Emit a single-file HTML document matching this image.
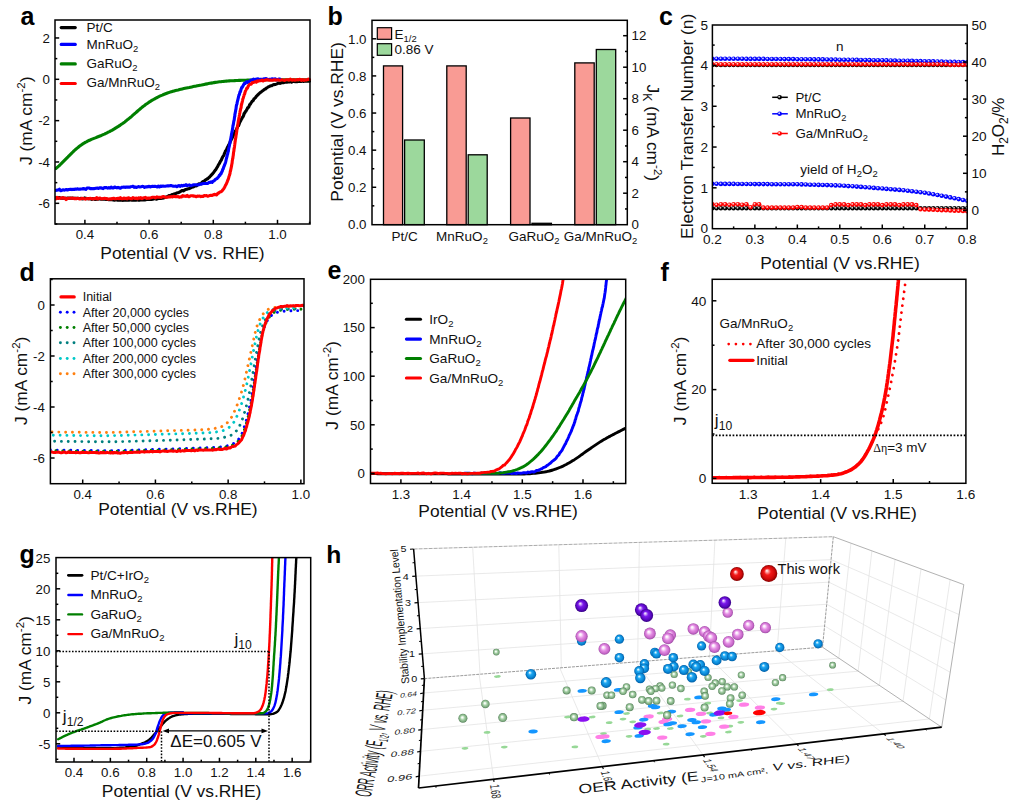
<!DOCTYPE html>
<html><head><meta charset="utf-8"><title>Figure</title>
<style>
html,body{margin:0;padding:0;background:#fff;}
body{width:1019px;height:808px;overflow:hidden;font-family:"Liberation Sans",sans-serif;}
svg{display:block;font-family:"Liberation Sans",sans-serif;}
</style></head><body>
<svg width="1019" height="808" viewBox="0 0 1019 808">
<rect width="1019" height="808" fill="#fff"/>
<clipPath id="ca"><rect x="55" y="20" width="256.5" height="204"/></clipPath>
<g clip-path="url(#ca)">
<path d="M55.9,197.9 L57.1,198.0 L58.3,197.9 L59.5,197.6 L60.7,198.2 L61.9,198.1 L63.1,197.9 L64.2,198.2 L65.4,198.2 L66.6,198.2 L67.8,198.1 L69.0,198.3 L70.2,198.0 L71.4,198.2 L72.6,198.1 L73.8,198.4 L75.0,198.3 L76.2,198.3 L77.4,198.2 L78.6,198.4 L79.8,198.5 L80.9,198.4 L82.1,198.9 L83.3,198.8 L84.5,197.9 L85.7,198.2 L86.9,198.7 L88.1,198.6 L89.3,198.8 L90.5,198.9 L91.7,199.4 L92.9,198.6 L94.1,198.9 L95.3,199.5 L96.5,199.2 L97.6,199.3 L98.8,199.0 L100.0,198.8 L101.2,199.3 L102.4,199.3 L103.6,199.1 L104.8,199.3 L106.0,199.5 L107.2,199.3 L108.4,199.6 L109.6,199.7 L110.8,199.7 L112.0,199.6 L113.2,200.0 L114.3,200.1 L115.5,200.0 L116.7,199.8 L117.9,200.2 L119.1,199.9 L120.3,200.3 L121.5,199.8 L122.7,200.4 L123.9,200.1 L125.1,199.9 L126.3,200.1 L127.5,200.2 L128.7,200.3 L129.8,200.0 L131.0,199.9 L132.2,200.2 L133.4,200.0 L134.6,200.2 L135.8,200.3 L137.0,199.7 L138.2,200.1 L139.4,200.3 L140.6,199.9 L141.8,199.7 L143.0,200.0 L144.2,199.8 L145.4,199.9 L146.6,199.5 L147.8,199.2 L149.0,199.4 L150.2,199.2 L151.4,199.5 L152.6,199.2 L153.8,198.7 L154.9,198.7 L156.1,199.1 L157.3,198.9 L158.5,198.5 L159.6,198.5 L160.8,198.5 L161.9,198.3 L163.1,198.1 L164.2,197.7 L165.4,197.3 L166.5,196.9 L167.6,196.8 L168.8,195.6 L169.9,195.7 L171.0,195.3 L172.1,194.5 L173.3,194.4 L174.4,193.7 L175.5,193.7 L176.6,193.0 L177.8,192.7 L178.9,192.4 L180.0,191.8 L181.1,191.1 L182.3,190.5 L183.4,190.9 L184.5,190.1 L185.7,189.5 L186.8,189.3 L187.9,188.8 L189.1,188.7 L190.2,188.1 L191.3,187.6 L192.4,187.0 L193.6,186.9 L194.6,186.0 L195.7,186.0 L196.8,185.7 L197.9,184.4 L198.9,183.7 L199.9,183.9 L201.0,183.8 L202.0,182.3 L203.0,181.6 L204.0,181.4 L205.0,180.3 L206.0,179.7 L207.0,179.0 L208.0,178.5 L208.9,177.5 L209.8,176.9 L210.6,175.9 L211.5,174.9 L212.2,174.2 L213.0,173.2 L213.7,172.5 L214.4,171.3 L215.1,170.3 L215.7,169.9 L216.4,168.5 L217.0,167.5 L217.6,166.6 L218.2,165.3 L218.8,164.3 L219.4,163.4 L220.0,162.3 L220.6,160.9 L221.2,160.4 L221.7,159.0 L222.3,157.8 L222.8,156.8 L223.4,155.8 L223.9,155.3 L224.4,153.5 L224.9,152.8 L225.4,151.1 L225.9,150.6 L226.5,149.7 L227.0,148.3 L227.5,147.2 L228.0,146.3 L228.5,145.3 L229.1,144.3 L229.6,143.5 L230.1,142.0 L230.7,140.7 L231.2,139.8 L231.7,138.7 L232.2,137.7 L232.8,136.6 L233.3,135.6 L233.8,134.0 L234.3,133.6 L234.9,132.2 L235.4,131.0 L235.9,130.3 L236.5,129.4 L237.0,128.2 L237.5,127.0 L238.1,125.7 L238.6,125.6 L239.2,124.0 L239.7,122.5 L240.3,121.5 L240.8,120.6 L241.4,119.2 L241.9,118.5 L242.5,117.3 L243.0,116.7 L243.6,115.5 L244.1,113.5 L244.7,113.2 L245.3,111.7 L245.9,111.4 L246.5,110.1 L247.1,109.2 L247.7,107.7 L248.3,107.5 L249.0,106.5 L249.6,104.8 L250.3,104.2 L251.0,102.9 L251.7,102.1 L252.4,100.9 L253.2,100.7 L253.9,99.0 L254.7,98.3 L255.5,97.6 L256.3,96.4 L257.1,95.6 L258.0,94.7 L258.8,94.0 L259.7,93.0 L260.6,92.4 L261.5,91.7 L262.4,90.9 L263.4,90.2 L264.4,89.4 L265.4,89.0 L266.4,88.1 L267.4,87.5 L268.5,86.8 L269.5,86.4 L270.6,85.7 L271.7,85.7 L272.8,84.9 L274.0,84.6 L275.1,84.5 L276.3,84.1 L277.4,83.6 L278.6,83.0 L279.8,83.4 L280.9,83.1 L282.1,82.5 L283.3,82.8 L284.5,82.3 L285.7,82.0 L286.8,82.2 L288.0,82.0 L289.2,82.0 L290.4,81.4 L291.6,82.2 L292.8,81.5 L294.0,81.3 L295.2,81.7 L296.4,81.4 L297.6,81.6 L298.7,81.3 L299.9,81.4 L301.1,81.4 L302.3,81.1 L303.5,81.4 L304.7,81.1 L305.9,81.0 L307.1,81.2 L308.3,81.3 L309.5,81.1" fill="none" stroke="#000000" stroke-width="3.1" stroke-linejoin="round" stroke-linecap="round" />
<path d="M55.9,168.5 L56.9,167.6 L58.0,166.7 L59.0,165.8 L60.0,164.8 L61.0,163.9 L62.0,162.9 L63.0,161.9 L64.0,160.9 L65.0,159.9 L66.0,158.9 L67.0,157.9 L68.0,156.9 L69.0,155.8 L70.0,154.8 L71.0,153.8 L72.0,152.8 L73.0,151.9 L74.0,150.9 L75.1,149.9 L76.1,149.0 L77.2,148.1 L78.3,147.2 L79.4,146.3 L80.5,145.5 L81.6,144.7 L82.8,143.9 L84.0,143.2 L85.2,142.4 L86.4,141.8 L87.6,141.1 L88.9,140.5 L90.1,140.0 L91.4,139.4 L92.7,138.9 L94.0,138.4 L95.3,137.9 L96.7,137.3 L98.0,136.8 L99.3,136.3 L100.6,135.8 L101.9,135.2 L103.1,134.6 L104.4,134.1 L105.7,133.5 L107.0,132.8 L108.2,132.2 L109.5,131.6 L110.7,130.9 L111.9,130.3 L113.1,129.6 L114.3,128.9 L115.5,128.1 L116.7,127.4 L117.9,126.7 L119.1,125.9 L120.3,125.1 L121.4,124.3 L122.6,123.5 L123.7,122.7 L124.8,121.9 L125.9,121.0 L127.0,120.1 L128.1,119.3 L129.2,118.4 L130.3,117.5 L131.4,116.6 L132.4,115.7 L133.5,114.7 L134.5,113.8 L135.6,112.9 L136.6,112.0 L137.7,111.0 L138.7,110.1 L139.8,109.2 L140.9,108.3 L142.0,107.4 L143.0,106.5 L144.2,105.7 L145.3,104.8 L146.4,104.0 L147.6,103.2 L148.7,102.4 L149.9,101.7 L151.1,100.9 L152.3,100.2 L153.5,99.5 L154.7,98.8 L155.9,98.1 L157.2,97.5 L158.4,96.8 L159.7,96.2 L161.0,95.6 L162.3,95.1 L163.6,94.5 L164.9,94.0 L166.2,93.5 L167.5,93.0 L168.8,92.6 L170.1,92.1 L171.5,91.7 L172.8,91.3 L174.2,90.9 L175.5,90.5 L176.9,90.2 L178.2,89.9 L179.6,89.5 L180.9,89.2 L182.3,88.9 L183.7,88.6 L185.1,88.3 L186.4,88.0 L187.8,87.7 L189.2,87.5 L190.5,87.2 L191.9,86.9 L193.3,86.6 L194.7,86.3 L196.0,86.1 L197.4,85.8 L198.8,85.5 L200.1,85.2 L201.5,85.0 L202.9,84.7 L204.3,84.4 L205.6,84.1 L207.0,83.9 L208.4,83.6 L209.8,83.3 L211.1,83.1 L212.5,82.9 L213.9,82.6 L215.3,82.4 L216.7,82.2 L218.1,82.0 L219.4,81.8 L220.8,81.7 L222.2,81.5 L223.6,81.4 L225.0,81.2 L226.4,81.1 L227.8,81.0 L229.2,80.9 L230.6,80.8 L232.0,80.7 L233.4,80.7 L234.8,80.6 L236.2,80.5 L237.6,80.5 L239.0,80.4 L240.4,80.4 L241.8,80.3 L243.2,80.3 L244.6,80.2 L246.0,80.2 L247.4,80.1 L248.8,80.1 L250.2,80.1 L251.6,80.0 L253.0,80.0 L254.4,80.0 L255.8,80.0 L257.2,79.9 L258.6,79.9 L260.0,79.9 L261.4,79.9 L262.8,79.9 L264.2,79.9 L265.6,79.8 L267.0,79.8 L268.4,79.8 L269.8,79.8 L271.2,79.8 L272.6,79.8 L274.0,79.8 L275.4,79.8 L276.8,79.8 L278.2,79.8 L279.6,79.8 L281.0,79.8 L282.4,79.8 L283.8,79.8 L285.2,79.8 L286.6,79.8 L288.0,79.8 L289.4,79.8 L290.8,79.8 L292.2,79.8 L293.6,79.8 L295.0,79.8 L296.4,79.8 L297.8,79.8 L299.2,79.8 L300.6,79.8 L302.0,79.8 L303.4,79.8 L304.8,79.8 L306.2,79.8 L307.6,79.8 L309.0,79.8" fill="none" stroke="#007f00" stroke-width="3.1" stroke-linejoin="round" stroke-linecap="round" />
<path d="M55.9,190.4 L57.1,190.1 L58.2,190.0 L59.4,189.2 L60.5,190.7 L61.7,190.4 L62.8,189.8 L64.0,190.1 L65.1,189.9 L66.3,189.5 L67.4,190.0 L68.6,189.5 L69.7,189.4 L70.9,189.2 L72.0,189.6 L73.2,189.3 L74.3,189.5 L75.5,189.0 L76.6,189.2 L77.8,188.8 L78.9,189.3 L80.1,189.1 L81.2,189.0 L82.4,189.0 L83.5,188.5 L84.7,189.0 L85.8,189.4 L87.0,188.1 L88.1,188.0 L89.3,188.0 L90.4,188.8 L91.6,188.5 L92.7,188.8 L93.9,188.6 L95.0,188.4 L96.2,188.3 L97.3,188.1 L98.5,188.4 L99.6,187.7 L100.8,187.9 L101.9,188.1 L103.1,188.6 L104.2,187.6 L105.4,187.5 L106.5,187.6 L107.7,188.1 L108.8,187.6 L110.0,188.1 L111.1,187.0 L112.3,188.0 L113.4,187.9 L114.6,187.0 L115.8,187.5 L116.9,187.9 L118.1,187.4 L119.2,187.7 L120.4,188.2 L121.5,187.4 L122.7,187.2 L123.8,187.0 L125.0,187.4 L126.1,187.1 L127.3,187.1 L128.4,187.1 L129.6,187.3 L130.7,186.7 L131.9,186.5 L133.0,186.2 L134.2,187.4 L135.3,187.0 L136.5,187.5 L137.6,186.9 L138.8,186.6 L139.9,187.0 L141.1,186.8 L142.2,186.4 L143.4,186.5 L144.6,187.4 L145.7,186.9 L146.9,186.9 L148.0,186.6 L149.2,186.4 L150.3,186.9 L151.5,186.6 L152.6,186.3 L153.8,186.5 L154.9,186.2 L156.1,186.6 L157.2,186.9 L158.4,186.1 L159.5,186.9 L160.7,186.1 L161.8,186.4 L163.0,186.0 L164.1,186.2 L165.3,186.2 L166.4,186.0 L167.6,185.9 L168.7,185.9 L169.9,185.8 L171.0,185.5 L172.2,185.9 L173.3,186.1 L174.5,186.2 L175.7,186.1 L176.8,186.7 L178.0,185.9 L179.1,185.6 L180.3,186.3 L181.4,185.3 L182.6,185.9 L183.7,185.2 L184.9,185.6 L186.0,184.7 L187.2,185.7 L188.3,185.2 L189.5,184.9 L190.6,185.7 L191.8,185.4 L192.9,185.0 L194.1,184.7 L195.2,184.8 L196.4,184.7 L197.5,184.9 L198.7,184.8 L199.8,184.2 L200.9,184.1 L202.1,183.9 L203.3,183.5 L204.4,183.5 L205.6,183.5 L206.7,183.5 L207.9,183.4 L209.0,182.4 L210.1,182.5 L211.1,181.9 L212.1,182.4 L213.2,181.1 L214.2,180.7 L215.2,179.6 L216.2,178.9 L217.1,178.5 L217.9,177.4 L218.6,176.9 L219.3,175.4 L219.9,175.3 L220.5,173.8 L221.1,173.7 L221.7,171.9 L222.2,171.4 L222.7,169.4 L223.2,168.9 L223.6,167.4 L224.0,166.4 L224.4,165.5 L224.8,164.3 L225.2,163.4 L225.5,162.5 L225.8,161.4 L226.1,160.0 L226.4,158.5 L226.7,157.5 L227.0,156.6 L227.3,154.8 L227.5,154.7 L227.8,153.2 L228.0,152.1 L228.3,151.4 L228.5,150.1 L228.7,148.8 L229.0,147.3 L229.2,146.6 L229.4,145.5 L229.7,143.9 L229.9,143.5 L230.1,142.2 L230.4,140.2 L230.6,139.8 L230.8,138.2 L231.0,137.9 L231.2,136.6 L231.4,134.8 L231.6,133.7 L231.8,133.0 L232.0,131.7 L232.2,131.2 L232.4,129.8 L232.6,128.3 L232.8,127.4 L233.0,125.4 L233.2,125.1 L233.4,124.1 L233.6,122.6 L233.8,121.3 L234.0,120.6 L234.2,120.0 L234.4,118.2 L234.6,116.6 L234.8,116.4 L234.9,114.1 L235.1,113.8 L235.3,112.3 L235.5,111.6 L235.7,109.9 L235.9,109.5 L236.1,108.0 L236.3,106.2 L236.5,105.0 L236.8,104.4 L237.0,103.9 L237.2,102.3 L237.5,101.2 L237.8,100.0 L238.0,99.2 L238.3,97.9 L238.6,96.7 L238.9,95.2 L239.3,94.8 L239.6,93.7 L240.0,91.7 L240.4,91.9 L240.8,90.3 L241.2,88.9 L241.7,87.4 L242.3,87.2 L242.9,86.1 L243.6,84.7 L244.4,83.3 L245.1,83.5 L246.0,82.2 L246.8,81.7 L247.8,82.4 L248.9,81.7 L250.0,80.8 L251.2,80.0 L252.4,80.2 L253.5,79.0 L254.6,79.7 L255.8,79.3 L256.9,79.1 L258.1,78.9 L259.2,79.5 L260.4,79.3 L261.5,79.3 L262.7,79.5 L263.9,78.9 L265.0,78.8 L266.2,78.6 L267.3,79.1 L268.5,79.5 L269.6,79.2 L270.8,79.4 L271.9,78.8 L273.1,79.1 L274.2,79.0 L275.4,78.8 L276.5,79.9 L277.7,79.6 L278.8,79.0 L280.0,79.0" fill="none" stroke="#0000ff" stroke-width="3.1" stroke-linejoin="round" stroke-linecap="round" />
<path d="M55.9,198.9 L57.0,197.3 L58.2,198.4 L59.3,198.1 L60.4,198.1 L61.6,198.2 L62.7,197.6 L63.8,198.3 L65.0,198.0 L66.1,199.5 L67.2,198.5 L68.4,198.3 L69.5,198.3 L70.6,198.2 L71.8,198.1 L72.9,198.3 L74.0,198.6 L75.2,198.4 L76.3,198.8 L77.4,198.4 L78.6,198.5 L79.7,199.0 L80.8,198.7 L81.9,198.3 L83.1,198.5 L84.2,198.7 L85.3,199.2 L86.5,198.5 L87.6,198.5 L88.7,198.9 L89.9,198.3 L91.0,198.5 L92.1,198.9 L93.3,198.8 L94.4,198.6 L95.5,198.8 L96.7,197.6 L97.8,198.9 L98.9,198.3 L100.1,198.0 L101.2,198.7 L102.3,198.8 L103.5,198.4 L104.6,198.2 L105.7,198.6 L106.9,198.6 L108.0,199.1 L109.1,198.9 L110.3,198.7 L111.4,199.0 L112.5,198.5 L113.6,198.3 L114.8,198.8 L115.9,198.8 L117.0,198.5 L118.2,198.3 L119.3,198.7 L120.4,197.7 L121.6,198.8 L122.7,198.8 L123.8,198.0 L125.0,198.6 L126.1,198.2 L127.2,198.8 L128.4,197.8 L129.5,198.2 L130.6,198.7 L131.8,198.8 L132.9,197.6 L134.0,198.2 L135.2,198.4 L136.3,198.1 L137.4,198.8 L138.5,197.8 L139.7,198.3 L140.8,197.7 L141.9,198.6 L143.1,198.0 L144.2,197.8 L145.3,197.3 L146.5,198.5 L147.6,198.1 L148.7,198.0 L149.9,198.1 L151.0,197.8 L152.1,197.4 L153.3,197.3 L154.4,197.2 L155.5,197.9 L156.7,196.9 L157.8,197.1 L158.9,197.2 L160.0,197.3 L161.2,197.4 L162.3,196.7 L163.4,196.5 L164.6,197.0 L165.7,197.4 L166.8,197.2 L168.0,196.9 L169.1,196.7 L170.2,196.9 L171.4,196.6 L172.5,197.0 L173.6,196.3 L174.8,196.6 L175.9,196.5 L177.0,196.7 L178.1,196.5 L179.3,197.3 L180.4,196.9 L181.5,196.9 L182.7,195.6 L183.8,196.2 L185.0,196.1 L186.1,196.4 L187.2,195.4 L188.4,196.6 L189.5,196.6 L190.7,195.7 L191.8,195.8 L192.9,195.9 L194.1,196.1 L195.2,196.3 L196.4,196.8 L197.5,196.0 L198.6,196.3 L199.8,196.0 L200.9,196.6 L202.0,196.2 L203.1,196.4 L204.3,195.5 L205.4,195.7 L206.5,195.5 L207.6,196.2 L208.7,195.9 L209.8,195.5 L211.0,195.3 L212.1,195.5 L213.3,194.8 L214.4,194.4 L215.6,194.6 L216.7,194.9 L217.7,193.5 L218.7,193.0 L219.6,192.3 L220.5,191.7 L221.3,191.6 L222.1,190.9 L222.9,189.7 L223.6,188.9 L224.3,187.8 L224.9,186.8 L225.5,185.2 L226.0,184.6 L226.4,183.8 L226.9,182.5 L227.3,181.6 L227.7,180.4 L228.1,179.5 L228.4,178.8 L228.8,177.3 L229.1,176.2 L229.4,175.5 L229.7,174.3 L230.0,173.6 L230.3,171.1 L230.5,171.1 L230.8,169.5 L231.0,168.6 L231.2,167.7 L231.4,166.7 L231.6,165.6 L231.8,164.2 L232.0,163.6 L232.2,161.8 L232.3,160.7 L232.5,159.9 L232.7,158.3 L232.9,158.1 L233.0,156.6 L233.2,155.9 L233.4,154.0 L233.5,152.8 L233.7,151.8 L233.9,150.9 L234.0,149.3 L234.2,148.5 L234.4,147.3 L234.5,146.7 L234.7,144.8 L234.8,144.3 L235.0,142.6 L235.2,141.3 L235.3,140.3 L235.5,139.0 L235.6,138.4 L235.8,137.6 L236.0,136.1 L236.1,135.2 L236.3,134.4 L236.5,132.8 L236.7,131.7 L236.8,130.4 L237.0,128.8 L237.2,128.5 L237.4,126.5 L237.6,126.2 L237.7,124.9 L237.9,124.2 L238.1,122.6 L238.3,121.2 L238.5,120.5 L238.7,119.1 L238.9,118.1 L239.1,117.1 L239.3,115.9 L239.5,114.8 L239.7,113.5 L239.9,112.6 L240.2,110.8 L240.4,110.3 L240.6,108.9 L240.8,108.6 L241.1,107.5 L241.3,105.3 L241.5,104.9 L241.8,103.7 L242.1,102.3 L242.3,101.7 L242.6,100.3 L242.9,98.7 L243.2,98.2 L243.5,97.1 L243.8,96.1 L244.2,94.6 L244.6,94.1 L244.9,93.0 L245.3,91.3 L245.8,90.4 L246.2,89.6 L246.7,88.4 L247.3,88.3 L247.9,86.9 L248.6,85.5 L249.4,84.7 L250.3,84.2 L251.2,84.3 L252.1,82.8 L253.1,82.5 L254.1,82.2 L255.2,81.7 L256.3,82.2 L257.5,80.9 L258.6,81.1 L259.7,80.8 L260.8,80.8 L261.9,80.1 L263.1,81.0 L264.2,80.2 L265.3,80.2 L266.5,79.7 L267.6,79.7 L268.7,80.1 L269.9,80.2 L271.0,80.1 L272.1,80.2 L273.3,80.1 L274.4,79.8 L275.5,80.1 L276.7,80.0 L277.8,79.8 L278.9,80.1 L280.1,80.2 L281.2,79.9 L282.3,79.7 L283.4,80.1 L284.6,80.5 L285.7,79.7 L286.8,79.8 L288.0,79.8 L289.1,80.2 L290.2,79.2 L291.4,79.9 L292.5,80.2 L293.6,79.5 L294.8,80.3 L295.9,80.0 L297.0,79.6 L298.2,79.9 L299.3,79.3 L300.4,79.6 L301.6,80.4 L302.7,79.5 L303.8,80.4 L305.0,79.8 L306.1,80.1 L307.2,79.8 L308.4,79.0 L309.5,79.6" fill="none" stroke="#ff0000" stroke-width="3.1" stroke-linejoin="round" stroke-linecap="round" />
</g>
<rect x="55.00" y="20.00" width="255.00" height="204.00" fill="none" stroke="#000" stroke-width="1.5" />
<line x1="84.90" y1="224.00" x2="84.90" y2="219.80" stroke="#000" stroke-width="1.5" />
<line x1="149.10" y1="224.00" x2="149.10" y2="219.80" stroke="#000" stroke-width="1.5" />
<line x1="213.30" y1="224.00" x2="213.30" y2="219.80" stroke="#000" stroke-width="1.5" />
<line x1="277.50" y1="224.00" x2="277.50" y2="219.80" stroke="#000" stroke-width="1.5" />
<line x1="117.00" y1="224.00" x2="117.00" y2="221.70" stroke="#000" stroke-width="1.5" />
<line x1="181.20" y1="224.00" x2="181.20" y2="221.70" stroke="#000" stroke-width="1.5" />
<line x1="245.40" y1="224.00" x2="245.40" y2="221.70" stroke="#000" stroke-width="1.5" />
<line x1="309.60" y1="224.00" x2="309.60" y2="221.70" stroke="#000" stroke-width="1.5" />
<line x1="55.00" y1="37.96" x2="59.20" y2="37.96" stroke="#000" stroke-width="1.5" />
<line x1="55.00" y1="79.30" x2="59.20" y2="79.30" stroke="#000" stroke-width="1.5" />
<line x1="55.00" y1="120.64" x2="59.20" y2="120.64" stroke="#000" stroke-width="1.5" />
<line x1="55.00" y1="161.98" x2="59.20" y2="161.98" stroke="#000" stroke-width="1.5" />
<line x1="55.00" y1="203.32" x2="59.20" y2="203.32" stroke="#000" stroke-width="1.5" />
<line x1="55.00" y1="58.63" x2="57.30" y2="58.63" stroke="#000" stroke-width="1.5" />
<line x1="55.00" y1="99.97" x2="57.30" y2="99.97" stroke="#000" stroke-width="1.5" />
<line x1="55.00" y1="141.31" x2="57.30" y2="141.31" stroke="#000" stroke-width="1.5" />
<line x1="55.00" y1="182.65" x2="57.30" y2="182.65" stroke="#000" stroke-width="1.5" />
<line x1="55.00" y1="223.99" x2="57.30" y2="223.99" stroke="#000" stroke-width="1.5" />
<text x="84.90" y="239.30" font-size="13.3" text-anchor="middle" font-weight="normal" fill="#111" >0.4</text>
<text x="149.10" y="239.30" font-size="13.3" text-anchor="middle" font-weight="normal" fill="#111" >0.6</text>
<text x="213.30" y="239.30" font-size="13.3" text-anchor="middle" font-weight="normal" fill="#111" >0.8</text>
<text x="277.50" y="239.30" font-size="13.3" text-anchor="middle" font-weight="normal" fill="#111" >1.0</text>
<text x="50.00" y="42.66" font-size="13.3" text-anchor="end" font-weight="normal" fill="#111" >2</text>
<text x="50.00" y="84.00" font-size="13.3" text-anchor="end" font-weight="normal" fill="#111" >0</text>
<text x="50.00" y="125.34" font-size="13.3" text-anchor="end" font-weight="normal" fill="#111" >-2</text>
<text x="50.00" y="166.68" font-size="13.3" text-anchor="end" font-weight="normal" fill="#111" >-4</text>
<text x="50.00" y="208.02" font-size="13.3" text-anchor="end" font-weight="normal" fill="#111" >-6</text>
<text x="182.50" y="258.80" font-size="17.4" text-anchor="middle" font-weight="normal" fill="#111" >Potential (V vs. RHE)</text>
<text x="32.30" y="120.80" font-size="17.4" text-anchor="middle" font-weight="normal" fill="#111" transform="rotate(-90 32.30 120.80)" >J (mA cm<tspan baseline-shift="64%" font-size="66%">-2</tspan>)</text>
<text x="20.50" y="25.00" font-size="25" text-anchor="start" font-weight="bold" fill="#000" >a</text>
<line x1="61.20" y1="27.60" x2="75.30" y2="27.60" stroke="#000000" stroke-width="3.1" stroke-linecap="round"/>
<text x="86.50" y="32.00" font-size="13.5" text-anchor="start" font-weight="normal" fill="#111" >Pt/C</text>
<line x1="61.20" y1="44.40" x2="75.30" y2="44.40" stroke="#0000ff" stroke-width="3.1" stroke-linecap="round"/>
<text x="86.50" y="48.80" font-size="13.5" text-anchor="start" font-weight="normal" fill="#111" >MnRuO<tspan baseline-shift="-33%" font-size="70%">2</tspan></text>
<line x1="61.20" y1="63.90" x2="75.30" y2="63.90" stroke="#007f00" stroke-width="3.1" stroke-linecap="round"/>
<text x="86.50" y="68.30" font-size="13.5" text-anchor="start" font-weight="normal" fill="#111" >GaRuO<tspan baseline-shift="-33%" font-size="70%">2</tspan></text>
<line x1="61.20" y1="83.50" x2="75.30" y2="83.50" stroke="#ff0000" stroke-width="3.1" stroke-linecap="round"/>
<text x="86.50" y="86.70" font-size="13.5" text-anchor="start" font-weight="normal" fill="#111" >Ga/MnRuO<tspan baseline-shift="-33%" font-size="70%">2</tspan></text>
<rect x="383.50" y="65.90" width="19.10" height="158.80" fill="#f99b94" stroke="#000" stroke-width="1.3" />
<rect x="404.60" y="140.00" width="19.70" height="84.70" fill="#9cd89c" stroke="#000" stroke-width="1.3" />
<rect x="446.80" y="65.90" width="19.40" height="158.80" fill="#f99b94" stroke="#000" stroke-width="1.3" />
<rect x="468.20" y="154.80" width="19.00" height="69.90" fill="#9cd89c" stroke="#000" stroke-width="1.3" />
<rect x="510.60" y="118.00" width="19.40" height="106.70" fill="#f99b94" stroke="#000" stroke-width="1.3" />
<rect x="532.00" y="223.30" width="19.40" height="1.40" fill="#9cd89c" stroke="#000" stroke-width="1.3" />
<rect x="574.80" y="62.90" width="19.40" height="161.80" fill="#f99b94" stroke="#000" stroke-width="1.3" />
<rect x="596.30" y="49.50" width="19.40" height="175.20" fill="#9cd89c" stroke="#000" stroke-width="1.3" />
<rect x="372.00" y="20.30" width="255.30" height="204.40" fill="none" stroke="#000" stroke-width="1.5" />
<line x1="372.00" y1="187.28" x2="376.20" y2="187.28" stroke="#000" stroke-width="1.5" />
<line x1="372.00" y1="150.16" x2="376.20" y2="150.16" stroke="#000" stroke-width="1.5" />
<line x1="372.00" y1="113.04" x2="376.20" y2="113.04" stroke="#000" stroke-width="1.5" />
<line x1="372.00" y1="75.92" x2="376.20" y2="75.92" stroke="#000" stroke-width="1.5" />
<line x1="372.00" y1="38.80" x2="376.20" y2="38.80" stroke="#000" stroke-width="1.5" />
<line x1="372.00" y1="205.84" x2="374.30" y2="205.84" stroke="#000" stroke-width="1.5" />
<line x1="372.00" y1="168.72" x2="374.30" y2="168.72" stroke="#000" stroke-width="1.5" />
<line x1="372.00" y1="131.60" x2="374.30" y2="131.60" stroke="#000" stroke-width="1.5" />
<line x1="372.00" y1="94.48" x2="374.30" y2="94.48" stroke="#000" stroke-width="1.5" />
<line x1="372.00" y1="57.36" x2="374.30" y2="57.36" stroke="#000" stroke-width="1.5" />
<line x1="627.30" y1="193.20" x2="623.10" y2="193.20" stroke="#000" stroke-width="1.5" />
<line x1="627.30" y1="161.70" x2="623.10" y2="161.70" stroke="#000" stroke-width="1.5" />
<line x1="627.30" y1="130.20" x2="623.10" y2="130.20" stroke="#000" stroke-width="1.5" />
<line x1="627.30" y1="98.70" x2="623.10" y2="98.70" stroke="#000" stroke-width="1.5" />
<line x1="627.30" y1="67.20" x2="623.10" y2="67.20" stroke="#000" stroke-width="1.5" />
<line x1="627.30" y1="35.70" x2="623.10" y2="35.70" stroke="#000" stroke-width="1.5" />
<line x1="627.30" y1="208.95" x2="625.00" y2="208.95" stroke="#000" stroke-width="1.5" />
<line x1="627.30" y1="177.45" x2="625.00" y2="177.45" stroke="#000" stroke-width="1.5" />
<line x1="627.30" y1="145.95" x2="625.00" y2="145.95" stroke="#000" stroke-width="1.5" />
<line x1="627.30" y1="114.45" x2="625.00" y2="114.45" stroke="#000" stroke-width="1.5" />
<line x1="627.30" y1="82.95" x2="625.00" y2="82.95" stroke="#000" stroke-width="1.5" />
<line x1="627.30" y1="51.45" x2="625.00" y2="51.45" stroke="#000" stroke-width="1.5" />
<text x="366.50" y="229.10" font-size="13.3" text-anchor="end" font-weight="normal" fill="#111" >0.0</text>
<text x="366.50" y="191.98" font-size="13.3" text-anchor="end" font-weight="normal" fill="#111" >0.2</text>
<text x="366.50" y="154.86" font-size="13.3" text-anchor="end" font-weight="normal" fill="#111" >0.4</text>
<text x="366.50" y="117.74" font-size="13.3" text-anchor="end" font-weight="normal" fill="#111" >0.6</text>
<text x="366.50" y="80.62" font-size="13.3" text-anchor="end" font-weight="normal" fill="#111" >0.8</text>
<text x="366.50" y="43.50" font-size="13.3" text-anchor="end" font-weight="normal" fill="#111" >1.0</text>
<text x="631.50" y="229.40" font-size="13.3" text-anchor="start" font-weight="normal" fill="#111" >0</text>
<text x="631.50" y="197.90" font-size="13.3" text-anchor="start" font-weight="normal" fill="#111" >2</text>
<text x="631.50" y="166.40" font-size="13.3" text-anchor="start" font-weight="normal" fill="#111" >4</text>
<text x="631.50" y="134.90" font-size="13.3" text-anchor="start" font-weight="normal" fill="#111" >6</text>
<text x="631.50" y="103.40" font-size="13.3" text-anchor="start" font-weight="normal" fill="#111" >8</text>
<text x="631.50" y="71.90" font-size="13.3" text-anchor="start" font-weight="normal" fill="#111" >10</text>
<text x="631.50" y="40.40" font-size="13.3" text-anchor="start" font-weight="normal" fill="#111" >12</text>
<text x="404.60" y="241.00" font-size="13.5" text-anchor="middle" font-weight="normal" fill="#111" >Pt/C</text>
<text x="462.00" y="241.00" font-size="13.5" text-anchor="middle" font-weight="normal" fill="#111" >MnRuO<tspan baseline-shift="-33%" font-size="70%">2</tspan></text>
<text x="534.00" y="241.00" font-size="13.5" text-anchor="middle" font-weight="normal" fill="#111" >GaRuO<tspan baseline-shift="-33%" font-size="70%">2</tspan></text>
<text x="600.50" y="241.00" font-size="13.5" text-anchor="middle" font-weight="normal" fill="#111" >Ga/MnRuO<tspan baseline-shift="-33%" font-size="70%">2</tspan></text>
<text x="342.90" y="121.90" font-size="17.4" text-anchor="middle" font-weight="normal" fill="#111" transform="rotate(-90 342.90 121.90)" >Potential (V vs.RHE)</text>
<text x="646.90" y="132.80" font-size="17.4" text-anchor="middle" font-weight="normal" fill="#111" transform="rotate(90 646.90 132.80)" >J<tspan baseline-shift="-33%" font-size="70%">K</tspan> (mA cm<tspan baseline-shift="64%" font-size="66%">-2</tspan>)</text>
<text x="327.50" y="24.50" font-size="25" text-anchor="start" font-weight="bold" fill="#000" >b</text>
<rect x="377.30" y="27.70" width="14.30" height="11.60" fill="#f99b94" stroke="#000" stroke-width="1.2" />
<rect x="377.30" y="43.70" width="14.30" height="11.60" fill="#9cd89c" stroke="#000" stroke-width="1.2" />
<text x="394.50" y="38.50" font-size="13.5" text-anchor="start" font-weight="normal" fill="#111" >E<tspan baseline-shift="-33%" font-size="70%">1/2</tspan></text>
<text x="394.50" y="54.30" font-size="13.5" text-anchor="start" font-weight="normal" fill="#111" >0.86 V</text>
<defs><g id="mk000000"><circle r="2.3" fill="#000000"/><circle cx="-0.45" cy="-0.5" r="0.95" fill="#fff" fill-opacity="0.78"/></g><g id="mk0000ff"><circle r="2.3" fill="#0000ff"/><circle cx="-0.45" cy="-0.5" r="0.95" fill="#fff" fill-opacity="0.78"/></g><g id="mkff0000"><circle r="2.3" fill="#ff0000"/><circle cx="-0.45" cy="-0.5" r="0.95" fill="#fff" fill-opacity="0.78"/></g></defs>
<clipPath id="cc"><rect x="712.4" y="25" width="255.3" height="203.7"/></clipPath><g clip-path="url(#cc)">
<path d="M712.4,65.0 L716.6,65.0 L720.9,65.0 L725.1,65.0 L729.4,65.0 L733.6,65.0 L737.9,65.0 L742.1,65.0 L746.4,65.0 L750.6,65.0 L754.9,65.0 L759.1,65.0 L763.4,65.0 L767.6,65.0 L771.9,65.0 L776.1,65.0 L780.4,65.0 L784.6,65.0 L788.8,65.0 L793.1,65.0 L797.3,65.0 L801.6,65.0 L805.8,65.0 L810.1,65.0 L814.3,65.0 L818.6,65.0 L822.8,65.0 L827.1,65.0 L831.3,65.0 L835.6,65.0 L839.8,65.0 L844.1,65.0 L848.3,65.0 L852.6,65.0 L856.8,65.0 L861.0,65.0 L865.3,65.0 L869.5,65.0 L873.8,65.0 L878.0,65.0 L882.3,65.0 L886.5,65.0 L890.8,65.0 L895.0,65.0 L899.3,65.0 L903.5,65.0 L907.8,65.0 L912.0,65.0 L916.3,65.0 L920.5,65.0 L924.8,65.0 L929.0,65.0 L933.2,65.0 L937.5,65.0 L941.7,65.0 L946.0,65.0 L950.2,65.0 L954.5,65.0 L958.7,65.0 L963.0,65.0 L967.2,65.0" fill="none" stroke="#000000" stroke-width="1.0" stroke-linejoin="round" stroke-linecap="round" />
<use href="#mk000000" x="712.4" y="65.0"/>
<use href="#mk000000" x="716.6" y="65.0"/>
<use href="#mk000000" x="720.9" y="65.0"/>
<use href="#mk000000" x="725.1" y="65.0"/>
<use href="#mk000000" x="729.4" y="65.0"/>
<use href="#mk000000" x="733.6" y="65.0"/>
<use href="#mk000000" x="737.9" y="65.0"/>
<use href="#mk000000" x="742.1" y="65.0"/>
<use href="#mk000000" x="746.4" y="65.0"/>
<use href="#mk000000" x="750.6" y="65.0"/>
<use href="#mk000000" x="754.9" y="65.0"/>
<use href="#mk000000" x="759.1" y="65.0"/>
<use href="#mk000000" x="763.4" y="65.0"/>
<use href="#mk000000" x="767.6" y="65.0"/>
<use href="#mk000000" x="771.9" y="65.0"/>
<use href="#mk000000" x="776.1" y="65.0"/>
<use href="#mk000000" x="780.4" y="65.0"/>
<use href="#mk000000" x="784.6" y="65.0"/>
<use href="#mk000000" x="788.8" y="65.0"/>
<use href="#mk000000" x="793.1" y="65.0"/>
<use href="#mk000000" x="797.3" y="65.0"/>
<use href="#mk000000" x="801.6" y="65.0"/>
<use href="#mk000000" x="805.8" y="65.0"/>
<use href="#mk000000" x="810.1" y="65.0"/>
<use href="#mk000000" x="814.3" y="65.0"/>
<use href="#mk000000" x="818.6" y="65.0"/>
<use href="#mk000000" x="822.8" y="65.0"/>
<use href="#mk000000" x="827.1" y="65.0"/>
<use href="#mk000000" x="831.3" y="65.0"/>
<use href="#mk000000" x="835.6" y="65.0"/>
<use href="#mk000000" x="839.8" y="65.0"/>
<use href="#mk000000" x="844.1" y="65.0"/>
<use href="#mk000000" x="848.3" y="65.0"/>
<use href="#mk000000" x="852.6" y="65.0"/>
<use href="#mk000000" x="856.8" y="65.0"/>
<use href="#mk000000" x="861.0" y="65.0"/>
<use href="#mk000000" x="865.3" y="65.0"/>
<use href="#mk000000" x="869.5" y="65.0"/>
<use href="#mk000000" x="873.8" y="65.0"/>
<use href="#mk000000" x="878.0" y="65.0"/>
<use href="#mk000000" x="882.3" y="65.0"/>
<use href="#mk000000" x="886.5" y="65.0"/>
<use href="#mk000000" x="890.8" y="65.0"/>
<use href="#mk000000" x="895.0" y="65.0"/>
<use href="#mk000000" x="899.3" y="65.0"/>
<use href="#mk000000" x="903.5" y="65.0"/>
<use href="#mk000000" x="907.8" y="65.0"/>
<use href="#mk000000" x="912.0" y="65.0"/>
<use href="#mk000000" x="916.3" y="65.0"/>
<use href="#mk000000" x="920.5" y="65.0"/>
<use href="#mk000000" x="924.8" y="65.0"/>
<use href="#mk000000" x="929.0" y="65.0"/>
<use href="#mk000000" x="933.2" y="65.0"/>
<use href="#mk000000" x="937.5" y="65.0"/>
<use href="#mk000000" x="941.7" y="65.0"/>
<use href="#mk000000" x="946.0" y="65.0"/>
<use href="#mk000000" x="950.2" y="65.0"/>
<use href="#mk000000" x="954.5" y="65.0"/>
<use href="#mk000000" x="958.7" y="65.0"/>
<use href="#mk000000" x="963.0" y="65.0"/>
<use href="#mk000000" x="967.2" y="65.0"/>
<path d="M712.4,58.8 L716.6,58.8 L720.9,58.8 L725.1,58.8 L729.4,58.8 L733.6,58.8 L737.9,58.8 L742.1,58.8 L746.4,58.9 L750.6,58.9 L754.9,58.9 L759.1,58.9 L763.4,58.9 L767.6,59.0 L771.9,59.0 L776.1,59.0 L780.4,59.0 L784.6,59.1 L788.8,59.1 L793.1,59.1 L797.3,59.2 L801.6,59.2 L805.8,59.3 L810.1,59.3 L814.3,59.4 L818.6,59.4 L822.8,59.4 L827.1,59.5 L831.3,59.6 L835.6,59.6 L839.8,59.7 L844.1,59.7 L848.3,59.8 L852.6,59.8 L856.8,59.9 L861.0,60.0 L865.3,60.0 L869.5,60.1 L873.8,60.2 L878.0,60.3 L882.3,60.3 L886.5,60.4 L890.8,60.5 L895.0,60.6 L899.3,60.7 L903.5,60.7 L907.8,60.8 L912.0,60.9 L916.3,61.0 L920.5,61.1 L924.8,61.2 L929.0,61.3 L933.2,61.4 L937.5,61.5 L941.7,61.6 L946.0,61.7 L950.2,61.8 L954.5,61.9 L958.7,62.0 L963.0,62.1 L967.2,62.3" fill="none" stroke="#0000ff" stroke-width="1.0" stroke-linejoin="round" stroke-linecap="round" />
<use href="#mk0000ff" x="712.4" y="58.8"/>
<use href="#mk0000ff" x="716.6" y="58.8"/>
<use href="#mk0000ff" x="720.9" y="58.8"/>
<use href="#mk0000ff" x="725.1" y="58.8"/>
<use href="#mk0000ff" x="729.4" y="58.8"/>
<use href="#mk0000ff" x="733.6" y="58.8"/>
<use href="#mk0000ff" x="737.9" y="58.8"/>
<use href="#mk0000ff" x="742.1" y="58.8"/>
<use href="#mk0000ff" x="746.4" y="58.9"/>
<use href="#mk0000ff" x="750.6" y="58.9"/>
<use href="#mk0000ff" x="754.9" y="58.9"/>
<use href="#mk0000ff" x="759.1" y="58.9"/>
<use href="#mk0000ff" x="763.4" y="58.9"/>
<use href="#mk0000ff" x="767.6" y="59.0"/>
<use href="#mk0000ff" x="771.9" y="59.0"/>
<use href="#mk0000ff" x="776.1" y="59.0"/>
<use href="#mk0000ff" x="780.4" y="59.0"/>
<use href="#mk0000ff" x="784.6" y="59.1"/>
<use href="#mk0000ff" x="788.8" y="59.1"/>
<use href="#mk0000ff" x="793.1" y="59.1"/>
<use href="#mk0000ff" x="797.3" y="59.2"/>
<use href="#mk0000ff" x="801.6" y="59.2"/>
<use href="#mk0000ff" x="805.8" y="59.3"/>
<use href="#mk0000ff" x="810.1" y="59.3"/>
<use href="#mk0000ff" x="814.3" y="59.4"/>
<use href="#mk0000ff" x="818.6" y="59.4"/>
<use href="#mk0000ff" x="822.8" y="59.4"/>
<use href="#mk0000ff" x="827.1" y="59.5"/>
<use href="#mk0000ff" x="831.3" y="59.6"/>
<use href="#mk0000ff" x="835.6" y="59.6"/>
<use href="#mk0000ff" x="839.8" y="59.7"/>
<use href="#mk0000ff" x="844.1" y="59.7"/>
<use href="#mk0000ff" x="848.3" y="59.8"/>
<use href="#mk0000ff" x="852.6" y="59.8"/>
<use href="#mk0000ff" x="856.8" y="59.9"/>
<use href="#mk0000ff" x="861.0" y="60.0"/>
<use href="#mk0000ff" x="865.3" y="60.0"/>
<use href="#mk0000ff" x="869.5" y="60.1"/>
<use href="#mk0000ff" x="873.8" y="60.2"/>
<use href="#mk0000ff" x="878.0" y="60.3"/>
<use href="#mk0000ff" x="882.3" y="60.3"/>
<use href="#mk0000ff" x="886.5" y="60.4"/>
<use href="#mk0000ff" x="890.8" y="60.5"/>
<use href="#mk0000ff" x="895.0" y="60.6"/>
<use href="#mk0000ff" x="899.3" y="60.7"/>
<use href="#mk0000ff" x="903.5" y="60.7"/>
<use href="#mk0000ff" x="907.8" y="60.8"/>
<use href="#mk0000ff" x="912.0" y="60.9"/>
<use href="#mk0000ff" x="916.3" y="61.0"/>
<use href="#mk0000ff" x="920.5" y="61.1"/>
<use href="#mk0000ff" x="924.8" y="61.2"/>
<use href="#mk0000ff" x="929.0" y="61.3"/>
<use href="#mk0000ff" x="933.2" y="61.4"/>
<use href="#mk0000ff" x="937.5" y="61.5"/>
<use href="#mk0000ff" x="941.7" y="61.6"/>
<use href="#mk0000ff" x="946.0" y="61.7"/>
<use href="#mk0000ff" x="950.2" y="61.8"/>
<use href="#mk0000ff" x="954.5" y="61.9"/>
<use href="#mk0000ff" x="958.7" y="62.0"/>
<use href="#mk0000ff" x="963.0" y="62.1"/>
<use href="#mk0000ff" x="967.2" y="62.3"/>
<path d="M712.4,64.2 L716.6,64.2 L720.9,64.2 L725.1,64.2 L729.4,64.2 L733.6,64.2 L737.9,64.2 L742.1,64.2 L746.4,64.2 L750.6,64.2 L754.9,64.2 L759.1,64.2 L763.4,64.2 L767.6,64.2 L771.9,64.2 L776.1,64.2 L780.4,64.2 L784.6,64.2 L788.8,64.2 L793.1,64.2 L797.3,64.2 L801.6,64.2 L805.8,64.2 L810.1,64.2 L814.3,64.2 L818.6,64.2 L822.8,64.2 L827.1,64.2 L831.3,64.2 L835.6,64.2 L839.8,64.2 L844.1,64.2 L848.3,64.2 L852.6,64.2 L856.8,64.2 L861.0,64.2 L865.3,64.2 L869.5,64.2 L873.8,64.2 L878.0,64.2 L882.3,64.2 L886.5,64.2 L890.8,64.2 L895.0,64.2 L899.3,64.2 L903.5,64.2 L907.8,64.2 L912.0,64.2 L916.3,64.2 L920.5,64.2 L924.8,64.2 L929.0,64.2 L933.2,64.2 L937.5,64.2 L941.7,64.2 L946.0,64.2 L950.2,64.8 L954.5,64.8 L958.7,64.8 L963.0,64.8 L967.2,64.8" fill="none" stroke="#ff0000" stroke-width="1.0" stroke-linejoin="round" stroke-linecap="round" />
<use href="#mkff0000" x="712.4" y="64.2"/>
<use href="#mkff0000" x="716.6" y="64.2"/>
<use href="#mkff0000" x="720.9" y="64.2"/>
<use href="#mkff0000" x="725.1" y="64.2"/>
<use href="#mkff0000" x="729.4" y="64.2"/>
<use href="#mkff0000" x="733.6" y="64.2"/>
<use href="#mkff0000" x="737.9" y="64.2"/>
<use href="#mkff0000" x="742.1" y="64.2"/>
<use href="#mkff0000" x="746.4" y="64.2"/>
<use href="#mkff0000" x="750.6" y="64.2"/>
<use href="#mkff0000" x="754.9" y="64.2"/>
<use href="#mkff0000" x="759.1" y="64.2"/>
<use href="#mkff0000" x="763.4" y="64.2"/>
<use href="#mkff0000" x="767.6" y="64.2"/>
<use href="#mkff0000" x="771.9" y="64.2"/>
<use href="#mkff0000" x="776.1" y="64.2"/>
<use href="#mkff0000" x="780.4" y="64.2"/>
<use href="#mkff0000" x="784.6" y="64.2"/>
<use href="#mkff0000" x="788.8" y="64.2"/>
<use href="#mkff0000" x="793.1" y="64.2"/>
<use href="#mkff0000" x="797.3" y="64.2"/>
<use href="#mkff0000" x="801.6" y="64.2"/>
<use href="#mkff0000" x="805.8" y="64.2"/>
<use href="#mkff0000" x="810.1" y="64.2"/>
<use href="#mkff0000" x="814.3" y="64.2"/>
<use href="#mkff0000" x="818.6" y="64.2"/>
<use href="#mkff0000" x="822.8" y="64.2"/>
<use href="#mkff0000" x="827.1" y="64.2"/>
<use href="#mkff0000" x="831.3" y="64.2"/>
<use href="#mkff0000" x="835.6" y="64.2"/>
<use href="#mkff0000" x="839.8" y="64.2"/>
<use href="#mkff0000" x="844.1" y="64.2"/>
<use href="#mkff0000" x="848.3" y="64.2"/>
<use href="#mkff0000" x="852.6" y="64.2"/>
<use href="#mkff0000" x="856.8" y="64.2"/>
<use href="#mkff0000" x="861.0" y="64.2"/>
<use href="#mkff0000" x="865.3" y="64.2"/>
<use href="#mkff0000" x="869.5" y="64.2"/>
<use href="#mkff0000" x="873.8" y="64.2"/>
<use href="#mkff0000" x="878.0" y="64.2"/>
<use href="#mkff0000" x="882.3" y="64.2"/>
<use href="#mkff0000" x="886.5" y="64.2"/>
<use href="#mkff0000" x="890.8" y="64.2"/>
<use href="#mkff0000" x="895.0" y="64.2"/>
<use href="#mkff0000" x="899.3" y="64.2"/>
<use href="#mkff0000" x="903.5" y="64.2"/>
<use href="#mkff0000" x="907.8" y="64.2"/>
<use href="#mkff0000" x="912.0" y="64.2"/>
<use href="#mkff0000" x="916.3" y="64.2"/>
<use href="#mkff0000" x="920.5" y="64.2"/>
<use href="#mkff0000" x="924.8" y="64.2"/>
<use href="#mkff0000" x="929.0" y="64.2"/>
<use href="#mkff0000" x="933.2" y="64.2"/>
<use href="#mkff0000" x="937.5" y="64.2"/>
<use href="#mkff0000" x="941.7" y="64.2"/>
<use href="#mkff0000" x="946.0" y="64.2"/>
<use href="#mkff0000" x="950.2" y="64.8"/>
<use href="#mkff0000" x="954.5" y="64.8"/>
<use href="#mkff0000" x="958.7" y="64.8"/>
<use href="#mkff0000" x="963.0" y="64.8"/>
<use href="#mkff0000" x="967.2" y="64.8"/>
<path d="M712.4,208.3 L716.6,208.3 L720.9,208.3 L725.1,208.3 L729.4,208.3 L733.6,208.3 L737.9,208.3 L742.1,208.3 L746.4,208.3 L750.6,208.3 L754.9,208.3 L759.1,208.3 L763.4,208.3 L767.6,208.3 L771.9,208.3 L776.1,208.3 L780.4,208.3 L784.6,208.3 L788.8,208.3 L793.1,208.3 L797.3,208.3 L801.6,208.3 L805.8,208.3 L810.1,208.3 L814.3,208.3 L818.6,208.3 L822.8,208.3 L827.1,208.3 L831.3,208.3 L835.6,208.3 L839.8,208.3 L844.1,208.3 L848.3,208.3 L852.6,208.3 L856.8,208.3 L861.0,208.3 L865.3,208.3 L869.5,208.3 L873.8,208.3 L878.0,208.3 L882.3,208.3 L886.5,208.3 L890.8,208.3 L895.0,208.3 L899.3,208.3 L903.5,208.3 L907.8,208.3 L912.0,208.3 L916.3,208.3 L920.5,208.3 L924.8,208.3 L929.0,208.3 L933.2,208.3 L937.5,208.3 L941.7,208.3 L946.0,208.3 L950.2,208.3 L954.5,208.3 L958.7,208.3 L963.0,208.3 L967.2,208.3" fill="none" stroke="#000000" stroke-width="1.0" stroke-linejoin="round" stroke-linecap="round" />
<use href="#mk000000" x="712.4" y="208.3"/>
<use href="#mk000000" x="716.6" y="208.3"/>
<use href="#mk000000" x="720.9" y="208.3"/>
<use href="#mk000000" x="725.1" y="208.3"/>
<use href="#mk000000" x="729.4" y="208.3"/>
<use href="#mk000000" x="733.6" y="208.3"/>
<use href="#mk000000" x="737.9" y="208.3"/>
<use href="#mk000000" x="742.1" y="208.3"/>
<use href="#mk000000" x="746.4" y="208.3"/>
<use href="#mk000000" x="750.6" y="208.3"/>
<use href="#mk000000" x="754.9" y="208.3"/>
<use href="#mk000000" x="759.1" y="208.3"/>
<use href="#mk000000" x="763.4" y="208.3"/>
<use href="#mk000000" x="767.6" y="208.3"/>
<use href="#mk000000" x="771.9" y="208.3"/>
<use href="#mk000000" x="776.1" y="208.3"/>
<use href="#mk000000" x="780.4" y="208.3"/>
<use href="#mk000000" x="784.6" y="208.3"/>
<use href="#mk000000" x="788.8" y="208.3"/>
<use href="#mk000000" x="793.1" y="208.3"/>
<use href="#mk000000" x="797.3" y="208.3"/>
<use href="#mk000000" x="801.6" y="208.3"/>
<use href="#mk000000" x="805.8" y="208.3"/>
<use href="#mk000000" x="810.1" y="208.3"/>
<use href="#mk000000" x="814.3" y="208.3"/>
<use href="#mk000000" x="818.6" y="208.3"/>
<use href="#mk000000" x="822.8" y="208.3"/>
<use href="#mk000000" x="827.1" y="208.3"/>
<use href="#mk000000" x="831.3" y="208.3"/>
<use href="#mk000000" x="835.6" y="208.3"/>
<use href="#mk000000" x="839.8" y="208.3"/>
<use href="#mk000000" x="844.1" y="208.3"/>
<use href="#mk000000" x="848.3" y="208.3"/>
<use href="#mk000000" x="852.6" y="208.3"/>
<use href="#mk000000" x="856.8" y="208.3"/>
<use href="#mk000000" x="861.0" y="208.3"/>
<use href="#mk000000" x="865.3" y="208.3"/>
<use href="#mk000000" x="869.5" y="208.3"/>
<use href="#mk000000" x="873.8" y="208.3"/>
<use href="#mk000000" x="878.0" y="208.3"/>
<use href="#mk000000" x="882.3" y="208.3"/>
<use href="#mk000000" x="886.5" y="208.3"/>
<use href="#mk000000" x="890.8" y="208.3"/>
<use href="#mk000000" x="895.0" y="208.3"/>
<use href="#mk000000" x="899.3" y="208.3"/>
<use href="#mk000000" x="903.5" y="208.3"/>
<use href="#mk000000" x="907.8" y="208.3"/>
<use href="#mk000000" x="912.0" y="208.3"/>
<use href="#mk000000" x="916.3" y="208.3"/>
<use href="#mk000000" x="920.5" y="208.3"/>
<use href="#mk000000" x="924.8" y="208.3"/>
<use href="#mk000000" x="929.0" y="208.3"/>
<use href="#mk000000" x="933.2" y="208.3"/>
<use href="#mk000000" x="937.5" y="208.3"/>
<use href="#mk000000" x="941.7" y="208.3"/>
<use href="#mk000000" x="946.0" y="208.3"/>
<use href="#mk000000" x="950.2" y="208.3"/>
<use href="#mk000000" x="954.5" y="208.3"/>
<use href="#mk000000" x="958.7" y="208.3"/>
<use href="#mk000000" x="963.0" y="208.3"/>
<use href="#mk000000" x="967.2" y="208.3"/>
<path d="M712.4,183.8 L716.6,183.8 L720.9,183.9 L725.1,183.9 L729.4,183.9 L733.6,183.9 L737.9,184.0 L742.1,184.0 L746.4,184.0 L750.6,184.0 L754.9,184.1 L759.1,184.1 L763.4,184.1 L767.6,184.1 L771.9,184.2 L776.1,184.2 L780.4,184.2 L784.6,184.2 L788.8,184.2 L793.1,184.3 L797.3,184.3 L801.6,184.4 L805.8,184.5 L810.1,184.7 L814.3,184.8 L818.6,184.9 L822.8,185.0 L827.1,185.1 L831.3,185.3 L835.6,185.4 L839.8,185.5 L844.1,185.8 L848.3,186.1 L852.6,186.3 L856.8,186.6 L861.0,186.9 L865.3,187.2 L869.5,187.5 L873.8,187.9 L878.0,188.2 L882.3,188.5 L886.5,188.9 L890.8,189.2 L895.0,189.6 L899.3,189.9 L903.5,190.3 L907.8,190.8 L912.0,191.3 L916.3,191.7 L920.5,192.2 L924.8,192.7 L929.0,193.5 L933.2,194.3 L937.5,195.0 L941.7,195.8 L946.0,196.6 L950.2,197.4 L954.5,198.3 L958.7,199.1 L963.0,200.0 L967.2,200.8" fill="none" stroke="#0000ff" stroke-width="1.0" stroke-linejoin="round" stroke-linecap="round" />
<use href="#mk0000ff" x="712.4" y="183.8"/>
<use href="#mk0000ff" x="716.6" y="183.8"/>
<use href="#mk0000ff" x="720.9" y="183.9"/>
<use href="#mk0000ff" x="725.1" y="183.9"/>
<use href="#mk0000ff" x="729.4" y="183.9"/>
<use href="#mk0000ff" x="733.6" y="183.9"/>
<use href="#mk0000ff" x="737.9" y="184.0"/>
<use href="#mk0000ff" x="742.1" y="184.0"/>
<use href="#mk0000ff" x="746.4" y="184.0"/>
<use href="#mk0000ff" x="750.6" y="184.0"/>
<use href="#mk0000ff" x="754.9" y="184.1"/>
<use href="#mk0000ff" x="759.1" y="184.1"/>
<use href="#mk0000ff" x="763.4" y="184.1"/>
<use href="#mk0000ff" x="767.6" y="184.1"/>
<use href="#mk0000ff" x="771.9" y="184.2"/>
<use href="#mk0000ff" x="776.1" y="184.2"/>
<use href="#mk0000ff" x="780.4" y="184.2"/>
<use href="#mk0000ff" x="784.6" y="184.2"/>
<use href="#mk0000ff" x="788.8" y="184.2"/>
<use href="#mk0000ff" x="793.1" y="184.3"/>
<use href="#mk0000ff" x="797.3" y="184.3"/>
<use href="#mk0000ff" x="801.6" y="184.4"/>
<use href="#mk0000ff" x="805.8" y="184.5"/>
<use href="#mk0000ff" x="810.1" y="184.7"/>
<use href="#mk0000ff" x="814.3" y="184.8"/>
<use href="#mk0000ff" x="818.6" y="184.9"/>
<use href="#mk0000ff" x="822.8" y="185.0"/>
<use href="#mk0000ff" x="827.1" y="185.1"/>
<use href="#mk0000ff" x="831.3" y="185.3"/>
<use href="#mk0000ff" x="835.6" y="185.4"/>
<use href="#mk0000ff" x="839.8" y="185.5"/>
<use href="#mk0000ff" x="844.1" y="185.8"/>
<use href="#mk0000ff" x="848.3" y="186.1"/>
<use href="#mk0000ff" x="852.6" y="186.3"/>
<use href="#mk0000ff" x="856.8" y="186.6"/>
<use href="#mk0000ff" x="861.0" y="186.9"/>
<use href="#mk0000ff" x="865.3" y="187.2"/>
<use href="#mk0000ff" x="869.5" y="187.5"/>
<use href="#mk0000ff" x="873.8" y="187.9"/>
<use href="#mk0000ff" x="878.0" y="188.2"/>
<use href="#mk0000ff" x="882.3" y="188.5"/>
<use href="#mk0000ff" x="886.5" y="188.9"/>
<use href="#mk0000ff" x="890.8" y="189.2"/>
<use href="#mk0000ff" x="895.0" y="189.6"/>
<use href="#mk0000ff" x="899.3" y="189.9"/>
<use href="#mk0000ff" x="903.5" y="190.3"/>
<use href="#mk0000ff" x="907.8" y="190.8"/>
<use href="#mk0000ff" x="912.0" y="191.3"/>
<use href="#mk0000ff" x="916.3" y="191.7"/>
<use href="#mk0000ff" x="920.5" y="192.2"/>
<use href="#mk0000ff" x="924.8" y="192.7"/>
<use href="#mk0000ff" x="929.0" y="193.5"/>
<use href="#mk0000ff" x="933.2" y="194.3"/>
<use href="#mk0000ff" x="937.5" y="195.0"/>
<use href="#mk0000ff" x="941.7" y="195.8"/>
<use href="#mk0000ff" x="946.0" y="196.6"/>
<use href="#mk0000ff" x="950.2" y="197.4"/>
<use href="#mk0000ff" x="954.5" y="198.3"/>
<use href="#mk0000ff" x="958.7" y="199.1"/>
<use href="#mk0000ff" x="963.0" y="200.0"/>
<use href="#mk0000ff" x="967.2" y="200.8"/>
<path d="M712.4,204.2 L716.6,204.8 L720.9,204.2 L725.1,204.2 L729.4,204.8 L733.6,204.2 L737.9,204.2 L742.1,204.8 L746.4,204.2 L750.6,207.3 L754.9,204.2 L759.1,204.2 L763.4,207.6 L767.6,207.6 L771.9,207.6 L776.1,207.6 L780.4,207.6 L784.6,207.6 L788.8,207.6 L793.1,207.6 L797.3,207.1 L801.6,207.1 L805.8,207.6 L810.1,207.6 L814.3,207.6 L818.6,207.6 L822.8,207.6 L827.1,207.6 L831.3,205.1 L835.6,204.4 L839.8,204.4 L844.1,204.4 L848.3,205.1 L852.6,204.4 L856.8,204.4 L861.0,204.4 L865.3,205.1 L869.5,204.4 L873.8,204.4 L878.0,204.4 L882.3,205.1 L886.5,204.4 L890.8,204.4 L895.0,204.4 L899.3,205.1 L903.5,204.4 L907.8,204.4 L912.0,204.4 L916.3,205.1 L920.5,209.3 L924.8,209.5 L929.0,209.6 L933.2,209.8 L937.5,210.0 L941.7,210.2 L946.0,210.3 L950.2,210.5 L954.5,210.7 L958.7,210.8 L963.0,211.0 L967.2,211.2" fill="none" stroke="#ff0000" stroke-width="1.0" stroke-linejoin="round" stroke-linecap="round" />
<use href="#mkff0000" x="712.4" y="204.2"/>
<use href="#mkff0000" x="716.6" y="204.8"/>
<use href="#mkff0000" x="720.9" y="204.2"/>
<use href="#mkff0000" x="725.1" y="204.2"/>
<use href="#mkff0000" x="729.4" y="204.8"/>
<use href="#mkff0000" x="733.6" y="204.2"/>
<use href="#mkff0000" x="737.9" y="204.2"/>
<use href="#mkff0000" x="742.1" y="204.8"/>
<use href="#mkff0000" x="746.4" y="204.2"/>
<use href="#mkff0000" x="750.6" y="207.3"/>
<use href="#mkff0000" x="754.9" y="204.2"/>
<use href="#mkff0000" x="759.1" y="204.2"/>
<use href="#mkff0000" x="763.4" y="207.6"/>
<use href="#mkff0000" x="767.6" y="207.6"/>
<use href="#mkff0000" x="771.9" y="207.6"/>
<use href="#mkff0000" x="776.1" y="207.6"/>
<use href="#mkff0000" x="780.4" y="207.6"/>
<use href="#mkff0000" x="784.6" y="207.6"/>
<use href="#mkff0000" x="788.8" y="207.6"/>
<use href="#mkff0000" x="793.1" y="207.6"/>
<use href="#mkff0000" x="797.3" y="207.1"/>
<use href="#mkff0000" x="801.6" y="207.1"/>
<use href="#mkff0000" x="805.8" y="207.6"/>
<use href="#mkff0000" x="810.1" y="207.6"/>
<use href="#mkff0000" x="814.3" y="207.6"/>
<use href="#mkff0000" x="818.6" y="207.6"/>
<use href="#mkff0000" x="822.8" y="207.6"/>
<use href="#mkff0000" x="827.1" y="207.6"/>
<use href="#mkff0000" x="831.3" y="205.1"/>
<use href="#mkff0000" x="835.6" y="204.4"/>
<use href="#mkff0000" x="839.8" y="204.4"/>
<use href="#mkff0000" x="844.1" y="204.4"/>
<use href="#mkff0000" x="848.3" y="205.1"/>
<use href="#mkff0000" x="852.6" y="204.4"/>
<use href="#mkff0000" x="856.8" y="204.4"/>
<use href="#mkff0000" x="861.0" y="204.4"/>
<use href="#mkff0000" x="865.3" y="205.1"/>
<use href="#mkff0000" x="869.5" y="204.4"/>
<use href="#mkff0000" x="873.8" y="204.4"/>
<use href="#mkff0000" x="878.0" y="204.4"/>
<use href="#mkff0000" x="882.3" y="205.1"/>
<use href="#mkff0000" x="886.5" y="204.4"/>
<use href="#mkff0000" x="890.8" y="204.4"/>
<use href="#mkff0000" x="895.0" y="204.4"/>
<use href="#mkff0000" x="899.3" y="205.1"/>
<use href="#mkff0000" x="903.5" y="204.4"/>
<use href="#mkff0000" x="907.8" y="204.4"/>
<use href="#mkff0000" x="912.0" y="204.4"/>
<use href="#mkff0000" x="916.3" y="205.1"/>
<use href="#mkff0000" x="920.5" y="209.3"/>
<use href="#mkff0000" x="924.8" y="209.5"/>
<use href="#mkff0000" x="929.0" y="209.6"/>
<use href="#mkff0000" x="933.2" y="209.8"/>
<use href="#mkff0000" x="937.5" y="210.0"/>
<use href="#mkff0000" x="941.7" y="210.2"/>
<use href="#mkff0000" x="946.0" y="210.3"/>
<use href="#mkff0000" x="950.2" y="210.5"/>
<use href="#mkff0000" x="954.5" y="210.7"/>
<use href="#mkff0000" x="958.7" y="210.8"/>
<use href="#mkff0000" x="963.0" y="211.0"/>
<use href="#mkff0000" x="967.2" y="211.2"/>
</g>
<rect x="712.40" y="25.00" width="254.80" height="203.70" fill="none" stroke="#000" stroke-width="1.5" />
<line x1="754.87" y1="228.70" x2="754.87" y2="224.50" stroke="#000" stroke-width="1.5" />
<line x1="797.34" y1="228.70" x2="797.34" y2="224.50" stroke="#000" stroke-width="1.5" />
<line x1="839.81" y1="228.70" x2="839.81" y2="224.50" stroke="#000" stroke-width="1.5" />
<line x1="882.28" y1="228.70" x2="882.28" y2="224.50" stroke="#000" stroke-width="1.5" />
<line x1="924.75" y1="228.70" x2="924.75" y2="224.50" stroke="#000" stroke-width="1.5" />
<line x1="733.63" y1="228.70" x2="733.63" y2="226.40" stroke="#000" stroke-width="1.5" />
<line x1="776.11" y1="228.70" x2="776.11" y2="226.40" stroke="#000" stroke-width="1.5" />
<line x1="818.57" y1="228.70" x2="818.57" y2="226.40" stroke="#000" stroke-width="1.5" />
<line x1="861.04" y1="228.70" x2="861.04" y2="226.40" stroke="#000" stroke-width="1.5" />
<line x1="903.51" y1="228.70" x2="903.51" y2="226.40" stroke="#000" stroke-width="1.5" />
<line x1="945.99" y1="228.70" x2="945.99" y2="226.40" stroke="#000" stroke-width="1.5" />
<line x1="712.40" y1="187.82" x2="716.60" y2="187.82" stroke="#000" stroke-width="1.5" />
<line x1="712.40" y1="147.04" x2="716.60" y2="147.04" stroke="#000" stroke-width="1.5" />
<line x1="712.40" y1="106.26" x2="716.60" y2="106.26" stroke="#000" stroke-width="1.5" />
<line x1="712.40" y1="65.48" x2="716.60" y2="65.48" stroke="#000" stroke-width="1.5" />
<line x1="712.40" y1="208.21" x2="714.70" y2="208.21" stroke="#000" stroke-width="1.5" />
<line x1="712.40" y1="167.43" x2="714.70" y2="167.43" stroke="#000" stroke-width="1.5" />
<line x1="712.40" y1="126.65" x2="714.70" y2="126.65" stroke="#000" stroke-width="1.5" />
<line x1="712.40" y1="85.87" x2="714.70" y2="85.87" stroke="#000" stroke-width="1.5" />
<line x1="712.40" y1="45.09" x2="714.70" y2="45.09" stroke="#000" stroke-width="1.5" />
<line x1="967.20" y1="210.40" x2="963.00" y2="210.40" stroke="#000" stroke-width="1.5" />
<line x1="967.20" y1="173.30" x2="963.00" y2="173.30" stroke="#000" stroke-width="1.5" />
<line x1="967.20" y1="136.20" x2="963.00" y2="136.20" stroke="#000" stroke-width="1.5" />
<line x1="967.20" y1="99.10" x2="963.00" y2="99.10" stroke="#000" stroke-width="1.5" />
<line x1="967.20" y1="62.00" x2="963.00" y2="62.00" stroke="#000" stroke-width="1.5" />
<line x1="967.20" y1="191.85" x2="964.90" y2="191.85" stroke="#000" stroke-width="1.5" />
<line x1="967.20" y1="154.75" x2="964.90" y2="154.75" stroke="#000" stroke-width="1.5" />
<line x1="967.20" y1="117.65" x2="964.90" y2="117.65" stroke="#000" stroke-width="1.5" />
<line x1="967.20" y1="80.55" x2="964.90" y2="80.55" stroke="#000" stroke-width="1.5" />
<line x1="967.20" y1="43.45" x2="964.90" y2="43.45" stroke="#000" stroke-width="1.5" />
<text x="712.40" y="244.20" font-size="13.600000000000001" text-anchor="middle" font-weight="normal" fill="#111" >0.2</text>
<text x="754.87" y="244.20" font-size="13.600000000000001" text-anchor="middle" font-weight="normal" fill="#111" >0.3</text>
<text x="797.34" y="244.20" font-size="13.600000000000001" text-anchor="middle" font-weight="normal" fill="#111" >0.4</text>
<text x="839.81" y="244.20" font-size="13.600000000000001" text-anchor="middle" font-weight="normal" fill="#111" >0.5</text>
<text x="882.28" y="244.20" font-size="13.600000000000001" text-anchor="middle" font-weight="normal" fill="#111" >0.6</text>
<text x="924.75" y="244.20" font-size="13.600000000000001" text-anchor="middle" font-weight="normal" fill="#111" >0.7</text>
<text x="967.22" y="244.20" font-size="13.600000000000001" text-anchor="middle" font-weight="normal" fill="#111" >0.8</text>
<text x="708.00" y="233.40" font-size="13.600000000000001" text-anchor="end" font-weight="normal" fill="#111" >0</text>
<text x="708.00" y="192.62" font-size="13.600000000000001" text-anchor="end" font-weight="normal" fill="#111" >1</text>
<text x="708.00" y="151.84" font-size="13.600000000000001" text-anchor="end" font-weight="normal" fill="#111" >2</text>
<text x="708.00" y="111.06" font-size="13.600000000000001" text-anchor="end" font-weight="normal" fill="#111" >3</text>
<text x="708.00" y="70.28" font-size="13.600000000000001" text-anchor="end" font-weight="normal" fill="#111" >4</text>
<text x="708.00" y="29.50" font-size="13.600000000000001" text-anchor="end" font-weight="normal" fill="#111" >5</text>
<text x="971.50" y="215.20" font-size="13.600000000000001" text-anchor="start" font-weight="normal" fill="#111" >0</text>
<text x="971.50" y="178.10" font-size="13.600000000000001" text-anchor="start" font-weight="normal" fill="#111" >10</text>
<text x="971.50" y="141.00" font-size="13.600000000000001" text-anchor="start" font-weight="normal" fill="#111" >20</text>
<text x="971.50" y="103.90" font-size="13.600000000000001" text-anchor="start" font-weight="normal" fill="#111" >30</text>
<text x="971.50" y="66.80" font-size="13.600000000000001" text-anchor="start" font-weight="normal" fill="#111" >40</text>
<text x="971.50" y="29.70" font-size="13.600000000000001" text-anchor="start" font-weight="normal" fill="#111" >50</text>
<text x="840.00" y="268.50" font-size="17.4" text-anchor="middle" font-weight="normal" fill="#111" >Potential (V vs.RHE)</text>
<text x="693.20" y="126.30" font-size="17.4" text-anchor="middle" font-weight="normal" fill="#111" transform="rotate(-90 693.20 126.30)" >Electron Transfer Number (n)</text>
<text x="1004.30" y="126.80" font-size="17" text-anchor="middle" font-weight="normal" fill="#111" transform="rotate(-90 1004.30 126.80)" >H<tspan baseline-shift="-33%" font-size="70%">2</tspan>O<tspan baseline-shift="-33%" font-size="70%">2</tspan>/%</text>
<text x="659.00" y="25.30" font-size="25" text-anchor="start" font-weight="bold" fill="#000" >c</text>
<text x="839.70" y="51.00" font-size="13.5" text-anchor="middle" font-weight="normal" fill="#111" >n</text>
<text x="839.00" y="173.60" font-size="13.5" text-anchor="middle" font-weight="normal" fill="#111" >yield of H<tspan baseline-shift="-33%" font-size="70%">2</tspan>O<tspan baseline-shift="-33%" font-size="70%">2</tspan></text>
<line x1="772.20" y1="97.30" x2="787.80" y2="97.30" stroke="#000000" stroke-width="1.5" />
<use href="#mk000000" x="779.6" y="97.3"/>
<text x="795.40" y="101.90" font-size="13.3" text-anchor="start" font-weight="normal" fill="#111" >Pt/C</text>
<line x1="772.20" y1="113.80" x2="787.80" y2="113.80" stroke="#0000ff" stroke-width="1.5" />
<use href="#mk0000ff" x="779.6" y="113.8"/>
<text x="795.40" y="118.40" font-size="13.3" text-anchor="start" font-weight="normal" fill="#111" >MnRuO<tspan baseline-shift="-33%" font-size="70%">2</tspan></text>
<line x1="772.20" y1="133.50" x2="787.80" y2="133.50" stroke="#ff0000" stroke-width="1.5" />
<use href="#mkff0000" x="779.6" y="133.5"/>
<text x="795.40" y="138.10" font-size="13.3" text-anchor="start" font-weight="normal" fill="#111" >Ga/MnRuO<tspan baseline-shift="-33%" font-size="70%">2</tspan></text>
<clipPath id="cd"><rect x="50.4" y="278.8" width="253.6" height="204.9"/></clipPath>
<g clip-path="url(#cd)">
<path d="M50.4,450.0 L51.6,450.0 L52.8,450.0 L54.0,450.1 L55.2,450.1 L56.4,450.1 L57.6,450.1 L58.8,450.1 L60.0,450.2 L61.2,450.2 L62.4,450.2 L63.6,450.2 L64.8,450.2 L66.0,450.2 L67.1,450.3 L68.3,450.3 L69.5,450.3 L70.7,450.3 L71.9,450.3 L73.1,450.3 L74.3,450.3 L75.4,450.4 L76.6,450.4 L77.8,450.4 L79.0,450.4 L80.2,450.4 L81.4,450.4 L82.6,450.4 L83.8,450.4 L84.9,450.4 L86.1,450.5 L87.3,450.5 L88.5,450.5 L89.7,450.5 L90.9,450.5 L92.1,450.5 L93.2,450.5 L94.4,450.5 L95.6,450.5 L96.8,450.5 L98.0,450.6 L99.2,450.6 L100.4,450.6 L101.5,450.6 L102.7,450.6 L103.9,450.6 L105.1,450.6 L106.3,450.6 L107.5,450.6 L108.7,450.6 L109.8,450.6 L111.0,450.6 L112.2,450.6 L113.4,450.6 L114.6,450.6 L115.8,450.5 L117.0,450.5 L118.1,450.5 L119.3,450.5 L120.5,450.5 L121.7,450.4 L122.9,450.4 L124.1,450.4 L125.3,450.3 L126.4,450.3 L127.6,450.3 L128.8,450.2 L130.0,450.2 L131.2,450.2 L132.4,450.1 L133.6,450.1 L134.7,450.0 L135.9,450.0 L137.1,450.0 L138.3,449.9 L139.5,449.9 L140.7,449.9 L141.9,449.8 L143.0,449.8 L144.2,449.7 L145.4,449.7 L146.6,449.7 L147.8,449.6 L149.0,449.6 L150.2,449.6 L151.3,449.5 L152.5,449.5 L153.7,449.5 L154.9,449.4 L156.1,449.4 L157.3,449.4 L158.5,449.3 L159.6,449.3 L160.8,449.3 L162.0,449.2 L163.2,449.2 L164.4,449.2 L165.6,449.1 L166.8,449.1 L167.9,449.0 L169.1,449.0 L170.3,449.0 L171.5,448.9 L172.7,448.9 L173.9,448.9 L175.1,448.8 L176.3,448.8 L177.4,448.7 L178.6,448.7 L179.8,448.7 L181.0,448.6 L182.2,448.6 L183.4,448.5 L184.6,448.5 L185.9,448.5 L187.1,448.4 L188.3,448.4 L189.5,448.3 L190.7,448.3 L191.9,448.3 L193.1,448.2 L194.3,448.2 L195.5,448.1 L196.7,448.1 L197.9,448.0 L199.1,448.0 L200.3,448.0 L201.5,447.9 L202.7,447.9 L203.9,447.8 L205.1,447.8 L206.3,447.7 L207.5,447.7 L208.7,447.6 L209.9,447.6 L211.1,447.5 L212.4,447.5 L213.6,447.4 L214.8,447.4 L216.0,447.3 L217.2,447.2 L218.4,447.1 L219.6,447.0 L220.8,446.9 L222.0,446.7 L223.2,446.5 L224.5,446.3 L225.7,446.1 L226.9,445.9 L228.1,445.6 L229.2,445.3 L230.3,445.0 L231.4,444.6 L232.4,444.2 L233.5,443.6 L234.5,443.0 L235.6,442.2 L236.5,441.4 L237.5,440.5 L238.3,439.6 L239.1,438.6 L239.7,437.7 L240.3,436.8 L240.9,435.8 L241.4,434.8 L241.9,433.7 L242.4,432.6 L242.8,431.4 L243.2,430.3 L243.6,429.1 L244.0,427.9 L244.4,426.7 L244.8,425.6 L245.1,424.5 L245.5,423.3 L245.8,422.2 L246.1,421.1 L246.5,419.9 L246.8,418.8 L247.1,417.6 L247.4,416.5 L247.6,415.3 L247.9,414.1 L248.2,413.0 L248.5,411.8 L248.7,410.6 L249.0,409.5 L249.2,408.3 L249.5,407.1 L249.7,406.0 L249.9,404.8 L250.2,403.6 L250.4,402.5 L250.6,401.3 L250.9,400.1 L251.1,399.0 L251.3,397.8 L251.5,396.6 L251.7,395.5 L251.9,394.3 L252.1,393.1 L252.3,392.0 L252.4,390.8 L252.6,389.6 L252.8,388.4 L253.0,387.3 L253.2,386.1 L253.3,384.9 L253.5,383.7 L253.7,382.6 L253.9,381.4 L254.0,380.2 L254.2,379.0 L254.4,377.9 L254.6,376.7 L254.8,375.5 L254.9,374.3 L255.1,373.2 L255.3,372.0 L255.5,370.8 L255.7,369.6 L255.8,368.5 L256.0,367.3 L256.2,366.1 L256.4,364.9 L256.5,363.8 L256.7,362.8 L256.9,361.7 L257.1,360.6 L257.2,359.5 L257.4,358.5 L257.6,357.4 L257.8,356.3 L258.0,355.2 L258.1,354.2 L258.3,353.1 L258.5,352.0 L258.7,351.0 L258.9,349.9 L259.1,348.8 L259.3,347.7 L259.5,346.7 L259.7,345.6 L259.9,344.5 L260.1,343.4 L260.3,342.3 L260.5,341.3 L260.7,340.2 L260.9,339.1 L261.2,338.1 L261.4,337.0 L261.6,335.9 L261.9,334.9 L262.1,333.8 L262.4,332.8 L262.7,331.7 L263.0,330.7 L263.3,329.6 L263.7,328.6 L264.1,327.5 L264.5,326.5 L264.9,325.4 L265.3,324.4 L265.8,323.4 L266.3,322.4 L266.8,321.4 L267.4,320.5 L268.0,319.5 L268.6,318.7 L269.3,317.8 L270.0,316.9 L270.8,316.0 L271.7,315.1 L272.6,314.3 L273.6,313.7 L274.6,313.2 L275.6,312.8 L276.6,312.5 L277.8,312.2 L278.9,311.9 L280.2,311.7 L281.4,311.5 L282.6,311.3 L283.9,311.2 L285.1,311.1 L286.3,311.0 L287.5,311.0 L288.7,310.9 L289.9,310.9 L291.1,310.8 L292.3,310.8 L293.5,310.7 L294.7,310.7 L295.9,310.7 L297.1,310.7 L298.3,310.6 L299.5,310.6 L300.7,310.6 L301.9,310.6 L303.2,310.6" fill="none" stroke="#0000ff" stroke-width="2.9" stroke-linejoin="round" stroke-linecap="round" stroke-dasharray="0.01 6.80" stroke-dashoffset="0.0"/>
<path d="M50.4,450.7 L51.6,450.8 L52.8,450.8 L54.0,450.8 L55.2,450.8 L56.4,450.8 L57.6,450.9 L58.8,450.9 L60.0,450.9 L61.2,450.9 L62.4,450.9 L63.6,450.9 L64.8,451.0 L66.0,451.0 L67.2,451.0 L68.4,451.0 L69.6,451.0 L70.8,451.0 L72.0,451.0 L73.2,451.1 L74.4,451.1 L75.6,451.1 L76.8,451.1 L78.0,451.1 L79.2,451.1 L80.3,451.1 L81.5,451.1 L82.7,451.2 L83.9,451.2 L85.1,451.2 L86.3,451.2 L87.5,451.2 L88.7,451.2 L89.9,451.2 L91.1,451.2 L92.3,451.2 L93.5,451.3 L94.7,451.3 L95.9,451.3 L97.1,451.3 L98.3,451.3 L99.5,451.3 L100.7,451.3 L101.9,451.3 L103.1,451.3 L104.2,451.3 L105.4,451.3 L106.6,451.3 L107.8,451.3 L109.0,451.3 L110.2,451.3 L111.4,451.3 L112.6,451.3 L113.8,451.3 L115.0,451.3 L116.2,451.3 L117.4,451.3 L118.6,451.2 L119.8,451.2 L121.0,451.2 L122.2,451.2 L123.4,451.1 L124.6,451.1 L125.8,451.1 L127.0,451.0 L128.1,451.0 L129.3,451.0 L130.5,450.9 L131.7,450.9 L132.9,450.9 L134.1,450.8 L135.3,450.8 L136.5,450.7 L137.7,450.7 L138.9,450.7 L140.1,450.6 L141.3,450.6 L142.5,450.5 L143.7,450.5 L144.9,450.5 L146.1,450.4 L147.3,450.4 L148.5,450.4 L149.7,450.3 L150.8,450.3 L152.0,450.3 L153.2,450.2 L154.4,450.2 L155.6,450.2 L156.8,450.1 L158.0,450.1 L159.2,450.1 L160.4,450.0 L161.6,450.0 L162.8,450.0 L164.0,449.9 L165.2,449.9 L166.4,449.8 L167.6,449.8 L168.8,449.8 L170.0,449.7 L171.2,449.7 L172.4,449.7 L173.5,449.6 L174.7,449.6 L175.9,449.5 L177.1,449.5 L178.3,449.5 L179.5,449.4 L180.7,449.4 L181.9,449.4 L183.1,449.3 L184.3,449.3 L185.5,449.2 L186.7,449.2 L188.0,449.2 L189.2,449.1 L190.4,449.1 L191.6,449.0 L192.8,449.0 L194.0,448.9 L195.2,448.9 L196.4,448.9 L197.6,448.8 L198.8,448.8 L200.0,448.7 L201.2,448.7 L202.4,448.6 L203.6,448.6 L204.8,448.5 L206.0,448.5 L207.2,448.4 L208.4,448.4 L209.6,448.3 L210.8,448.3 L212.0,448.3 L213.2,448.2 L214.4,448.1 L215.6,448.1 L216.8,448.0 L218.0,447.9 L219.2,447.8 L220.4,447.7 L221.7,447.6 L222.9,447.4 L224.1,447.3 L225.4,447.1 L226.6,446.8 L227.8,446.6 L228.9,446.3 L230.1,446.0 L231.2,445.7 L232.3,445.3 L233.3,444.9 L234.4,444.3 L235.4,443.7 L236.4,442.9 L237.4,442.0 L238.3,441.2 L239.1,440.2 L239.9,439.3 L240.5,438.4 L241.1,437.5 L241.7,436.5 L242.2,435.4 L242.7,434.3 L243.2,433.2 L243.6,432.1 L244.0,430.9 L244.4,429.7 L244.8,428.5 L245.2,427.4 L245.5,426.2 L245.9,425.1 L246.2,423.9 L246.5,422.8 L246.9,421.6 L247.2,420.5 L247.5,419.3 L247.8,418.2 L248.1,417.0 L248.3,415.9 L248.6,414.7 L248.9,413.5 L249.1,412.4 L249.4,411.2 L249.6,410.0 L249.9,408.8 L250.1,407.7 L250.4,406.5 L250.6,405.3 L250.8,404.1 L251.1,403.0 L251.3,401.8 L251.5,400.6 L251.7,399.5 L251.9,398.3 L252.1,397.1 L252.3,395.9 L252.5,394.7 L252.7,393.6 L252.9,392.4 L253.0,391.2 L253.2,390.0 L253.4,388.9 L253.6,387.7 L253.7,386.5 L253.9,385.3 L254.1,384.1 L254.3,382.9 L254.4,381.8 L254.6,380.6 L254.8,379.4 L254.9,378.2 L255.1,377.0 L255.3,375.9 L255.5,374.7 L255.7,373.5 L255.8,372.3 L256.0,371.1 L256.2,370.0 L256.3,368.8 L256.5,367.6 L256.7,366.4 L256.9,365.2 L257.0,364.1 L257.2,363.0 L257.4,361.9 L257.5,360.8 L257.7,359.7 L257.9,358.6 L258.1,357.5 L258.3,356.4 L258.4,355.2 L258.6,354.1 L258.8,353.0 L259.0,351.9 L259.2,350.8 L259.4,349.7 L259.6,348.6 L259.8,347.5 L260.0,346.4 L260.2,345.3 L260.4,344.2 L260.6,343.1 L260.8,341.9 L261.0,340.8 L261.2,339.7 L261.4,338.6 L261.6,337.5 L261.8,336.4 L262.1,335.3 L262.3,334.2 L262.6,333.1 L262.9,332.1 L263.1,331.0 L263.5,329.9 L263.8,328.8 L264.1,327.8 L264.5,326.7 L264.9,325.6 L265.3,324.5 L265.8,323.4 L266.2,322.4 L266.7,321.3 L267.3,320.3 L267.8,319.4 L268.4,318.4 L269.0,317.5 L269.7,316.6 L270.4,315.6 L271.3,314.7 L272.1,313.8 L273.1,313.1 L274.0,312.4 L275.0,311.9 L276.0,311.5 L277.1,311.2 L278.2,310.9 L279.4,310.6 L280.6,310.3 L281.8,310.1 L283.1,309.9 L284.3,309.8 L285.5,309.7 L286.7,309.6 L287.9,309.6 L289.1,309.5 L290.3,309.5 L291.5,309.4 L292.7,309.4 L293.9,309.3 L295.1,309.3 L296.3,309.3 L297.5,309.3 L298.7,309.2 L299.9,309.2 L301.1,309.2 L302.4,309.2 L303.6,309.2" fill="none" stroke="#007f00" stroke-width="2.9" stroke-linejoin="round" stroke-linecap="round" stroke-dasharray="0.01 6.80" stroke-dashoffset="1.3"/>
<path d="M50.4,441.2 L51.6,441.2 L52.8,441.2 L54.0,441.3 L55.2,441.3 L56.4,441.3 L57.6,441.3 L58.8,441.3 L60.0,441.3 L61.2,441.4 L62.4,441.4 L63.5,441.4 L64.7,441.4 L65.8,441.4 L67.0,441.4 L68.2,441.5 L69.3,441.5 L70.5,441.5 L71.6,441.5 L72.8,441.5 L74.0,441.5 L75.1,441.5 L76.3,441.5 L77.4,441.6 L78.6,441.6 L79.8,441.6 L80.9,441.6 L82.1,441.6 L83.2,441.6 L84.4,441.6 L85.6,441.6 L86.7,441.6 L87.9,441.7 L89.0,441.7 L90.2,441.7 L91.4,441.7 L92.5,441.7 L93.7,441.7 L94.9,441.7 L96.0,441.7 L97.2,441.7 L98.3,441.7 L99.5,441.7 L100.7,441.7 L101.8,441.7 L103.0,441.8 L104.1,441.8 L105.3,441.8 L106.5,441.8 L107.6,441.8 L108.8,441.8 L109.9,441.8 L111.1,441.8 L112.3,441.7 L113.4,441.7 L114.6,441.7 L115.7,441.7 L116.9,441.7 L118.1,441.7 L119.2,441.6 L120.4,441.6 L121.5,441.6 L122.7,441.6 L123.9,441.5 L125.0,441.5 L126.2,441.5 L127.4,441.4 L128.5,441.4 L129.7,441.4 L130.8,441.3 L132.0,441.3 L133.2,441.2 L134.3,441.2 L135.5,441.2 L136.6,441.1 L137.8,441.1 L139.0,441.1 L140.1,441.0 L141.3,441.0 L142.4,441.0 L143.6,440.9 L144.8,440.9 L145.9,440.9 L147.1,440.8 L148.2,440.8 L149.4,440.8 L150.6,440.7 L151.7,440.7 L152.9,440.7 L154.0,440.6 L155.2,440.6 L156.4,440.6 L157.5,440.5 L158.7,440.5 L159.8,440.5 L161.0,440.4 L162.2,440.4 L163.3,440.4 L164.5,440.3 L165.7,440.3 L166.8,440.3 L168.0,440.2 L169.1,440.2 L170.3,440.2 L171.5,440.1 L172.6,440.1 L173.8,440.1 L174.9,440.0 L176.1,440.0 L177.3,440.0 L178.5,439.9 L179.7,439.9 L180.9,439.8 L182.1,439.8 L183.3,439.8 L184.6,439.7 L185.8,439.7 L187.0,439.7 L188.2,439.6 L189.4,439.6 L190.6,439.5 L191.8,439.5 L193.0,439.5 L194.2,439.4 L195.4,439.4 L196.6,439.3 L197.8,439.3 L199.0,439.2 L200.2,439.2 L201.4,439.1 L202.6,439.1 L203.8,439.1 L205.0,439.0 L206.2,439.0 L207.5,438.9 L208.7,438.9 L209.9,438.8 L211.1,438.8 L212.3,438.7 L213.5,438.7 L214.7,438.6 L215.9,438.5 L217.1,438.4 L218.3,438.3 L219.5,438.1 L220.8,438.0 L222.0,437.8 L223.2,437.6 L224.4,437.3 L225.6,437.1 L226.8,436.8 L227.9,436.5 L229.0,436.1 L230.0,435.7 L231.1,435.2 L232.1,434.6 L233.2,433.9 L234.2,433.1 L235.1,432.3 L236.0,431.4 L236.7,430.5 L237.4,429.7 L238.0,428.8 L238.6,427.9 L239.1,426.9 L239.6,425.9 L240.1,424.8 L240.6,423.7 L241.1,422.7 L241.5,421.6 L241.9,420.5 L242.3,419.4 L242.7,418.3 L243.0,417.2 L243.4,416.2 L243.7,415.1 L244.1,414.0 L244.4,412.9 L244.7,411.9 L245.1,410.8 L245.4,409.7 L245.7,408.6 L246.0,407.5 L246.3,406.4 L246.5,405.3 L246.8,404.2 L247.1,403.2 L247.4,402.1 L247.6,401.0 L247.9,399.9 L248.1,398.8 L248.4,397.7 L248.6,396.6 L248.9,395.5 L249.1,394.4 L249.3,393.3 L249.5,392.2 L249.8,391.1 L250.0,390.0 L250.2,388.9 L250.4,387.8 L250.6,386.7 L250.8,385.6 L251.0,384.5 L251.2,383.4 L251.4,382.3 L251.6,381.2 L251.7,380.1 L251.9,379.0 L252.1,377.9 L252.3,376.8 L252.5,375.7 L252.7,374.6 L252.9,373.5 L253.1,372.3 L253.3,371.2 L253.4,370.1 L253.6,369.0 L253.8,367.9 L254.0,366.8 L254.2,365.7 L254.4,364.6 L254.6,363.5 L254.8,362.4 L254.9,361.3 L255.1,360.3 L255.3,359.2 L255.5,358.2 L255.7,357.1 L255.9,356.1 L256.0,355.0 L256.2,354.0 L256.4,353.0 L256.6,351.9 L256.8,350.9 L257.0,349.8 L257.2,348.8 L257.4,347.8 L257.6,346.7 L257.8,345.7 L258.0,344.6 L258.2,343.6 L258.4,342.5 L258.6,341.5 L258.8,340.5 L259.0,339.4 L259.2,338.4 L259.5,337.3 L259.7,336.3 L259.9,335.2 L260.1,334.2 L260.4,333.2 L260.6,332.1 L260.9,331.1 L261.2,330.1 L261.5,329.1 L261.8,328.1 L262.1,327.1 L262.5,326.1 L262.9,325.0 L263.3,324.0 L263.7,323.0 L264.1,322.0 L264.6,321.0 L265.1,320.0 L265.6,319.1 L266.2,318.2 L266.8,317.3 L267.4,316.4 L268.1,315.6 L268.8,314.7 L269.6,313.8 L270.5,313.0 L271.4,312.2 L272.4,311.6 L273.4,311.1 L274.4,310.8 L275.4,310.4 L276.6,310.2 L277.8,309.9 L279.0,309.7 L280.2,309.5 L281.4,309.3 L282.7,309.2 L283.9,309.1 L285.1,309.0 L286.3,309.0 L287.5,308.9 L288.7,308.9 L289.9,308.8 L291.1,308.8 L292.3,308.7 L293.5,308.7 L294.7,308.7 L295.9,308.7 L297.1,308.6 L298.3,308.6 L299.5,308.6 L300.7,308.6 L302.0,308.6" fill="none" stroke="#007f7f" stroke-width="2.9" stroke-linejoin="round" stroke-linecap="round" stroke-dasharray="0.01 6.80" stroke-dashoffset="2.6"/>
<path d="M50.4,435.2 L51.6,435.2 L52.8,435.2 L54.0,435.2 L55.2,435.3 L56.4,435.3 L57.6,435.3 L58.8,435.3 L60.0,435.3 L61.1,435.3 L62.2,435.4 L63.3,435.4 L64.5,435.4 L65.6,435.4 L66.7,435.4 L67.8,435.4 L68.9,435.4 L70.0,435.5 L71.1,435.5 L72.2,435.5 L73.3,435.5 L74.4,435.5 L75.5,435.5 L76.6,435.5 L77.7,435.5 L78.8,435.6 L79.9,435.6 L81.1,435.6 L82.2,435.6 L83.3,435.6 L84.4,435.6 L85.5,435.6 L86.6,435.6 L87.7,435.6 L88.8,435.6 L89.9,435.6 L91.0,435.7 L92.1,435.7 L93.2,435.7 L94.3,435.7 L95.4,435.7 L96.5,435.7 L97.7,435.7 L98.8,435.7 L99.9,435.7 L101.0,435.7 L102.1,435.7 L103.2,435.7 L104.3,435.7 L105.4,435.7 L106.5,435.7 L107.6,435.7 L108.7,435.7 L109.8,435.7 L110.9,435.7 L112.0,435.7 L113.1,435.7 L114.3,435.6 L115.4,435.6 L116.5,435.6 L117.6,435.6 L118.7,435.6 L119.8,435.5 L120.9,435.5 L122.0,435.5 L123.1,435.4 L124.2,435.4 L125.3,435.4 L126.4,435.3 L127.5,435.3 L128.6,435.3 L129.7,435.2 L130.8,435.2 L132.0,435.2 L133.1,435.1 L134.2,435.1 L135.3,435.1 L136.4,435.0 L137.5,435.0 L138.6,435.0 L139.7,434.9 L140.8,434.9 L141.9,434.9 L143.0,434.8 L144.1,434.8 L145.2,434.8 L146.3,434.7 L147.4,434.7 L148.5,434.7 L149.6,434.7 L150.8,434.6 L151.9,434.6 L153.0,434.6 L154.1,434.5 L155.2,434.5 L156.3,434.5 L157.4,434.4 L158.5,434.4 L159.6,434.4 L160.7,434.3 L161.8,434.3 L163.0,434.3 L164.1,434.2 L165.2,434.2 L166.3,434.2 L167.4,434.1 L168.5,434.1 L169.6,434.1 L170.7,434.0 L172.0,434.0 L173.2,434.0 L174.4,433.9 L175.6,433.9 L176.8,433.9 L178.0,433.8 L179.2,433.8 L180.4,433.7 L181.6,433.7 L182.8,433.7 L184.0,433.6 L185.2,433.6 L186.4,433.6 L187.6,433.5 L188.8,433.5 L190.1,433.4 L191.3,433.4 L192.5,433.4 L193.7,433.3 L194.9,433.3 L196.1,433.2 L197.3,433.2 L198.5,433.1 L199.7,433.1 L200.9,433.1 L202.1,433.0 L203.3,433.0 L204.5,432.9 L205.8,432.9 L207.0,432.8 L208.2,432.8 L209.4,432.7 L210.6,432.6 L211.8,432.5 L213.0,432.4 L214.2,432.3 L215.5,432.1 L216.7,431.9 L218.0,431.7 L219.2,431.5 L220.4,431.2 L221.5,431.0 L222.7,430.7 L223.7,430.4 L224.8,430.0 L225.9,429.5 L227.0,428.9 L228.0,428.2 L229.1,427.4 L230.0,426.6 L230.9,425.8 L231.7,425.0 L232.4,424.2 L233.1,423.4 L233.7,422.5 L234.3,421.5 L234.8,420.5 L235.4,419.5 L235.9,418.5 L236.4,417.5 L236.8,416.4 L237.3,415.4 L237.7,414.3 L238.1,413.3 L238.5,412.3 L238.9,411.3 L239.3,410.2 L239.7,409.2 L240.1,408.2 L240.4,407.2 L240.8,406.1 L241.1,405.1 L241.5,404.0 L241.8,403.0 L242.1,402.0 L242.4,400.9 L242.8,399.9 L243.1,398.8 L243.4,397.8 L243.6,396.7 L243.9,395.7 L244.2,394.6 L244.5,393.6 L244.8,392.5 L245.0,391.5 L245.3,390.4 L245.6,389.4 L245.8,388.4 L246.1,387.3 L246.3,386.3 L246.6,385.2 L246.8,384.2 L247.0,383.1 L247.2,382.0 L247.5,381.0 L247.7,379.9 L247.9,378.9 L248.1,377.8 L248.3,376.8 L248.5,375.7 L248.8,374.7 L249.0,373.6 L249.2,372.6 L249.4,371.5 L249.6,370.4 L249.8,369.4 L250.0,368.3 L250.2,367.3 L250.5,366.2 L250.7,365.2 L250.9,364.1 L251.1,363.1 L251.3,362.0 L251.5,361.0 L251.7,359.9 L251.9,358.9 L252.1,357.8 L252.3,356.8 L252.5,355.8 L252.7,354.8 L252.9,353.8 L253.1,352.8 L253.3,351.8 L253.5,350.8 L253.7,349.8 L253.9,348.7 L254.2,347.7 L254.4,346.7 L254.6,345.7 L254.8,344.7 L255.0,343.7 L255.2,342.7 L255.5,341.7 L255.7,340.7 L255.9,339.7 L256.1,338.6 L256.3,337.6 L256.5,336.6 L256.8,335.6 L257.0,334.6 L257.2,333.6 L257.5,332.6 L257.7,331.6 L258.0,330.6 L258.3,329.6 L258.6,328.6 L258.9,327.6 L259.2,326.7 L259.5,325.7 L259.9,324.7 L260.3,323.7 L260.7,322.7 L261.1,321.7 L261.6,320.8 L262.0,319.8 L262.5,318.9 L263.1,317.9 L263.6,317.1 L264.2,316.2 L264.8,315.4 L265.5,314.5 L266.3,313.7 L267.1,312.8 L268.0,312.0 L268.9,311.3 L269.8,310.7 L270.8,310.2 L271.8,309.9 L272.9,309.6 L274.0,309.3 L275.2,309.1 L276.4,308.8 L277.7,308.6 L278.9,308.5 L280.1,308.3 L281.4,308.3 L282.6,308.2 L283.7,308.1 L284.9,308.1 L286.1,308.1 L287.3,308.0 L288.5,308.0 L289.7,307.9 L290.9,307.9 L292.1,307.9 L293.3,307.9 L294.6,307.8 L295.8,307.8 L297.0,307.8 L298.2,307.8 L299.4,307.8" fill="none" stroke="#00c8c8" stroke-width="2.9" stroke-linejoin="round" stroke-linecap="round" stroke-dasharray="0.01 6.80" stroke-dashoffset="3.9"/>
<path d="M50.4,432.0 L51.6,432.0 L52.8,432.0 L54.0,432.0 L55.2,432.0 L56.4,432.1 L57.6,432.1 L58.8,432.1 L60.0,432.1 L61.1,432.1 L62.2,432.1 L63.2,432.1 L64.3,432.2 L65.4,432.2 L66.4,432.2 L67.5,432.2 L68.6,432.2 L69.6,432.2 L70.7,432.2 L71.8,432.3 L72.8,432.3 L73.9,432.3 L75.0,432.3 L76.0,432.3 L77.1,432.3 L78.2,432.3 L79.2,432.3 L80.3,432.3 L81.4,432.3 L82.4,432.4 L83.5,432.4 L84.6,432.4 L85.6,432.4 L86.7,432.4 L87.8,432.4 L88.8,432.4 L89.9,432.4 L91.0,432.4 L92.0,432.4 L93.1,432.4 L94.2,432.5 L95.2,432.5 L96.3,432.5 L97.4,432.5 L98.4,432.5 L99.5,432.5 L100.6,432.5 L101.6,432.5 L102.7,432.5 L103.8,432.5 L104.8,432.5 L105.9,432.5 L107.0,432.5 L108.0,432.5 L109.1,432.5 L110.2,432.4 L111.2,432.4 L112.3,432.4 L113.4,432.4 L114.4,432.4 L115.5,432.3 L116.6,432.3 L117.6,432.3 L118.7,432.3 L119.8,432.2 L120.8,432.2 L121.9,432.2 L123.0,432.1 L124.0,432.1 L125.1,432.1 L126.2,432.0 L127.2,432.0 L128.3,432.0 L129.4,431.9 L130.4,431.9 L131.5,431.9 L132.6,431.8 L133.6,431.8 L134.7,431.8 L135.8,431.7 L136.8,431.7 L137.9,431.7 L139.0,431.6 L140.0,431.6 L141.1,431.6 L142.2,431.6 L143.2,431.5 L144.3,431.5 L145.4,431.5 L146.4,431.4 L147.5,431.4 L148.6,431.4 L149.6,431.4 L150.7,431.3 L151.8,431.3 L152.8,431.3 L153.9,431.2 L155.0,431.2 L156.1,431.2 L157.1,431.1 L158.2,431.1 L159.3,431.1 L160.3,431.0 L161.4,431.0 L162.5,431.0 L163.5,430.9 L164.6,430.9 L165.7,430.9 L166.8,430.8 L168.0,430.8 L169.2,430.8 L170.4,430.7 L171.6,430.7 L172.8,430.7 L174.1,430.6 L175.3,430.6 L176.5,430.6 L177.7,430.5 L178.9,430.5 L180.1,430.4 L181.3,430.4 L182.5,430.4 L183.7,430.3 L184.9,430.3 L186.1,430.3 L187.3,430.2 L188.5,430.2 L189.8,430.1 L191.0,430.1 L192.2,430.0 L193.4,430.0 L194.6,430.0 L195.8,429.9 L197.0,429.9 L198.2,429.9 L199.4,429.8 L200.6,429.8 L201.9,429.7 L203.1,429.7 L204.3,429.6 L205.5,429.5 L206.7,429.5 L207.9,429.4 L209.1,429.2 L210.4,429.1 L211.6,428.9 L212.9,428.8 L214.1,428.6 L215.3,428.3 L216.5,428.1 L217.7,427.8 L218.8,427.6 L219.9,427.2 L221.0,426.9 L222.1,426.4 L223.2,425.8 L224.3,425.1 L225.3,424.4 L226.3,423.6 L227.2,422.8 L228.1,422.0 L228.8,421.2 L229.5,420.4 L230.1,419.5 L230.7,418.6 L231.3,417.7 L231.9,416.7 L232.4,415.7 L232.9,414.7 L233.4,413.7 L233.9,412.6 L234.4,411.6 L234.8,410.6 L235.2,409.6 L235.7,408.6 L236.1,407.6 L236.5,406.6 L236.9,405.6 L237.3,404.6 L237.6,403.6 L238.0,402.6 L238.4,401.6 L238.7,400.6 L239.1,399.6 L239.4,398.5 L239.8,397.5 L240.1,396.5 L240.4,395.5 L240.7,394.5 L241.0,393.4 L241.4,392.4 L241.7,391.4 L242.0,390.4 L242.2,389.4 L242.5,388.3 L242.8,387.3 L243.1,386.3 L243.4,385.3 L243.6,384.2 L243.9,383.2 L244.1,382.2 L244.4,381.2 L244.6,380.1 L244.9,379.1 L245.1,378.1 L245.4,377.1 L245.6,376.0 L245.8,375.0 L246.1,374.0 L246.3,372.9 L246.5,371.9 L246.7,370.9 L247.0,369.9 L247.2,368.8 L247.4,367.8 L247.7,366.8 L247.9,365.7 L248.1,364.7 L248.4,363.7 L248.6,362.7 L248.8,361.6 L249.0,360.6 L249.2,359.6 L249.5,358.6 L249.7,357.5 L249.9,356.5 L250.1,355.5 L250.3,354.5 L250.5,353.5 L250.8,352.5 L251.0,351.5 L251.2,350.5 L251.4,349.5 L251.6,348.5 L251.8,347.4 L252.1,346.4 L252.3,345.4 L252.5,344.4 L252.8,343.4 L253.0,342.4 L253.2,341.4 L253.4,340.4 L253.7,339.4 L253.9,338.4 L254.1,337.4 L254.3,336.4 L254.6,335.4 L254.8,334.3 L255.0,333.3 L255.3,332.3 L255.5,331.3 L255.8,330.3 L256.1,329.3 L256.3,328.4 L256.6,327.4 L256.9,326.4 L257.3,325.4 L257.6,324.5 L258.0,323.5 L258.4,322.5 L258.8,321.5 L259.2,320.5 L259.7,319.5 L260.1,318.6 L260.7,317.6 L261.2,316.7 L261.7,315.8 L262.3,315.0 L262.9,314.2 L263.6,313.3 L264.4,312.5 L265.2,311.6 L266.1,310.8 L267.0,310.1 L268.0,309.5 L269.0,309.0 L270.0,308.7 L271.0,308.4 L272.2,308.1 L273.3,307.9 L274.5,307.6 L275.8,307.4 L277.0,307.3 L278.3,307.1 L279.5,307.1 L280.7,307.0 L281.9,306.9 L283.1,306.9 L284.3,306.9 L285.5,306.8 L286.7,306.8 L287.9,306.7 L289.1,306.7 L290.3,306.7 L291.5,306.7 L292.7,306.6 L293.9,306.6 L295.1,306.6 L296.3,306.6 L297.5,306.6" fill="none" stroke="#ff7f0e" stroke-width="2.9" stroke-linejoin="round" stroke-linecap="round" stroke-dasharray="0.01 6.80" stroke-dashoffset="5.2"/>
<path d="M50.4,452.0 L51.6,451.9 L52.8,452.2 L54.0,452.4 L55.2,452.6 L56.4,452.3 L57.6,452.2 L58.8,452.1 L60.0,452.5 L61.2,452.8 L62.4,452.5 L63.6,452.1 L64.8,452.2 L66.1,452.8 L67.3,452.5 L68.5,452.0 L69.7,452.5 L70.9,452.2 L72.1,452.4 L73.3,452.4 L74.5,452.4 L75.7,452.7 L76.9,452.6 L78.1,452.4 L79.3,452.7 L80.5,452.8 L81.7,452.2 L82.9,452.6 L84.1,452.4 L85.3,452.6 L86.5,452.3 L87.7,452.7 L88.9,452.7 L90.1,452.6 L91.3,452.4 L92.5,452.6 L93.7,452.5 L95.0,452.4 L96.2,452.8 L97.4,452.5 L98.6,453.1 L99.8,452.9 L101.0,452.3 L102.2,452.8 L103.4,452.5 L104.6,452.8 L105.8,452.8 L107.0,452.3 L108.2,452.7 L109.4,452.7 L110.6,453.0 L111.8,452.5 L113.0,453.0 L114.2,452.5 L115.4,452.7 L116.6,452.5 L117.8,453.1 L119.0,452.9 L120.2,453.3 L121.4,452.8 L122.6,452.8 L123.8,452.8 L125.1,452.4 L126.3,452.5 L127.5,452.9 L128.7,452.4 L129.9,452.5 L131.1,452.4 L132.3,452.5 L133.5,452.2 L134.7,452.2 L135.9,452.3 L137.1,452.2 L138.3,452.0 L139.5,452.4 L140.7,451.8 L141.9,451.7 L143.1,451.7 L144.3,452.2 L145.5,451.8 L146.7,451.7 L147.9,451.6 L149.1,451.9 L150.3,451.5 L151.5,451.4 L152.7,451.9 L153.9,451.4 L155.1,451.6 L156.3,451.6 L157.6,451.5 L158.8,451.5 L160.0,451.9 L161.2,451.4 L162.4,451.1 L163.6,451.0 L164.8,451.3 L166.0,451.3 L167.2,451.4 L168.4,451.2 L169.6,451.1 L170.8,451.0 L172.0,451.0 L173.2,451.2 L174.4,451.0 L175.6,451.1 L176.8,451.5 L178.0,451.1 L179.2,450.5 L180.4,451.3 L181.6,450.9 L182.8,450.6 L184.0,451.0 L185.2,450.7 L186.4,450.5 L187.6,450.5 L188.8,450.4 L190.0,450.6 L191.3,450.8 L192.5,450.4 L193.7,450.5 L194.9,450.9 L196.1,450.0 L197.3,450.4 L198.5,450.2 L199.7,449.9 L200.9,449.9 L202.1,450.1 L203.3,450.2 L204.5,449.9 L205.7,450.0 L206.9,450.1 L208.1,450.0 L209.3,450.1 L210.5,449.9 L211.7,449.9 L212.9,450.2 L214.1,449.8 L215.3,449.6 L216.5,449.7 L217.7,449.2 L218.9,449.3 L220.1,449.5 L221.3,449.3 L222.5,449.4 L223.8,448.9 L225.0,448.3 L226.2,449.0 L227.5,448.5 L228.7,447.7 L229.8,448.1 L231.0,447.4 L232.1,446.6 L233.1,446.6 L234.2,446.2 L235.2,446.1 L236.2,444.8 L237.3,444.2 L238.2,443.4 L239.1,442.4 L240.0,441.4 L240.7,440.7 L241.4,440.0 L241.9,439.0 L242.5,437.6 L243.0,436.4 L243.5,435.7 L244.0,434.3 L244.4,433.2 L244.8,431.7 L245.2,431.4 L245.6,430.0 L245.9,428.3 L246.3,427.6 L246.6,426.6 L247.0,424.5 L247.3,423.8 L247.6,422.7 L247.9,421.8 L248.2,420.5 L248.5,419.3 L248.8,418.1 L249.0,417.4 L249.3,416.3 L249.6,414.5 L249.8,413.2 L250.1,412.9 L250.3,410.8 L250.6,409.7 L250.8,408.7 L251.0,407.6 L251.3,406.6 L251.5,405.2 L251.7,403.7 L251.9,402.9 L252.1,401.6 L252.3,400.9 L252.5,399.2 L252.7,397.7 L252.9,396.6 L253.1,396.0 L253.3,394.3 L253.5,392.7 L253.6,391.9 L253.8,390.9 L254.0,390.0 L254.1,388.2 L254.3,387.5 L254.5,386.3 L254.6,384.7 L254.8,383.7 L255.0,383.0 L255.1,381.8 L255.3,380.4 L255.5,379.0 L255.7,378.0 L255.8,376.5 L256.0,375.4 L256.2,374.0 L256.4,373.0 L256.5,371.8 L256.7,371.3 L256.9,369.4 L257.0,368.5 L257.2,367.4 L257.4,365.8 L257.5,364.9 L257.7,362.9 L257.9,362.3 L258.0,361.3 L258.2,359.3 L258.4,358.4 L258.6,357.8 L258.7,356.2 L258.9,354.8 L259.1,353.8 L259.3,352.6 L259.5,351.7 L259.7,350.5 L259.9,349.1 L260.0,347.8 L260.2,346.8 L260.4,345.9 L260.6,344.5 L260.8,343.4 L261.0,342.0 L261.2,340.5 L261.4,339.4 L261.6,338.6 L261.8,337.3 L262.0,335.8 L262.3,334.5 L262.5,333.7 L262.8,332.4 L263.0,331.3 L263.3,330.1 L263.6,329.1 L263.9,327.9 L264.2,327.0 L264.6,325.8 L264.9,324.7 L265.3,323.4 L265.8,322.0 L266.2,320.9 L266.7,319.9 L267.2,318.6 L267.7,317.7 L268.2,316.8 L268.8,315.3 L269.4,314.1 L270.1,313.8 L270.9,312.5 L271.7,311.7 L272.6,310.3 L273.5,310.2 L274.4,309.2 L275.4,308.4 L276.4,308.0 L277.5,307.7 L278.6,307.3 L279.8,307.0 L281.0,306.5 L282.2,306.9 L283.5,306.4 L284.7,306.3 L285.9,306.2 L287.1,305.5 L288.3,306.1 L289.5,305.9 L290.7,305.8 L291.9,305.9 L293.1,305.6 L294.3,306.0 L295.5,305.6 L296.7,305.5 L297.9,305.4 L299.1,305.7 L300.4,305.8 L301.6,305.5 L302.8,305.2 L304.0,305.9" fill="none" stroke="#ff0000" stroke-width="3.0" stroke-linejoin="round" stroke-linecap="round" />
</g>
<rect x="50.40" y="278.80" width="253.60" height="204.90" fill="none" stroke="#000" stroke-width="1.5" />
<line x1="82.70" y1="483.70" x2="82.70" y2="479.50" stroke="#000" stroke-width="1.5" />
<line x1="155.42" y1="483.70" x2="155.42" y2="479.50" stroke="#000" stroke-width="1.5" />
<line x1="228.14" y1="483.70" x2="228.14" y2="479.50" stroke="#000" stroke-width="1.5" />
<line x1="300.86" y1="483.70" x2="300.86" y2="479.50" stroke="#000" stroke-width="1.5" />
<line x1="119.06" y1="483.70" x2="119.06" y2="481.40" stroke="#000" stroke-width="1.5" />
<line x1="191.78" y1="483.70" x2="191.78" y2="481.40" stroke="#000" stroke-width="1.5" />
<line x1="264.50" y1="483.70" x2="264.50" y2="481.40" stroke="#000" stroke-width="1.5" />
<line x1="50.40" y1="305.00" x2="54.60" y2="305.00" stroke="#000" stroke-width="1.5" />
<line x1="50.40" y1="356.00" x2="54.60" y2="356.00" stroke="#000" stroke-width="1.5" />
<line x1="50.40" y1="407.00" x2="54.60" y2="407.00" stroke="#000" stroke-width="1.5" />
<line x1="50.40" y1="458.00" x2="54.60" y2="458.00" stroke="#000" stroke-width="1.5" />
<line x1="50.40" y1="279.50" x2="52.70" y2="279.50" stroke="#000" stroke-width="1.5" />
<line x1="50.40" y1="330.50" x2="52.70" y2="330.50" stroke="#000" stroke-width="1.5" />
<line x1="50.40" y1="381.50" x2="52.70" y2="381.50" stroke="#000" stroke-width="1.5" />
<line x1="50.40" y1="432.50" x2="52.70" y2="432.50" stroke="#000" stroke-width="1.5" />
<text x="82.70" y="498.90" font-size="13.3" text-anchor="middle" font-weight="normal" fill="#111" >0.4</text>
<text x="155.42" y="498.90" font-size="13.3" text-anchor="middle" font-weight="normal" fill="#111" >0.6</text>
<text x="228.14" y="498.90" font-size="13.3" text-anchor="middle" font-weight="normal" fill="#111" >0.8</text>
<text x="300.86" y="498.90" font-size="13.3" text-anchor="middle" font-weight="normal" fill="#111" >1.0</text>
<text x="44.90" y="309.70" font-size="13.3" text-anchor="end" font-weight="normal" fill="#111" >0</text>
<text x="44.90" y="360.70" font-size="13.3" text-anchor="end" font-weight="normal" fill="#111" >-2</text>
<text x="44.90" y="411.70" font-size="13.3" text-anchor="end" font-weight="normal" fill="#111" >-4</text>
<text x="44.90" y="462.70" font-size="13.3" text-anchor="end" font-weight="normal" fill="#111" >-6</text>
<text x="177.90" y="514.80" font-size="17.4" text-anchor="middle" font-weight="normal" fill="#111" >Potential (V vs.RHE)</text>
<text x="27.30" y="380.90" font-size="17.4" text-anchor="middle" font-weight="normal" fill="#111" transform="rotate(-90 27.30 380.90)" >J (mA cm<tspan baseline-shift="64%" font-size="66%">-2</tspan>)</text>
<text x="19.50" y="280.50" font-size="25" text-anchor="start" font-weight="bold" fill="#000" >d</text>
<line x1="61.00" y1="296.90" x2="74.20" y2="296.90" stroke="#ff0000" stroke-width="3.2" stroke-linecap="round"/>
<text x="82.70" y="301.30" font-size="12.5" text-anchor="start" font-weight="normal" fill="#111" >Initial</text>
<circle cx="60.40" cy="312.20" r="1.45" fill="#0000ff" stroke="none" stroke-width="0" />
<circle cx="67.20" cy="312.20" r="1.45" fill="#0000ff" stroke="none" stroke-width="0" />
<circle cx="74.00" cy="312.20" r="1.45" fill="#0000ff" stroke="none" stroke-width="0" />
<text x="82.70" y="316.60" font-size="12.5" text-anchor="start" font-weight="normal" fill="#111" >After 20,000 cycles</text>
<circle cx="60.40" cy="327.50" r="1.45" fill="#007f00" stroke="none" stroke-width="0" />
<circle cx="67.20" cy="327.50" r="1.45" fill="#007f00" stroke="none" stroke-width="0" />
<circle cx="74.00" cy="327.50" r="1.45" fill="#007f00" stroke="none" stroke-width="0" />
<text x="82.70" y="331.90" font-size="12.5" text-anchor="start" font-weight="normal" fill="#111" >After 50,000 cycles</text>
<circle cx="60.40" cy="342.80" r="1.45" fill="#007f7f" stroke="none" stroke-width="0" />
<circle cx="67.20" cy="342.80" r="1.45" fill="#007f7f" stroke="none" stroke-width="0" />
<circle cx="74.00" cy="342.80" r="1.45" fill="#007f7f" stroke="none" stroke-width="0" />
<text x="82.70" y="347.20" font-size="12.5" text-anchor="start" font-weight="normal" fill="#111" >After 100,000 cycles</text>
<circle cx="60.40" cy="358.50" r="1.45" fill="#00c8c8" stroke="none" stroke-width="0" />
<circle cx="67.20" cy="358.50" r="1.45" fill="#00c8c8" stroke="none" stroke-width="0" />
<circle cx="74.00" cy="358.50" r="1.45" fill="#00c8c8" stroke="none" stroke-width="0" />
<text x="82.70" y="362.90" font-size="12.5" text-anchor="start" font-weight="normal" fill="#111" >After 200,000 cycles</text>
<circle cx="60.40" cy="373.80" r="1.45" fill="#ff7f0e" stroke="none" stroke-width="0" />
<circle cx="67.20" cy="373.80" r="1.45" fill="#ff7f0e" stroke="none" stroke-width="0" />
<circle cx="74.00" cy="373.80" r="1.45" fill="#ff7f0e" stroke="none" stroke-width="0" />
<text x="82.70" y="378.20" font-size="12.5" text-anchor="start" font-weight="normal" fill="#111" >After 300,000 cycles</text>
<clipPath id="ce"><rect x="370.5" y="279.3" width="255.2" height="204.2"/></clipPath>
<g clip-path="url(#ce)">
<path d="M370.5,473.6 L372.3,473.6 L374.1,473.6 L375.9,473.6 L377.8,473.7 L379.6,473.7 L381.4,473.7 L383.2,473.7 L385.0,473.7 L386.8,473.7 L388.6,473.7 L390.5,473.7 L392.3,473.7 L394.1,473.8 L395.9,473.8 L397.7,473.8 L399.5,473.8 L401.3,473.8 L403.2,473.8 L405.0,473.8 L406.8,473.8 L408.6,473.8 L410.4,473.8 L412.2,473.8 L414.0,473.9 L415.8,473.9 L417.6,473.9 L419.5,473.9 L421.3,473.9 L423.1,473.9 L424.9,473.9 L426.7,473.9 L428.5,473.9 L430.3,473.9 L432.1,473.9 L433.9,473.9 L435.7,473.9 L437.6,473.9 L439.4,473.9 L441.2,473.9 L443.0,473.9 L444.8,473.9 L446.6,473.9 L448.4,474.0 L450.2,474.0 L452.0,474.0 L453.8,474.0 L455.6,474.0 L457.4,474.0 L459.3,474.0 L461.1,474.0 L462.9,474.0 L464.7,474.0 L466.5,474.0 L468.3,474.0 L470.1,474.0 L471.9,474.0 L473.7,474.0 L475.5,474.0 L477.3,474.0 L479.1,474.0 L480.9,474.0 L482.7,474.0 L484.6,474.0 L486.4,474.0 L488.2,474.0 L490.0,474.0 L491.8,474.0 L493.6,474.0 L495.4,474.0 L497.2,474.0 L499.0,474.0 L500.8,474.0 L502.6,474.0 L504.4,474.0 L506.2,474.0 L508.0,474.0 L509.8,474.0 L511.6,474.0 L513.4,474.0 L515.2,474.0 L517.0,474.0 L518.8,474.0 L520.6,474.0 L522.5,474.0 L524.3,474.0 L526.1,473.9 L527.9,473.9 L529.7,473.8 L531.5,473.6 L533.3,473.4 L535.1,473.3 L536.9,473.0 L538.7,472.8 L540.5,472.6 L542.3,472.3 L544.1,472.1 L545.8,471.8 L547.6,471.4 L549.4,471.0 L551.1,470.5 L552.9,470.0 L554.6,469.4 L556.3,468.8 L558.0,468.2 L559.7,467.5 L561.4,466.8 L563.0,466.1 L564.6,465.3 L566.2,464.5 L567.8,463.6 L569.4,462.7 L571.0,461.8 L572.5,460.8 L574.1,459.9 L575.6,458.9 L577.1,457.9 L578.6,456.9 L580.0,455.8 L581.5,454.7 L583.0,453.7 L584.4,452.6 L585.9,451.5 L587.4,450.5 L588.9,449.5 L590.4,448.5 L591.9,447.4 L593.4,446.4 L594.9,445.4 L596.4,444.4 L597.9,443.4 L599.4,442.4 L600.9,441.4 L602.4,440.5 L604.0,439.6 L605.6,438.7 L607.1,437.8 L608.7,436.9 L610.3,436.1 L611.9,435.2 L613.5,434.4 L615.1,433.5 L616.7,432.7 L618.3,431.9 L620.0,431.1 L621.6,430.2 L623.2,429.4 L624.8,428.6 L626.4,427.7 L628.0,426.9" fill="none" stroke="#000000" stroke-width="2.9" stroke-linejoin="round" stroke-linecap="round" />
<path d="M462.0,473.4 L463.5,473.5 L464.9,473.3 L466.4,473.1 L467.9,473.3 L469.4,473.1 L470.8,473.4 L472.3,473.8 L473.8,473.2 L475.2,473.2 L476.7,473.5 L478.2,473.5 L479.6,473.4 L481.1,473.1 L482.6,473.4 L484.0,473.6 L485.5,473.0 L487.0,473.2 L488.4,472.8 L489.9,473.0 L491.4,472.8 L492.8,473.3 L494.3,473.0 L495.7,473.4 L497.2,473.4 L498.7,473.3 L500.1,472.6 L501.6,473.1 L503.1,473.3 L504.5,473.3 L506.0,472.8 L507.4,473.1 L508.9,473.0 L510.4,473.0 L511.8,473.6 L513.3,473.0 L514.8,473.2 L516.2,473.5 L517.7,473.0 L519.1,473.1 L520.6,473.2 L522.1,473.1 L523.6,472.6 L525.0,472.8 L526.5,473.0 L528.0,472.0 L529.4,472.5 L530.9,472.0 L532.3,471.6 L533.7,472.1 L535.1,471.5 L536.5,470.5 L537.9,470.4 L539.2,470.0 L540.6,469.1 L542.0,468.7 L543.3,467.7 L544.6,467.2 L545.8,466.7 L547.1,465.3 L548.3,464.8 L549.5,463.7 L550.6,463.0 L551.8,461.7 L552.9,460.9 L554.1,460.0 L555.1,459.3 L556.1,458.3 L557.1,456.5 L558.0,455.6 L558.9,454.9 L559.8,452.9 L560.6,452.2 L561.4,451.0 L562.1,450.2 L562.8,448.7 L563.6,447.1 L564.3,445.8 L564.9,444.5 L565.6,443.7 L566.3,441.8 L566.9,440.6 L567.6,439.4 L568.2,438.0 L568.8,436.6 L569.4,435.0 L570.0,434.0 L570.6,432.5 L571.1,431.6 L571.7,430.1 L572.2,428.6 L572.7,427.4 L573.3,425.7 L573.8,424.8 L574.3,423.1 L574.8,421.9 L575.2,419.9 L575.7,419.0 L576.1,417.0 L576.6,415.5 L577.0,414.6 L577.5,413.1 L577.9,412.0 L578.3,411.2 L578.7,408.9 L579.1,407.5 L579.5,406.4 L579.9,405.0 L580.3,403.4 L580.7,402.0 L581.1,400.9 L581.5,399.4 L581.8,397.5 L582.2,396.4 L582.6,395.0 L582.9,393.2 L583.3,392.2 L583.6,390.4 L584.0,389.6 L584.3,387.9 L584.6,386.5 L585.0,384.8 L585.3,383.5 L585.6,381.5 L586.0,380.4 L586.3,379.4 L586.6,377.2 L587.0,376.7 L587.3,374.5 L587.6,373.8 L587.9,371.9 L588.3,371.0 L588.6,369.3 L588.9,367.4 L589.2,366.8 L589.5,365.4 L589.9,363.6 L590.2,362.1 L590.5,360.7 L590.8,359.0 L591.1,358.2 L591.4,356.3 L591.8,355.0 L592.1,353.3 L592.4,351.9 L592.7,350.3 L593.0,349.6 L593.4,347.8 L593.7,346.7 L594.0,345.0 L594.3,343.3 L594.6,342.0 L594.9,340.5 L595.3,339.3 L595.6,337.7 L595.9,336.3 L596.2,334.6 L596.5,333.3 L596.8,332.6 L597.1,330.5 L597.4,328.9 L597.7,327.9 L598.1,326.8 L598.4,324.5 L598.7,323.4 L599.0,321.9 L599.3,320.1 L599.6,319.4 L599.9,317.8 L600.2,316.4 L600.5,314.7 L600.8,313.6 L601.1,311.9 L601.5,310.6 L601.8,308.9 L602.1,307.4 L602.5,306.7 L602.8,304.7 L603.1,303.6 L603.4,302.0 L603.7,300.5 L604.0,299.0 L604.3,297.9 L604.5,296.2 L604.7,294.8 L604.9,293.4 L605.1,292.3 L605.3,290.7 L605.5,289.1 L605.7,287.4 L605.8,285.7 L606.0,284.9 L606.1,283.5 L606.3,281.7 L606.5,280.5 L606.6,279.1 L606.8,277.6 L606.9,276.2 L607.1,274.3 L607.2,273.5" fill="none" stroke="#0000ff" stroke-width="2.9" stroke-linejoin="round" stroke-linecap="round" />
<path d="M462.0,473.4 L463.8,473.4 L465.6,473.4 L467.4,473.4 L469.2,473.4 L470.9,473.4 L472.7,473.4 L474.5,473.4 L476.3,473.4 L478.1,473.4 L479.9,473.4 L481.6,473.3 L483.4,473.3 L485.2,473.3 L487.0,473.3 L488.8,473.3 L490.5,473.3 L492.3,473.3 L494.1,473.2 L495.9,473.2 L497.6,473.2 L499.4,473.1 L501.2,472.9 L503.0,472.7 L504.7,472.4 L506.5,472.1 L508.3,471.8 L510.0,471.5 L511.7,471.1 L513.5,470.6 L515.2,470.1 L516.9,469.5 L518.6,468.8 L520.2,468.1 L521.8,467.4 L523.4,466.6 L524.9,465.8 L526.4,464.8 L527.8,463.8 L529.2,462.7 L530.6,461.5 L532.0,460.3 L533.4,459.1 L534.7,457.9 L536.0,456.6 L537.2,455.4 L538.5,454.1 L539.7,452.8 L540.9,451.5 L542.0,450.2 L543.2,448.8 L544.3,447.4 L545.4,446.0 L546.5,444.6 L547.6,443.2 L548.7,441.7 L549.7,440.3 L550.8,438.9 L551.8,437.4 L552.9,436.0 L553.9,434.5 L554.9,433.0 L555.9,431.6 L556.9,430.1 L557.8,428.6 L558.8,427.1 L559.8,425.6 L560.7,424.1 L561.7,422.5 L562.6,421.0 L563.6,419.5 L564.5,418.0 L565.4,416.5 L566.3,415.0 L567.3,413.4 L568.2,411.9 L569.1,410.4 L570.0,408.8 L570.9,407.3 L571.8,405.8 L572.6,404.2 L573.5,402.7 L574.4,401.1 L575.3,399.6 L576.2,398.0 L577.1,396.5 L578.0,394.9 L578.9,393.4 L579.8,391.9 L580.7,390.3 L581.5,388.8 L582.4,387.2 L583.3,385.7 L584.2,384.1 L585.1,382.6 L585.9,381.0 L586.8,379.4 L587.6,377.9 L588.4,376.3 L589.2,374.7 L590.1,373.1 L590.9,371.5 L591.7,369.9 L592.5,368.4 L593.3,366.8 L594.1,365.2 L594.8,363.6 L595.6,362.0 L596.4,360.4 L597.2,358.8 L598.0,357.2 L598.7,355.6 L599.5,353.9 L600.3,352.3 L601.0,350.7 L601.8,349.1 L602.5,347.5 L603.3,345.9 L604.0,344.3 L604.8,342.6 L605.5,341.0 L606.3,339.4 L607.0,337.8 L607.8,336.2 L608.6,334.6 L609.3,333.0 L610.1,331.3 L610.8,329.7 L611.6,328.1 L612.3,326.5 L613.1,324.9 L613.9,323.3 L614.6,321.7 L615.4,320.1 L616.1,318.5 L616.9,316.8 L617.7,315.2 L618.5,313.6 L619.2,312.0 L620.0,310.4 L620.8,308.8 L621.6,307.2 L622.4,305.6 L623.2,304.0 L624.0,302.4 L624.8,300.9 L625.6,299.3 L626.4,297.7 L627.2,296.1 L628.0,294.5" fill="none" stroke="#007f00" stroke-width="2.9" stroke-linejoin="round" stroke-linecap="round" />
<path d="M370.5,473.1 L372.2,473.1 L373.9,473.1 L375.6,473.3 L377.3,472.9 L379.0,473.4 L380.7,473.2 L382.4,473.6 L384.1,473.6 L385.8,473.7 L387.5,473.6 L389.2,473.4 L390.9,473.6 L392.7,473.7 L394.4,473.3 L396.1,473.5 L397.8,473.4 L399.5,473.7 L401.2,473.2 L402.9,473.3 L404.6,473.5 L406.3,473.5 L408.0,473.1 L409.7,473.5 L411.4,473.4 L413.1,473.4 L414.8,473.4 L416.5,473.4 L418.2,473.0 L419.9,473.7 L421.6,473.2 L423.3,473.0 L425.0,473.4 L426.7,473.7 L428.4,473.3 L430.1,473.7 L431.8,473.7 L433.5,473.2 L435.2,472.9 L436.9,473.2 L438.6,473.6 L440.2,473.2 L441.9,473.1 L443.6,473.1 L445.3,473.4 L447.0,473.4 L448.7,473.6 L450.4,473.6 L452.1,473.2 L453.8,473.4 L455.5,473.2 L457.2,473.4 L458.9,473.2 L460.6,473.2 L462.3,473.8 L464.0,473.4 L465.7,473.5 L467.4,473.9 L469.1,473.6 L470.8,473.4 L472.5,473.4 L474.2,473.2 L475.9,473.4 L477.6,473.1 L479.4,473.3 L481.1,472.8 L482.8,472.6 L484.5,472.4 L486.2,472.4 L487.8,472.1 L489.5,472.1 L491.1,471.4 L492.7,471.3 L494.4,471.1 L496.0,470.0 L497.6,469.4 L499.1,468.8 L500.6,467.7 L502.0,466.6 L503.3,465.3 L504.6,465.1 L505.8,463.5 L507.0,462.4 L508.2,460.8 L509.2,459.9 L510.3,458.3 L511.3,456.9 L512.2,455.3 L513.1,454.1 L514.0,452.5 L514.9,451.0 L515.7,449.2 L516.5,448.0 L517.3,446.6 L518.1,444.8 L518.8,443.5 L519.6,442.1 L520.3,440.4 L521.0,438.8 L521.7,437.2 L522.3,436.0 L523.0,433.9 L523.6,432.6 L524.3,431.0 L524.9,429.5 L525.5,427.8 L526.1,426.1 L526.7,425.1 L527.3,423.1 L527.8,421.2 L528.4,419.7 L529.0,418.3 L529.5,416.8 L530.0,414.8 L530.6,413.6 L531.1,411.5 L531.6,410.0 L532.1,408.7 L532.6,407.3 L533.1,405.3 L533.6,403.6 L534.1,402.3 L534.6,400.2 L535.1,398.9 L535.5,397.2 L536.0,395.7 L536.5,394.0 L536.9,392.2 L537.4,390.8 L537.8,388.8 L538.3,387.5 L538.7,385.6 L539.1,383.9 L539.6,382.3 L540.0,380.8 L540.4,379.3 L540.9,377.4 L541.3,376.0 L541.7,374.4 L542.1,372.5 L542.6,370.7 L543.0,369.4 L543.4,367.7 L543.9,365.5 L544.3,364.1 L544.7,362.7 L545.1,360.8 L545.5,359.2 L546.0,357.4 L546.4,356.2 L546.8,354.5 L547.2,352.8 L547.6,351.4 L548.0,349.4 L548.4,347.8 L548.8,346.6 L549.2,344.3 L549.6,343.0 L550.0,341.0 L550.4,339.6 L550.8,338.3 L551.2,336.3 L551.5,334.4 L551.9,333.4 L552.3,331.2 L552.7,329.6 L553.0,328.0 L553.4,326.0 L553.8,324.9 L554.1,323.3 L554.5,321.5 L554.9,319.7 L555.2,318.0 L555.6,316.5 L556.0,314.1 L556.3,313.0 L556.7,311.4 L557.1,309.3 L557.4,308.1 L557.8,306.4 L558.2,304.7 L558.5,303.1 L558.9,301.5 L559.2,299.8 L559.6,297.9 L559.9,296.4 L560.3,294.7 L560.6,293.1 L560.9,291.3 L561.2,289.9 L561.6,288.3 L561.9,286.7 L562.2,285.1 L562.5,283.4 L562.8,281.3 L563.1,279.6 L563.4,278.0 L563.7,276.5 L563.9,274.7 L564.2,273.2" fill="none" stroke="#ff0000" stroke-width="2.9" stroke-linejoin="round" stroke-linecap="round" />
</g>
<rect x="370.50" y="279.30" width="255.20" height="204.20" fill="none" stroke="#000" stroke-width="1.5" />
<line x1="400.90" y1="483.50" x2="400.90" y2="479.30" stroke="#000" stroke-width="1.5" />
<line x1="461.60" y1="483.50" x2="461.60" y2="479.30" stroke="#000" stroke-width="1.5" />
<line x1="522.30" y1="483.50" x2="522.30" y2="479.30" stroke="#000" stroke-width="1.5" />
<line x1="583.00" y1="483.50" x2="583.00" y2="479.30" stroke="#000" stroke-width="1.5" />
<line x1="431.25" y1="483.50" x2="431.25" y2="481.20" stroke="#000" stroke-width="1.5" />
<line x1="491.95" y1="483.50" x2="491.95" y2="481.20" stroke="#000" stroke-width="1.5" />
<line x1="552.65" y1="483.50" x2="552.65" y2="481.20" stroke="#000" stroke-width="1.5" />
<line x1="613.35" y1="483.50" x2="613.35" y2="481.20" stroke="#000" stroke-width="1.5" />
<line x1="370.50" y1="473.40" x2="374.70" y2="473.40" stroke="#000" stroke-width="1.5" />
<line x1="370.50" y1="424.80" x2="374.70" y2="424.80" stroke="#000" stroke-width="1.5" />
<line x1="370.50" y1="376.20" x2="374.70" y2="376.20" stroke="#000" stroke-width="1.5" />
<line x1="370.50" y1="327.60" x2="374.70" y2="327.60" stroke="#000" stroke-width="1.5" />
<line x1="370.50" y1="449.10" x2="372.80" y2="449.10" stroke="#000" stroke-width="1.5" />
<line x1="370.50" y1="400.50" x2="372.80" y2="400.50" stroke="#000" stroke-width="1.5" />
<line x1="370.50" y1="351.90" x2="372.80" y2="351.90" stroke="#000" stroke-width="1.5" />
<line x1="370.50" y1="303.30" x2="372.80" y2="303.30" stroke="#000" stroke-width="1.5" />
<text x="400.90" y="498.50" font-size="13.3" text-anchor="middle" font-weight="normal" fill="#111" >1.3</text>
<text x="461.60" y="498.50" font-size="13.3" text-anchor="middle" font-weight="normal" fill="#111" >1.4</text>
<text x="522.30" y="498.50" font-size="13.3" text-anchor="middle" font-weight="normal" fill="#111" >1.5</text>
<text x="583.00" y="498.50" font-size="13.3" text-anchor="middle" font-weight="normal" fill="#111" >1.6</text>
<text x="364.90" y="478.10" font-size="13.3" text-anchor="end" font-weight="normal" fill="#111" >0</text>
<text x="364.90" y="429.50" font-size="13.3" text-anchor="end" font-weight="normal" fill="#111" >50</text>
<text x="364.90" y="380.90" font-size="13.3" text-anchor="end" font-weight="normal" fill="#111" >100</text>
<text x="364.90" y="332.30" font-size="13.3" text-anchor="end" font-weight="normal" fill="#111" >150</text>
<text x="364.90" y="283.70" font-size="13.3" text-anchor="end" font-weight="normal" fill="#111" >200</text>
<text x="498.10" y="517.10" font-size="17.4" text-anchor="middle" font-weight="normal" fill="#111" >Potential (V vs.RHE)</text>
<text x="338.50" y="385.40" font-size="17.4" text-anchor="middle" font-weight="normal" fill="#111" transform="rotate(-90 338.50 385.40)" >J (mA cm<tspan baseline-shift="64%" font-size="66%">-2</tspan>)</text>
<text x="327.50" y="279.00" font-size="25" text-anchor="start" font-weight="bold" fill="#000" >e</text>
<line x1="406.40" y1="319.30" x2="420.50" y2="319.30" stroke="#000000" stroke-width="3.1" stroke-linecap="round"/>
<text x="429.30" y="324.10" font-size="13.6" text-anchor="start" font-weight="normal" fill="#111" >IrO<tspan baseline-shift="-33%" font-size="70%">2</tspan></text>
<line x1="406.40" y1="339.10" x2="420.50" y2="339.10" stroke="#0000ff" stroke-width="3.1" stroke-linecap="round"/>
<text x="429.30" y="343.90" font-size="13.6" text-anchor="start" font-weight="normal" fill="#111" >MnRuO<tspan baseline-shift="-33%" font-size="70%">2</tspan></text>
<line x1="406.40" y1="358.50" x2="420.50" y2="358.50" stroke="#007f00" stroke-width="3.1" stroke-linecap="round"/>
<text x="429.30" y="363.30" font-size="13.6" text-anchor="start" font-weight="normal" fill="#111" >GaRuO<tspan baseline-shift="-33%" font-size="70%">2</tspan></text>
<line x1="406.40" y1="378.00" x2="420.50" y2="378.00" stroke="#ff0000" stroke-width="3.1" stroke-linecap="round"/>
<text x="429.30" y="382.80" font-size="13.6" text-anchor="start" font-weight="normal" fill="#111" >Ga/MnRuO<tspan baseline-shift="-33%" font-size="70%">2</tspan></text>
<clipPath id="cf"><rect x="712.2" y="279.3" width="253.7" height="204"/></clipPath>
<g clip-path="url(#cf)">
<path d="M712.2,477.2 L713.9,477.2 L715.7,477.2 L717.4,477.2 L719.2,477.2 L720.9,477.2 L722.7,477.2 L724.4,477.2 L726.2,477.2 L727.9,477.2 L729.7,477.2 L731.4,477.2 L733.2,477.2 L734.9,477.1 L736.7,477.1 L738.4,477.1 L740.2,477.1 L741.9,477.1 L743.7,477.1 L745.4,477.1 L747.2,477.1 L748.9,477.1 L750.7,477.1 L752.4,477.0 L754.2,477.0 L755.9,477.0 L757.7,477.0 L759.4,477.0 L761.2,477.0 L762.9,477.0 L764.7,476.9 L766.4,476.9 L768.2,476.9 L769.9,476.9 L771.7,476.9 L773.4,476.9 L775.2,476.8 L776.9,476.8 L778.7,476.8 L780.4,476.8 L782.2,476.8 L783.9,476.8 L785.7,476.7 L787.4,476.7 L789.2,476.7 L790.9,476.6 L792.7,476.6 L794.4,476.5 L796.2,476.5 L797.9,476.4 L799.7,476.4 L801.4,476.3 L803.2,476.3 L804.9,476.2 L806.7,476.2 L808.4,476.1 L810.2,476.0 L811.9,476.0 L813.6,475.9 L815.4,475.8 L817.1,475.7 L818.9,475.7 L820.6,475.6 L822.4,475.5 L824.1,475.4 L825.9,475.2 L827.6,475.1 L829.4,475.0 L831.1,474.8 L832.9,474.6 L834.6,474.4 L836.3,474.2 L838.0,473.9 L839.8,473.5 L841.5,473.0 L843.2,472.5 L844.9,472.0 L846.5,471.4 L848.1,470.7 L849.7,470.0 L851.2,469.3 L852.7,468.3 L854.2,467.3 L855.6,466.3 L857.0,465.1 L858.3,463.9 L859.6,462.7 L860.7,461.5 L861.8,460.2 L862.9,458.8 L863.9,457.3 L864.9,455.9 L865.8,454.3 L866.7,452.8 L867.6,451.3 L868.4,449.8 L869.2,448.2 L870.0,446.7 L870.8,445.1 L871.5,443.5 L872.3,441.9 L873.0,440.3 L873.7,438.7 L874.4,437.1 L875.2,435.5 L875.9,433.9 L876.7,432.4 L877.5,430.8 L878.2,429.2 L879.0,427.6 L879.7,426.0 L880.4,424.4 L881.1,422.8 L881.8,421.2 L882.3,419.6 L882.9,417.9 L883.4,416.3 L883.9,414.6 L884.3,412.9 L884.7,411.2 L885.2,409.5 L885.6,407.8 L886.0,406.1 L886.3,404.4 L886.7,402.7 L887.1,400.9 L887.4,399.2 L887.8,397.5 L888.2,395.8 L888.6,394.1 L888.9,392.4 L889.3,390.7 L889.7,389.0 L890.0,387.2 L890.4,385.5 L890.7,383.8 L891.1,382.1 L891.4,380.4 L891.7,378.7 L892.1,376.9 L892.4,375.2 L892.7,373.5 L893.0,371.8 L893.4,370.1 L893.7,368.3 L894.0,366.6 L894.3,364.9 L894.6,363.2 L894.9,361.5 L895.2,359.7 L895.5,358.0 L895.8,356.3 L896.0,354.6 L896.3,352.8 L896.6,351.1 L896.9,349.4 L897.1,347.6 L897.4,345.9 L897.6,344.2 L897.9,342.4 L898.1,340.7 L898.4,339.0 L898.6,337.2 L898.8,335.5 L899.0,333.8 L899.2,332.0 L899.4,330.3 L899.6,328.6 L899.8,326.8 L900.0,325.1 L900.2,323.3 L900.4,321.6 L900.6,319.9 L900.8,318.1 L901.0,316.4 L901.2,314.7 L901.4,312.9 L901.7,311.2 L901.9,309.5 L902.1,307.7 L902.3,306.0 L902.5,304.2 L902.8,302.5 L903.0,300.8 L903.2,299.0 L903.4,297.3 L903.7,295.6 L903.9,293.8 L904.1,292.1 L904.3,290.4 L904.5,288.6 L904.7,286.9 L905.0,285.2 L905.2,283.4 L905.4,281.7 L905.6,279.9 L905.8,278.2 L906.0,276.5 L906.2,274.7 L906.4,273.0" fill="none" stroke="#ff0000" stroke-width="2.8" stroke-linejoin="round" stroke-linecap="round" stroke-dasharray="0.01 7.0"/>
<path d="M712.2,477.7 L713.9,477.7 L715.7,477.7 L717.4,477.7 L719.2,477.7 L720.9,477.7 L722.7,477.7 L724.4,477.7 L726.1,477.7 L727.9,477.7 L729.6,477.7 L731.4,477.7 L733.1,477.7 L734.9,477.6 L736.6,477.6 L738.3,477.6 L740.1,477.6 L741.8,477.6 L743.6,477.6 L745.3,477.6 L747.1,477.6 L748.8,477.6 L750.5,477.6 L752.3,477.5 L754.0,477.5 L755.8,477.5 L757.5,477.5 L759.3,477.5 L761.0,477.5 L762.7,477.5 L764.5,477.5 L766.2,477.4 L768.0,477.4 L769.7,477.4 L771.5,477.4 L773.2,477.4 L774.9,477.4 L776.7,477.3 L778.4,477.3 L780.2,477.3 L781.9,477.3 L783.7,477.3 L785.4,477.2 L787.1,477.2 L788.9,477.2 L790.6,477.1 L792.4,477.1 L794.1,477.0 L795.9,477.0 L797.6,476.9 L799.3,476.9 L801.1,476.8 L802.8,476.7 L804.6,476.7 L806.3,476.6 L808.0,476.5 L809.8,476.5 L811.5,476.4 L813.3,476.3 L815.0,476.2 L816.7,476.2 L818.5,476.1 L820.2,476.0 L822.0,475.9 L823.7,475.8 L825.5,475.7 L827.2,475.6 L829.0,475.4 L830.7,475.3 L832.4,475.1 L834.2,474.9 L835.9,474.7 L837.6,474.5 L839.3,474.1 L841.0,473.7 L842.7,473.2 L844.4,472.6 L846.1,472.0 L847.7,471.4 L849.2,470.7 L850.7,470.0 L852.2,469.1 L853.7,468.1 L855.2,467.1 L856.5,465.9 L857.9,464.7 L859.1,463.5 L860.3,462.3 L861.4,461.0 L862.4,459.6 L863.4,458.2 L864.4,456.7 L865.3,455.2 L866.2,453.7 L867.1,452.1 L867.9,450.6 L868.8,449.1 L869.6,447.5 L870.3,446.0 L871.1,444.4 L871.8,442.8 L872.5,441.2 L873.2,439.6 L873.9,438.0 L874.5,436.4 L875.1,434.7 L875.7,433.1 L876.2,431.4 L876.8,429.8 L877.3,428.1 L877.8,426.4 L878.3,424.8 L878.8,423.1 L879.2,421.4 L879.7,419.7 L880.1,418.0 L880.5,416.3 L880.9,414.7 L881.4,413.0 L881.8,411.3 L882.2,409.6 L882.6,407.9 L882.9,406.2 L883.3,404.5 L883.7,402.7 L884.0,401.0 L884.3,399.3 L884.7,397.6 L885.0,395.9 L885.3,394.2 L885.6,392.5 L885.9,390.8 L886.2,389.0 L886.5,387.3 L886.7,385.6 L887.0,383.9 L887.3,382.2 L887.5,380.4 L887.8,378.7 L888.0,377.0 L888.2,375.3 L888.5,373.5 L888.7,371.8 L888.9,370.1 L889.2,368.3 L889.4,366.6 L889.6,364.9 L889.9,363.2 L890.1,361.4 L890.3,359.7 L890.5,358.0 L890.7,356.2 L890.9,354.5 L891.1,352.8 L891.3,351.0 L891.5,349.3 L891.7,347.6 L891.9,345.9 L892.1,344.1 L892.3,342.4 L892.5,340.7 L892.7,338.9 L892.9,337.2 L893.1,335.5 L893.2,333.7 L893.4,332.0 L893.6,330.3 L893.8,328.5 L893.9,326.8 L894.1,325.1 L894.3,323.3 L894.4,321.6 L894.6,319.8 L894.8,318.1 L895.0,316.4 L895.1,314.6 L895.3,312.9 L895.5,311.2 L895.6,309.4 L895.8,307.7 L896.0,306.0 L896.2,304.2 L896.3,302.5 L896.5,300.8 L896.7,299.0 L896.8,297.3 L897.0,295.6 L897.2,293.8 L897.3,292.1 L897.5,290.4 L897.7,288.6 L897.8,286.9 L898.0,285.2 L898.1,283.4 L898.3,281.7 L898.4,279.9 L898.6,278.2 L898.7,276.5 L898.9,274.7 L899.0,273.0" fill="none" stroke="#ff0000" stroke-width="3.6" stroke-linejoin="round" stroke-linecap="round" />
</g>
<line x1="712.20" y1="435.40" x2="965.90" y2="435.40" stroke="#000" stroke-width="1.7" stroke-dasharray="1.7 1.7"/>
<rect x="712.20" y="279.30" width="253.70" height="204.00" fill="none" stroke="#000" stroke-width="1.5" />
<line x1="748.10" y1="483.30" x2="748.10" y2="479.10" stroke="#000" stroke-width="1.5" />
<line x1="820.67" y1="483.30" x2="820.67" y2="479.10" stroke="#000" stroke-width="1.5" />
<line x1="893.24" y1="483.30" x2="893.24" y2="479.10" stroke="#000" stroke-width="1.5" />
<line x1="784.39" y1="483.30" x2="784.39" y2="481.00" stroke="#000" stroke-width="1.5" />
<line x1="856.95" y1="483.30" x2="856.95" y2="481.00" stroke="#000" stroke-width="1.5" />
<line x1="929.53" y1="483.30" x2="929.53" y2="481.00" stroke="#000" stroke-width="1.5" />
<line x1="712.20" y1="478.40" x2="716.40" y2="478.40" stroke="#000" stroke-width="1.5" />
<line x1="712.20" y1="389.60" x2="716.40" y2="389.60" stroke="#000" stroke-width="1.5" />
<line x1="712.20" y1="300.80" x2="716.40" y2="300.80" stroke="#000" stroke-width="1.5" />
<line x1="712.20" y1="434.00" x2="714.50" y2="434.00" stroke="#000" stroke-width="1.5" />
<line x1="712.20" y1="345.20" x2="714.50" y2="345.20" stroke="#000" stroke-width="1.5" />
<text x="748.10" y="498.90" font-size="13.600000000000001" text-anchor="middle" font-weight="normal" fill="#111" >1.3</text>
<text x="820.67" y="498.90" font-size="13.600000000000001" text-anchor="middle" font-weight="normal" fill="#111" >1.4</text>
<text x="893.24" y="498.90" font-size="13.600000000000001" text-anchor="middle" font-weight="normal" fill="#111" >1.5</text>
<text x="965.81" y="498.90" font-size="13.600000000000001" text-anchor="middle" font-weight="normal" fill="#111" >1.6</text>
<text x="706.40" y="483.20" font-size="13.600000000000001" text-anchor="end" font-weight="normal" fill="#111" >0</text>
<text x="706.40" y="394.40" font-size="13.600000000000001" text-anchor="end" font-weight="normal" fill="#111" >20</text>
<text x="706.40" y="305.60" font-size="13.600000000000001" text-anchor="end" font-weight="normal" fill="#111" >40</text>
<text x="837.00" y="518.70" font-size="17.4" text-anchor="middle" font-weight="normal" fill="#111" >Potential (V vs.RHE)</text>
<text x="686.50" y="380.90" font-size="17.4" text-anchor="middle" font-weight="normal" fill="#111" transform="rotate(-90 686.50 380.90)" >J (mA cm<tspan baseline-shift="64%" font-size="66%">-2</tspan>)</text>
<text x="660.50" y="281.20" font-size="25" text-anchor="start" font-weight="bold" fill="#000" >f</text>
<text x="719.60" y="328.00" font-size="13.5" text-anchor="start" font-weight="normal" fill="#111" >Ga/MnRuO<tspan baseline-shift="-33%" font-size="70%">2</tspan></text>
<circle cx="728.70" cy="344.10" r="1.35" fill="#ff0000" stroke="none" stroke-width="0" />
<circle cx="735.90" cy="344.10" r="1.35" fill="#ff0000" stroke="none" stroke-width="0" />
<circle cx="743.20" cy="344.10" r="1.35" fill="#ff0000" stroke="none" stroke-width="0" />
<circle cx="750.40" cy="344.10" r="1.35" fill="#ff0000" stroke="none" stroke-width="0" />
<text x="756.30" y="347.60" font-size="13.5" text-anchor="start" font-weight="normal" fill="#111" >After 30,000 cycles</text>
<line x1="729.80" y1="360.30" x2="753.00" y2="360.30" stroke="#ff0000" stroke-width="3.2" stroke-linecap="round"/>
<text x="756.30" y="364.70" font-size="13.5" text-anchor="start" font-weight="normal" fill="#111" >Initial</text>
<text x="714.80" y="425.50" font-size="17.3" text-anchor="start" font-weight="normal" fill="#111" >j<tspan baseline-shift="-33%" font-size="70%">10</tspan></text>
<text x="873.2" y="452" font-size="13.5" fill="#111"><tspan font-family="Liberation Serif" font-size="12">Δη</tspan>=3 mV</text>
<clipPath id="cg"><rect x="56" y="557.6" width="254.7" height="204.4"/></clipPath>
<g clip-path="url(#cg)">
<path d="M58.1,746.7 L59.4,746.8 L60.7,746.9 L62.0,747.0 L63.4,747.1 L64.7,747.2 L66.0,747.3 L67.3,747.4 L68.6,747.5 L69.9,747.5 L71.3,747.6 L72.6,747.7 L73.9,747.7 L75.2,747.8 L76.5,747.8 L77.8,747.9 L79.2,747.9 L80.5,747.9 L81.8,748.0 L83.1,748.0 L84.4,748.0 L85.7,748.1 L87.0,748.1 L88.4,748.1 L89.7,748.1 L91.0,748.1 L92.3,748.1 L93.6,748.2 L94.9,748.2 L96.2,748.2 L97.6,748.2 L98.9,748.2 L100.2,748.2 L101.5,748.2 L102.8,748.2 L104.1,748.2 L105.4,748.2 L106.8,748.2 L108.1,748.2 L109.4,748.2 L110.7,748.2 L112.0,748.2 L113.3,748.1 L114.7,748.1 L116.0,748.1 L117.3,748.0 L118.6,747.9 L120.0,747.8 L121.3,747.8 L122.6,747.7 L123.9,747.6 L125.2,747.5 L126.6,747.3 L127.9,747.2 L129.2,747.1 L130.4,746.9 L131.7,746.8 L133.0,746.6 L134.3,746.4 L135.5,746.0 L136.8,745.6 L138.0,745.1 L139.3,744.6 L140.5,744.0 L141.7,743.5 L142.9,743.0 L144.2,742.5 L145.4,742.0 L146.6,741.4 L147.7,740.7 L148.8,740.0 L149.8,739.3 L150.7,738.4 L151.7,737.4 L152.6,736.4 L153.4,735.4 L154.3,734.4 L155.2,733.4 L156.0,732.4 L156.8,731.4 L157.6,730.3 L158.4,729.3 L159.2,728.2 L160.1,727.2 L160.9,726.2 L161.7,725.2 L162.6,724.1 L163.4,723.1 L164.3,722.1 L165.2,721.2 L166.2,720.3 L167.2,719.5 L168.2,718.7 L169.4,718.0 L170.5,717.3 L171.7,716.7 L172.9,716.2 L174.1,715.8 L175.4,715.4 L176.7,715.1 L178.0,714.8 L179.3,714.6 L180.6,714.5 L181.9,714.4 L183.2,714.2 L184.5,714.1 L185.8,714.1 L187.2,714.0 L188.5,713.9 L189.8,713.9 L191.1,713.9 L192.4,713.9 L193.7,713.8 L195.0,713.8 L196.4,713.8 L197.7,713.8 L199.0,713.8 L200.3,713.8 L201.6,713.8 L202.9,713.8 L204.3,713.8 L205.6,713.8 L206.9,713.8 L208.2,713.8 L209.6,713.8 L210.9,713.8 L212.2,713.8 L213.5,713.8 L214.9,713.8 L216.2,713.9 L217.5,713.9 L218.8,713.9 L220.2,713.9 L221.5,713.9 L222.8,713.9 L224.2,713.9 L225.5,713.9 L226.8,713.9 L228.1,713.9 L229.5,713.9 L230.8,714.0 L232.1,714.0 L233.5,714.0 L234.8,714.0 L236.1,714.0 L237.4,714.0 L238.8,714.0 L240.1,714.0 L241.4,714.0 L242.7,714.1 L244.0,714.1 L245.4,714.1 L246.7,714.1 L248.0,714.1 L249.3,714.1 L250.6,714.1 L251.9,714.1 L253.2,714.1 L254.5,714.1 L255.8,714.2 L257.1,714.2 L258.5,714.2 L259.7,714.2 L261.0,714.2 L262.3,714.2 L263.6,714.2 L264.9,714.2 L266.2,714.2 L267.5,714.2 L268.8,714.2 L270.0,714.2 L271.3,714.1 L272.7,713.9 L274.0,713.5 L275.3,712.9 L276.4,712.4 L277.3,711.7 L278.2,710.8 L279.0,709.8 L279.7,708.5 L280.4,707.3 L281.0,706.0 L281.5,704.9 L282.0,703.7 L282.5,702.5 L282.9,701.2 L283.3,700.0 L283.7,698.7 L284.1,697.4 L284.4,696.1 L284.7,694.8 L285.0,693.5 L285.3,692.2 L285.6,690.9 L285.8,689.7 L286.0,688.4 L286.3,687.1 L286.5,685.8 L286.7,684.5 L286.9,683.2 L287.1,681.9 L287.3,680.6 L287.5,679.3 L287.7,678.0 L287.9,676.7 L288.0,675.3 L288.2,674.0 L288.4,672.7 L288.5,671.4 L288.7,670.1 L288.8,668.8 L289.0,667.5 L289.1,666.2 L289.3,664.9 L289.4,663.6 L289.6,662.3 L289.7,661.0 L289.8,659.7 L289.9,658.4 L290.1,657.0 L290.2,655.7 L290.3,654.4 L290.4,653.1 L290.6,651.8 L290.7,650.5 L290.8,649.2 L290.9,647.9 L291.0,646.6 L291.1,645.2 L291.2,643.9 L291.3,642.6 L291.4,641.3 L291.5,640.0 L291.6,638.7 L291.7,637.4 L291.8,636.1 L291.9,634.7 L292.0,633.4 L292.1,632.1 L292.2,630.8 L292.3,629.5 L292.3,628.2 L292.4,626.9 L292.5,625.6 L292.6,624.2 L292.7,622.9 L292.8,621.6 L292.9,620.3 L292.9,619.0 L293.0,617.7 L293.1,616.4 L293.2,615.1 L293.3,613.7 L293.4,612.4 L293.5,611.1 L293.5,609.8 L293.6,608.5 L293.7,607.2 L293.8,605.9 L293.9,604.6 L294.0,603.2 L294.1,601.9 L294.1,600.6 L294.2,599.3 L294.3,598.0 L294.4,596.7 L294.4,595.4 L294.5,594.0 L294.6,592.7 L294.7,591.4 L294.7,590.1 L294.8,588.8 L294.9,587.5 L294.9,586.2 L295.0,584.9 L295.1,583.5 L295.1,582.2 L295.2,580.9 L295.3,579.6 L295.3,578.3 L295.4,577.0 L295.4,575.7 L295.5,574.3 L295.6,573.0 L295.6,571.7 L295.7,570.4 L295.7,569.1 L295.8,567.8 L295.9,566.5 L295.9,565.1 L296.0,563.8 L296.1,562.5 L296.1,561.2 L296.2,559.9 L296.3,558.6 L296.3,557.3 L296.4,555.9 L296.5,554.6 L296.5,553.3 L296.6,552.0" fill="none" stroke="#000000" stroke-width="2.4" stroke-linejoin="round" stroke-linecap="round" />
<path d="M58.1,746.0 L59.3,746.0 L60.5,746.0 L61.7,746.0 L62.9,745.9 L64.1,745.9 L65.3,745.9 L66.5,745.9 L67.7,745.9 L68.9,745.9 L70.1,745.9 L71.3,745.8 L72.5,745.8 L73.7,745.8 L74.9,745.8 L76.1,745.8 L77.3,745.8 L78.5,745.7 L79.7,745.7 L80.9,745.7 L82.0,745.7 L83.2,745.7 L84.4,745.6 L85.6,745.6 L86.8,745.6 L88.0,745.6 L89.2,745.6 L90.4,745.5 L91.6,745.5 L92.8,745.5 L94.0,745.5 L95.2,745.5 L96.4,745.4 L97.6,745.4 L98.8,745.4 L100.0,745.4 L101.2,745.3 L102.4,745.3 L103.6,745.3 L104.8,745.3 L106.0,745.3 L107.2,745.2 L108.4,745.2 L109.6,745.2 L110.8,745.2 L112.0,745.1 L113.2,745.1 L114.4,745.1 L115.6,745.1 L116.8,745.1 L118.0,745.1 L119.2,745.0 L120.4,745.0 L121.6,745.0 L122.8,745.0 L124.0,745.0 L125.2,744.9 L126.4,744.9 L127.6,744.9 L128.8,744.8 L130.0,744.8 L131.2,744.8 L132.4,744.7 L133.6,744.7 L134.7,744.7 L135.9,744.6 L137.1,744.6 L138.3,744.5 L139.5,744.4 L140.7,744.3 L141.9,744.2 L143.2,744.0 L144.3,743.7 L145.5,743.5 L146.6,743.2 L147.7,742.8 L148.8,742.3 L149.8,741.6 L150.8,740.8 L151.7,740.0 L152.4,739.2 L153.1,738.2 L153.8,737.2 L154.4,736.1 L154.9,735.0 L155.4,733.9 L155.9,732.8 L156.2,731.7 L156.6,730.6 L156.9,729.4 L157.3,728.2 L157.6,727.1 L158.0,725.9 L158.4,724.8 L158.8,723.7 L159.2,722.5 L159.6,721.4 L160.1,720.2 L160.6,719.2 L161.1,718.1 L161.7,717.1 L162.5,716.1 L163.3,715.1 L164.2,714.4 L165.1,713.8 L166.2,713.4 L167.4,713.1 L168.6,712.8 L169.8,712.6 L171.0,712.5 L172.2,712.4 L173.4,712.4 L174.6,712.3 L175.8,712.3 L177.0,712.2 L178.2,712.2 L179.4,712.2 L180.6,712.2 L181.8,712.2 L183.0,712.2" fill="none" stroke="#0000ff" stroke-width="2.4" stroke-linejoin="round" stroke-linecap="round" />
<path d="M180.0,713.2 L181.8,713.2 L183.6,713.2 L185.4,713.2 L187.2,713.2 L189.0,713.3 L190.8,713.3 L192.5,713.3 L194.3,713.3 L196.1,713.3 L197.8,713.3 L199.6,713.3 L201.3,713.3 L203.1,713.3 L204.8,713.3 L206.6,713.3 L208.3,713.3 L210.0,713.3 L211.7,713.3 L213.4,713.4 L215.2,713.4 L216.9,713.4 L218.6,713.4 L220.3,713.4 L222.0,713.4 L223.6,713.4 L225.3,713.4 L227.0,713.4 L228.7,713.4 L230.4,713.4 L232.0,713.4 L233.7,713.4 L235.4,713.4 L237.0,713.4 L238.7,713.4 L240.3,713.4 L242.0,713.4 L243.6,713.4 L245.3,713.4 L246.9,713.4 L248.5,713.4 L250.2,713.4 L251.8,713.4 L253.4,713.4 L255.1,713.4 L256.7,713.4 L258.3,713.4 L259.9,713.4 L261.6,713.4 L263.2,713.4 L264.8,713.4 L266.4,713.4 L268.1,713.1 L269.8,712.3 L271.1,711.5 L272.1,710.4 L273.0,709.0 L273.8,707.3 L274.5,705.6 L275.0,704.0 L275.5,702.4 L275.8,700.7 L276.2,699.1 L276.5,697.4 L276.8,695.7 L277.1,694.0 L277.3,692.3 L277.6,690.7 L277.8,689.0 L278.0,687.3 L278.2,685.6 L278.4,683.9 L278.6,682.3 L278.8,680.6 L279.0,678.9 L279.1,677.2 L279.3,675.5 L279.4,673.8 L279.6,672.1 L279.7,670.4 L279.9,668.7 L280.0,667.1 L280.1,665.4 L280.3,663.7 L280.4,662.0 L280.5,660.3 L280.6,658.6 L280.8,656.9 L280.9,655.2 L281.0,653.5 L281.1,651.8 L281.2,650.2 L281.3,648.5 L281.4,646.8 L281.5,645.1 L281.6,643.4 L281.7,641.7 L281.8,640.0 L281.9,638.3 L282.0,636.6 L282.1,634.9 L282.2,633.2 L282.3,631.6 L282.4,629.9 L282.4,628.2 L282.5,626.5 L282.6,624.8 L282.7,623.1 L282.8,621.4 L282.9,619.7 L283.0,618.0 L283.0,616.3 L283.1,614.6 L283.2,612.9 L283.3,611.2 L283.3,609.6 L283.4,607.9 L283.5,606.2 L283.6,604.5 L283.6,602.8 L283.7,601.1 L283.8,599.4 L283.8,597.7 L283.9,596.0 L284.0,594.3 L284.0,592.6 L284.1,590.9 L284.1,589.2 L284.2,587.5 L284.3,585.9 L284.3,584.2 L284.4,582.5 L284.5,580.8 L284.6,579.1 L284.6,577.4 L284.7,575.7 L284.8,574.0 L284.8,572.3 L284.9,570.6 L285.0,568.9 L285.0,567.2 L285.1,565.5 L285.2,563.9 L285.2,562.2 L285.3,560.5 L285.4,558.8 L285.4,557.1 L285.5,555.4 L285.5,553.7 L285.6,552.0" fill="none" stroke="#0000ff" stroke-width="2.4" stroke-linejoin="round" stroke-linecap="round" />
<path d="M58.1,739.3 L59.2,738.7 L60.3,738.1 L61.4,737.6 L62.5,737.0 L63.7,736.4 L64.8,735.9 L65.9,735.4 L67.1,734.9 L68.2,734.3 L69.3,733.8 L70.5,733.4 L71.6,732.9 L72.8,732.4 L74.0,732.0 L75.1,731.6 L76.3,731.1 L77.5,730.7 L78.7,730.3 L79.9,729.9 L81.0,729.6 L82.2,729.2 L83.4,728.8 L84.6,728.4 L85.8,728.0 L87.0,727.5 L88.1,727.1 L89.3,726.7 L90.5,726.2 L91.6,725.8 L92.8,725.4 L94.0,724.9 L95.1,724.5 L96.3,724.0 L97.5,723.6 L98.6,723.1 L99.8,722.6 L100.9,722.1 L102.1,721.6 L103.2,721.0 L104.3,720.5 L105.5,720.0 L106.6,719.5 L107.8,719.1 L109.0,718.7 L110.1,718.3 L111.3,718.0 L112.5,717.7 L113.8,717.4 L115.0,717.1 L116.2,716.8 L117.4,716.5 L118.7,716.3 L119.9,716.1 L121.1,715.9 L122.3,715.6 L123.6,715.4 L124.8,715.2 L126.0,715.1 L127.3,714.9 L128.5,714.7 L129.8,714.6 L131.0,714.4 L132.2,714.3 L133.5,714.2 L134.7,714.1 L136.0,714.0 L137.2,713.9 L138.5,713.8 L139.7,713.8 L141.0,713.7 L142.2,713.6 L143.4,713.5 L144.7,713.4 L145.9,713.4 L147.2,713.3 L148.4,713.3 L149.7,713.2 L150.9,713.2 L152.2,713.1 L153.4,713.1 L154.7,713.1 L155.9,713.0 L157.2,713.0 L158.4,712.9 L159.7,712.9 L160.9,712.9 L162.2,712.9 L163.4,712.8 L164.7,712.8 L165.9,712.8 L167.2,712.8 L168.4,712.8 L169.7,712.8 L170.9,712.8 L172.2,712.8 L173.4,712.8 L174.6,712.8 L175.9,712.8 L177.1,712.8 L178.4,712.8 L179.6,712.8 L180.9,712.9 L182.1,712.9 L183.4,712.9 L184.6,712.9 L185.9,712.9 L187.1,712.9 L188.4,712.9 L189.6,712.9 L190.9,712.9 L192.1,712.9 L193.4,713.0 L194.6,713.0 L195.9,713.0 L197.1,713.0 L198.4,713.0 L199.6,713.0 L200.9,713.0 L202.1,713.0 L203.4,713.0 L204.6,713.0 L205.9,713.0 L207.2,713.0 L208.5,713.0 L209.7,713.1 L211.0,713.1 L212.3,713.1 L213.6,713.1 L214.9,713.1 L216.1,713.1 L217.4,713.1 L218.7,713.1 L220.0,713.1 L221.3,713.1 L222.6,713.1 L223.9,713.1 L225.2,713.2 L226.5,713.2 L227.7,713.2 L229.0,713.2 L230.3,713.2 L231.6,713.2 L232.9,713.2 L234.1,713.2 L235.4,713.2 L236.7,713.2 L238.0,713.2 L239.2,713.2 L240.5,713.2 L241.7,713.2 L243.0,713.3 L244.2,713.3 L245.5,713.3 L246.7,713.3 L247.9,713.3 L249.1,713.3 L250.3,713.3 L251.6,713.3 L252.8,713.3 L253.9,713.3 L255.1,713.3 L256.3,713.3 L257.5,713.3 L258.6,713.3 L259.8,713.3 L260.9,713.3 L262.0,713.3 L263.2,713.1 L264.4,712.5 L265.5,711.6 L266.3,710.8 L267.0,709.9 L267.5,708.8 L268.1,707.7 L268.5,706.4 L268.9,705.2 L269.3,703.9 L269.6,702.7 L269.8,701.5 L270.1,700.3 L270.3,699.1 L270.5,697.8 L270.7,696.6 L270.9,695.4 L271.1,694.1 L271.3,692.9 L271.4,691.6 L271.6,690.4 L271.7,689.1 L271.8,687.9 L272.0,686.6 L272.1,685.4 L272.2,684.1 L272.3,682.9 L272.4,681.7 L272.5,680.4 L272.6,679.2 L272.7,677.9 L272.8,676.7 L272.9,675.4 L273.0,674.2 L273.0,672.9 L273.1,671.7 L273.2,670.4 L273.3,669.2 L273.3,668.0 L273.4,666.7 L273.5,665.5 L273.6,664.2 L273.6,663.0 L273.7,661.7 L273.8,660.5 L273.9,659.2 L274.0,658.0 L274.0,656.7 L274.1,655.5 L274.2,654.2 L274.3,653.0 L274.4,651.8 L274.5,650.5 L274.5,649.3 L274.6,648.0 L274.7,646.8 L274.8,645.5 L274.9,644.3 L274.9,643.0 L275.0,641.8 L275.1,640.5 L275.2,639.3 L275.2,638.0 L275.3,636.8 L275.4,635.6 L275.5,634.3 L275.5,633.1 L275.6,631.8 L275.7,630.6 L275.7,629.3 L275.8,628.1 L275.9,626.8 L275.9,625.6 L276.0,624.3 L276.0,623.1 L276.1,621.8 L276.2,620.6 L276.2,619.3 L276.3,618.1 L276.3,616.9 L276.4,615.6 L276.5,614.4 L276.5,613.1 L276.6,611.9 L276.6,610.6 L276.7,609.4 L276.7,608.1 L276.8,606.9 L276.9,605.6 L276.9,604.4 L277.0,603.1 L277.0,601.9 L277.1,600.6 L277.1,599.4 L277.2,598.1 L277.2,596.9 L277.3,595.7 L277.3,594.4 L277.4,593.2 L277.4,591.9 L277.5,590.7 L277.5,589.4 L277.6,588.2 L277.6,586.9 L277.7,585.7 L277.7,584.4 L277.8,583.2 L277.8,581.9 L277.9,580.7 L277.9,579.4 L278.0,578.2 L278.0,576.9 L278.1,575.7 L278.1,574.4 L278.2,573.2 L278.2,572.0 L278.3,570.7 L278.4,569.5 L278.4,568.2 L278.5,567.0 L278.5,565.7 L278.6,564.5 L278.7,563.2 L278.7,562.0 L278.8,560.7 L278.8,559.5 L278.9,558.2 L278.9,557.0 L279.0,555.7 L279.0,554.5 L279.1,553.2 L279.1,552.0" fill="none" stroke="#007f00" stroke-width="2.4" stroke-linejoin="round" stroke-linecap="round" />
<path d="M58.1,748.5 L59.4,748.5 L60.7,748.6 L61.9,748.6 L63.2,748.6 L64.5,748.6 L65.8,748.7 L67.1,748.7 L68.4,748.7 L69.6,748.7 L70.9,748.7 L72.2,748.7 L73.5,748.8 L74.8,748.8 L76.1,748.8 L77.3,748.8 L78.6,748.8 L79.9,748.8 L81.2,748.8 L82.5,748.8 L83.8,748.9 L85.0,748.9 L86.3,748.9 L87.6,748.9 L88.9,748.9 L90.2,748.9 L91.4,748.9 L92.7,748.9 L94.0,748.9 L95.3,748.9 L96.6,748.9 L97.9,748.9 L99.1,748.9 L100.4,748.9 L101.7,748.9 L103.0,748.9 L104.3,748.9 L105.6,748.9 L106.8,748.9 L108.1,748.9 L109.4,748.9 L110.7,748.9 L112.0,748.9 L113.2,748.9 L114.5,748.8 L115.8,748.8 L117.1,748.8 L118.4,748.8 L119.7,748.7 L120.9,748.7 L122.2,748.6 L123.5,748.6 L124.8,748.5 L126.1,748.5 L127.3,748.4 L128.6,748.4 L129.9,748.3 L131.2,748.2 L132.5,748.2 L133.8,748.1 L135.0,748.1 L136.3,748.0 L137.6,747.9 L138.9,747.9 L140.2,747.8 L141.5,747.8 L142.8,747.7 L144.1,747.6 L145.4,747.6 L146.7,747.5 L148.0,747.4 L149.2,747.2 L150.4,747.1 L151.6,746.6 L152.8,745.9 L153.8,745.1 L154.7,744.3 L155.4,743.3 L156.0,742.2 L156.6,741.0 L157.1,739.7 L157.5,738.5 L158.0,737.3 L158.3,736.1 L158.7,734.8 L159.0,733.6 L159.4,732.4 L159.7,731.1 L160.0,729.9 L160.4,728.6 L160.7,727.4 L161.0,726.1 L161.3,724.9 L161.7,723.7 L162.0,722.4 L162.4,721.1 L162.8,719.9 L163.3,718.7 L163.9,717.6 L164.5,716.6 L165.4,715.6 L166.5,714.7 L167.6,714.1 L168.7,713.8 L169.9,713.5 L171.2,713.2 L172.5,713.1 L173.8,712.9 L175.1,712.9 L176.4,712.9 L177.7,712.9 L179.0,712.9 L180.3,712.9 L181.5,712.9 L182.8,712.9 L184.1,712.9 L185.4,712.9 L186.7,712.9 L188.0,712.9 L189.2,712.9 L190.5,712.9 L191.8,712.9 L193.1,712.9 L194.4,712.9 L195.7,712.9 L196.9,712.9 L198.2,712.9 L199.5,712.9 L200.8,712.9 L202.1,712.9 L203.4,712.9 L204.7,712.9 L205.9,712.9 L207.2,712.9 L208.5,712.9 L209.8,712.9 L211.1,712.9 L212.4,713.0 L213.7,713.0 L215.0,713.0 L216.3,713.0 L217.6,713.0 L218.9,713.0 L220.2,713.0 L221.5,713.0 L222.8,713.1 L224.1,713.1 L225.4,713.1 L226.7,713.1 L228.0,713.1 L229.3,713.1 L230.6,713.1 L231.9,713.2 L233.2,713.2 L234.4,713.2 L235.7,713.2 L237.0,713.2 L238.3,713.2 L239.6,713.2 L240.8,713.2 L242.1,713.3 L243.4,713.3 L244.6,713.3 L245.9,713.3 L247.1,713.3 L248.4,713.3 L249.6,713.3 L250.9,713.3 L252.1,713.3 L253.4,713.3 L254.7,713.0 L256.0,712.6 L257.3,712.1 L258.5,711.5 L259.4,710.9 L260.2,710.1 L260.9,709.2 L261.5,708.1 L262.1,706.8 L262.7,705.5 L263.1,704.2 L263.5,702.9 L263.8,701.7 L264.1,700.5 L264.4,699.3 L264.6,698.0 L264.9,696.7 L265.1,695.5 L265.3,694.2 L265.5,692.9 L265.7,691.6 L265.8,690.3 L266.0,689.1 L266.1,687.8 L266.3,686.5 L266.4,685.2 L266.6,683.9 L266.7,682.7 L266.8,681.4 L266.9,680.1 L267.0,678.8 L267.2,677.6 L267.3,676.3 L267.4,675.0 L267.5,673.7 L267.6,672.5 L267.7,671.2 L267.8,669.9 L267.9,668.6 L268.0,667.3 L268.0,666.1 L268.1,664.8 L268.2,663.5 L268.3,662.2 L268.4,660.9 L268.5,659.6 L268.5,658.4 L268.6,657.1 L268.7,655.8 L268.8,654.5 L268.8,653.2 L268.9,652.0 L269.0,650.7 L269.1,649.4 L269.1,648.1 L269.2,646.8 L269.3,645.6 L269.3,644.3 L269.4,643.0 L269.5,641.7 L269.5,640.4 L269.6,639.2 L269.6,637.9 L269.7,636.6 L269.7,635.3 L269.8,634.0 L269.9,632.8 L269.9,631.5 L270.0,630.2 L270.0,628.9 L270.1,627.6 L270.1,626.3 L270.2,625.1 L270.2,623.8 L270.3,622.5 L270.3,621.2 L270.4,619.9 L270.4,618.7 L270.5,617.4 L270.5,616.1 L270.5,614.8 L270.6,613.5 L270.6,612.2 L270.7,611.0 L270.7,609.7 L270.8,608.4 L270.8,607.1 L270.9,605.8 L270.9,604.6 L270.9,603.3 L271.0,602.0 L271.0,600.7 L271.1,599.4 L271.1,598.1 L271.2,596.9 L271.2,595.6 L271.3,594.3 L271.3,593.0 L271.3,591.7 L271.4,590.5 L271.4,589.2 L271.5,587.9 L271.5,586.6 L271.6,585.3 L271.6,584.0 L271.6,582.8 L271.7,581.5 L271.7,580.2 L271.8,578.9 L271.8,577.6 L271.8,576.4 L271.9,575.1 L271.9,573.8 L271.9,572.5 L272.0,571.2 L272.0,569.9 L272.0,568.7 L272.0,567.4 L272.1,566.1 L272.1,564.8 L272.1,563.5 L272.2,562.3 L272.2,561.0 L272.2,559.7 L272.3,558.4 L272.3,557.1 L272.4,555.8 L272.4,554.6 L272.5,553.3 L272.5,552.0" fill="none" stroke="#ff0000" stroke-width="2.4" stroke-linejoin="round" stroke-linecap="round" />
</g>
<line x1="56.00" y1="651.40" x2="269.00" y2="651.40" stroke="#000" stroke-width="1.5" stroke-dasharray="1.6 1.6"/>
<line x1="269.00" y1="651.40" x2="269.00" y2="762.00" stroke="#000" stroke-width="1.5" stroke-dasharray="1.6 1.6"/>
<line x1="56.00" y1="731.20" x2="160.00" y2="731.20" stroke="#000" stroke-width="1.5" stroke-dasharray="1.6 1.6"/>
<line x1="161.50" y1="731.20" x2="161.50" y2="762.00" stroke="#000" stroke-width="1.5" stroke-dasharray="1.6 1.6"/>
<line x1="165.00" y1="730.90" x2="265.00" y2="730.90" stroke="#000" stroke-width="1.2" />
<path d="M162.5,730.9 L169,728.6 L169,733.2 Z" fill="#000"/>
<path d="M268,730.9 L261.5,728.6 L261.5,733.2 Z" fill="#000"/>
<rect x="56.00" y="557.60" width="254.70" height="204.40" fill="none" stroke="#000" stroke-width="1.5" />
<line x1="74.00" y1="762.00" x2="74.00" y2="757.80" stroke="#000" stroke-width="1.5" />
<line x1="110.36" y1="762.00" x2="110.36" y2="757.80" stroke="#000" stroke-width="1.5" />
<line x1="146.72" y1="762.00" x2="146.72" y2="757.80" stroke="#000" stroke-width="1.5" />
<line x1="183.08" y1="762.00" x2="183.08" y2="757.80" stroke="#000" stroke-width="1.5" />
<line x1="219.44" y1="762.00" x2="219.44" y2="757.80" stroke="#000" stroke-width="1.5" />
<line x1="255.80" y1="762.00" x2="255.80" y2="757.80" stroke="#000" stroke-width="1.5" />
<line x1="292.16" y1="762.00" x2="292.16" y2="757.80" stroke="#000" stroke-width="1.5" />
<line x1="92.18" y1="762.00" x2="92.18" y2="759.70" stroke="#000" stroke-width="1.5" />
<line x1="128.54" y1="762.00" x2="128.54" y2="759.70" stroke="#000" stroke-width="1.5" />
<line x1="164.90" y1="762.00" x2="164.90" y2="759.70" stroke="#000" stroke-width="1.5" />
<line x1="201.26" y1="762.00" x2="201.26" y2="759.70" stroke="#000" stroke-width="1.5" />
<line x1="237.62" y1="762.00" x2="237.62" y2="759.70" stroke="#000" stroke-width="1.5" />
<line x1="273.98" y1="762.00" x2="273.98" y2="759.70" stroke="#000" stroke-width="1.5" />
<line x1="310.34" y1="762.00" x2="310.34" y2="759.70" stroke="#000" stroke-width="1.5" />
<line x1="56.00" y1="743.80" x2="60.20" y2="743.80" stroke="#000" stroke-width="1.5" />
<line x1="56.00" y1="712.80" x2="60.20" y2="712.80" stroke="#000" stroke-width="1.5" />
<line x1="56.00" y1="681.80" x2="60.20" y2="681.80" stroke="#000" stroke-width="1.5" />
<line x1="56.00" y1="650.80" x2="60.20" y2="650.80" stroke="#000" stroke-width="1.5" />
<line x1="56.00" y1="619.80" x2="60.20" y2="619.80" stroke="#000" stroke-width="1.5" />
<line x1="56.00" y1="588.80" x2="60.20" y2="588.80" stroke="#000" stroke-width="1.5" />
<line x1="56.00" y1="759.30" x2="58.30" y2="759.30" stroke="#000" stroke-width="1.5" />
<line x1="56.00" y1="728.30" x2="58.30" y2="728.30" stroke="#000" stroke-width="1.5" />
<line x1="56.00" y1="697.30" x2="58.30" y2="697.30" stroke="#000" stroke-width="1.5" />
<line x1="56.00" y1="666.30" x2="58.30" y2="666.30" stroke="#000" stroke-width="1.5" />
<line x1="56.00" y1="635.30" x2="58.30" y2="635.30" stroke="#000" stroke-width="1.5" />
<line x1="56.00" y1="604.30" x2="58.30" y2="604.30" stroke="#000" stroke-width="1.5" />
<line x1="56.00" y1="573.30" x2="58.30" y2="573.30" stroke="#000" stroke-width="1.5" />
<text x="74.00" y="776.50" font-size="13.3" text-anchor="middle" font-weight="normal" fill="#111" >0.4</text>
<text x="110.36" y="776.50" font-size="13.3" text-anchor="middle" font-weight="normal" fill="#111" >0.6</text>
<text x="146.72" y="776.50" font-size="13.3" text-anchor="middle" font-weight="normal" fill="#111" >0.8</text>
<text x="183.08" y="776.50" font-size="13.3" text-anchor="middle" font-weight="normal" fill="#111" >1.0</text>
<text x="219.44" y="776.50" font-size="13.3" text-anchor="middle" font-weight="normal" fill="#111" >1.2</text>
<text x="255.80" y="776.50" font-size="13.3" text-anchor="middle" font-weight="normal" fill="#111" >1.4</text>
<text x="292.16" y="776.50" font-size="13.3" text-anchor="middle" font-weight="normal" fill="#111" >1.6</text>
<text x="50.30" y="748.50" font-size="13.3" text-anchor="end" font-weight="normal" fill="#111" >-5</text>
<text x="50.30" y="717.50" font-size="13.3" text-anchor="end" font-weight="normal" fill="#111" >0</text>
<text x="50.30" y="686.50" font-size="13.3" text-anchor="end" font-weight="normal" fill="#111" >5</text>
<text x="50.30" y="655.50" font-size="13.3" text-anchor="end" font-weight="normal" fill="#111" >10</text>
<text x="50.30" y="624.50" font-size="13.3" text-anchor="end" font-weight="normal" fill="#111" >15</text>
<text x="50.30" y="593.50" font-size="13.3" text-anchor="end" font-weight="normal" fill="#111" >20</text>
<text x="50.30" y="562.50" font-size="13.3" text-anchor="end" font-weight="normal" fill="#111" >25</text>
<text x="181.60" y="797.10" font-size="17.4" text-anchor="middle" font-weight="normal" fill="#111" >Potential (V vs.RHE)</text>
<text x="30.80" y="660.40" font-size="17.4" text-anchor="middle" font-weight="normal" fill="#111" transform="rotate(-90 30.80 660.40)" >J (mA cm<tspan baseline-shift="64%" font-size="66%">-2</tspan>)</text>
<text x="19.50" y="562.50" font-size="25" text-anchor="start" font-weight="bold" fill="#000" >g</text>
<line x1="68.40" y1="575.30" x2="82.00" y2="575.30" stroke="#000000" stroke-width="2.8" stroke-linecap="round"/>
<text x="90.40" y="579.50" font-size="13.6" text-anchor="start" font-weight="normal" fill="#111" >Pt/C+IrO<tspan baseline-shift="-33%" font-size="70%">2</tspan></text>
<line x1="68.40" y1="595.00" x2="82.00" y2="595.00" stroke="#0000ff" stroke-width="2.4" stroke-linecap="round"/>
<text x="90.40" y="599.20" font-size="13.6" text-anchor="start" font-weight="normal" fill="#111" >MnRuO<tspan baseline-shift="-33%" font-size="70%">2</tspan></text>
<line x1="68.40" y1="614.40" x2="82.00" y2="614.40" stroke="#007f00" stroke-width="2.4" stroke-linecap="round"/>
<text x="90.40" y="618.60" font-size="13.6" text-anchor="start" font-weight="normal" fill="#111" >GaRuO<tspan baseline-shift="-33%" font-size="70%">2</tspan></text>
<line x1="68.40" y1="634.10" x2="82.00" y2="634.10" stroke="#ff0000" stroke-width="2.4" stroke-linecap="round"/>
<text x="90.40" y="638.30" font-size="13.6" text-anchor="start" font-weight="normal" fill="#111" >Ga/MnRuO<tspan baseline-shift="-33%" font-size="70%">2</tspan></text>
<text x="234.50" y="645.40" font-size="17.3" text-anchor="start" font-weight="normal" fill="#111" >j<tspan baseline-shift="-33%" font-size="70%">10</tspan></text>
<text x="62.80" y="722.30" font-size="17.3" text-anchor="start" font-weight="normal" fill="#111" >j<tspan baseline-shift="-33%" font-size="70%">1/2</tspan></text>
<text x="170.30" y="747.40" font-size="17" text-anchor="start" font-weight="normal" fill="#111" >ΔE=0.605 V</text>
<defs><radialGradient id="ggreen" cx="0.5" cy="0.5" r="0.5" fx="0.42" fy="0.4"><stop offset="0" stop-color="#ffffff"/><stop offset="0.16" stop-color="#f2faf2"/><stop offset="0.48" stop-color="#a6d0a6"/><stop offset="0.82" stop-color="#7aa87c"/><stop offset="1" stop-color="#55805a"/></radialGradient><radialGradient id="gblue" cx="0.5" cy="0.5" r="0.5" fx="0.38" fy="0.33"><stop offset="0" stop-color="#ffffff"/><stop offset="0.1" stop-color="#c8f0ff"/><stop offset="0.36" stop-color="#1fa8f2"/><stop offset="0.72" stop-color="#0a88d6"/><stop offset="1" stop-color="#005ea6"/></radialGradient><radialGradient id="gpink" cx="0.5" cy="0.5" r="0.5" fx="0.38" fy="0.34"><stop offset="0" stop-color="#ffffff"/><stop offset="0.16" stop-color="#fdeefd"/><stop offset="0.5" stop-color="#e38ce3"/><stop offset="0.8" stop-color="#c969ca"/><stop offset="1" stop-color="#9c4ca4"/></radialGradient><radialGradient id="gpurple" cx="0.5" cy="0.5" r="0.5" fx="0.38" fy="0.33"><stop offset="0" stop-color="#ffffff"/><stop offset="0.1" stop-color="#e4c8ff"/><stop offset="0.4" stop-color="#7a18ea"/><stop offset="0.75" stop-color="#5a08c2"/><stop offset="1" stop-color="#360084"/></radialGradient><radialGradient id="gred" cx="0.5" cy="0.5" r="0.5" fx="0.38" fy="0.33"><stop offset="0" stop-color="#ffffff"/><stop offset="0.1" stop-color="#ffc4c4"/><stop offset="0.4" stop-color="#f21a1a"/><stop offset="0.75" stop-color="#d00a0a"/><stop offset="1" stop-color="#860000"/></radialGradient></defs>
<line x1="479.15" y1="674.28" x2="493.65" y2="779.27" stroke="#e3e3e3" stroke-width="0.8" />
<line x1="559.74" y1="667.92" x2="602.36" y2="766.63" stroke="#e3e3e3" stroke-width="0.8" />
<line x1="635.91" y1="661.92" x2="703.06" y2="754.93" stroke="#e3e3e3" stroke-width="0.8" />
<line x1="708.02" y1="656.23" x2="796.61" y2="744.06" stroke="#e3e3e3" stroke-width="0.8" />
<line x1="776.37" y1="650.84" x2="883.74" y2="733.94" stroke="#e3e3e3" stroke-width="0.8" />
<line x1="423.62" y1="693.00" x2="838.90" y2="658.20" stroke="#e3e3e3" stroke-width="0.8" />
<line x1="422.69" y1="710.25" x2="858.23" y2="671.18" stroke="#e3e3e3" stroke-width="0.8" />
<line x1="421.65" y1="729.57" x2="879.54" y2="685.48" stroke="#e3e3e3" stroke-width="0.8" />
<line x1="420.47" y1="751.38" x2="903.14" y2="701.32" stroke="#e3e3e3" stroke-width="0.8" />
<line x1="419.14" y1="776.20" x2="929.41" y2="718.95" stroke="#e3e3e3" stroke-width="0.8" />
<line x1="479.99" y1="674.22" x2="472.66" y2="547.27" stroke="#e3e3e3" stroke-width="0.8" />
<line x1="561.33" y1="667.80" x2="558.81" y2="544.74" stroke="#e3e3e3" stroke-width="0.8" />
<line x1="637.67" y1="661.78" x2="639.38" y2="542.38" stroke="#e3e3e3" stroke-width="0.8" />
<line x1="709.46" y1="656.12" x2="714.89" y2="540.17" stroke="#e3e3e3" stroke-width="0.8" />
<line x1="777.09" y1="650.78" x2="785.81" y2="538.09" stroke="#e3e3e3" stroke-width="0.8" />
<line x1="422.34" y1="653.86" x2="824.58" y2="625.95" stroke="#e3e3e3" stroke-width="0.8" />
<line x1="420.23" y1="628.54" x2="826.69" y2="604.29" stroke="#e3e3e3" stroke-width="0.8" />
<line x1="418.07" y1="602.64" x2="828.85" y2="582.20" stroke="#e3e3e3" stroke-width="0.8" />
<line x1="415.86" y1="576.14" x2="831.05" y2="559.67" stroke="#e3e3e3" stroke-width="0.8" />
<line x1="838.84" y1="658.17" x2="850.96" y2="543.18" stroke="#e3e3e3" stroke-width="0.8" />
<line x1="858.14" y1="671.12" x2="871.90" y2="550.87" stroke="#e3e3e3" stroke-width="0.8" />
<line x1="879.43" y1="685.41" x2="895.12" y2="559.39" stroke="#e3e3e3" stroke-width="0.8" />
<line x1="903.04" y1="701.25" x2="921.03" y2="568.90" stroke="#e3e3e3" stroke-width="0.8" />
<line x1="929.36" y1="718.92" x2="950.11" y2="579.57" stroke="#e3e3e3" stroke-width="0.8" />
<line x1="824.58" y1="625.92" x2="945.90" y2="700.07" stroke="#e3e3e3" stroke-width="0.8" />
<line x1="826.70" y1="604.24" x2="950.21" y2="672.28" stroke="#e3e3e3" stroke-width="0.8" />
<line x1="828.86" y1="582.15" x2="954.63" y2="643.78" stroke="#e3e3e3" stroke-width="0.8" />
<line x1="831.06" y1="559.64" x2="959.16" y2="614.57" stroke="#e3e3e3" stroke-width="0.8" />
<line x1="413.60" y1="549.00" x2="833.30" y2="536.70" stroke="#a0a0a0" stroke-width="0.9" stroke-dasharray="4 1"/>
<line x1="424.40" y1="678.60" x2="822.50" y2="647.20" stroke="#909090" stroke-width="0.9" stroke-dasharray="3 1"/>
<line x1="822.50" y1="647.20" x2="833.30" y2="536.70" stroke="#909090" stroke-width="0.9" stroke-dasharray="3 1"/>
<line x1="833.30" y1="536.70" x2="963.80" y2="584.60" stroke="#b2b2b2" stroke-width="1.0" />
<line x1="963.80" y1="584.60" x2="941.70" y2="727.20" stroke="#b2b2b2" stroke-width="1.0" />
<line x1="822.50" y1="647.20" x2="941.70" y2="727.20" stroke="#b2b2b2" stroke-width="1.0" />
<ellipse cx="609.20" cy="722.70" rx="3.40" ry="1.35" fill="#97d897" transform="rotate(-4 609.2 722.7)"/>
<ellipse cx="623.00" cy="719.10" rx="3.40" ry="1.35" fill="#97d897" transform="rotate(-4 623.0 719.1)"/>
<ellipse cx="626.50" cy="713.50" rx="3.40" ry="1.35" fill="#97d897" transform="rotate(-4 626.5 713.5)"/>
<ellipse cx="632.70" cy="721.80" rx="3.40" ry="1.35" fill="#97d897" transform="rotate(-4 632.7 721.8)"/>
<ellipse cx="629.10" cy="736.30" rx="3.40" ry="1.35" fill="#97d897" transform="rotate(-4 629.1 736.3)"/>
<ellipse cx="647.70" cy="729.20" rx="3.40" ry="1.35" fill="#97d897" transform="rotate(-4 647.7 729.2)"/>
<ellipse cx="656.50" cy="728.50" rx="3.40" ry="1.35" fill="#97d897" transform="rotate(-4 656.5 728.5)"/>
<ellipse cx="670.30" cy="728.50" rx="3.40" ry="1.35" fill="#97d897" transform="rotate(-4 670.3 728.5)"/>
<ellipse cx="666.20" cy="744.20" rx="3.40" ry="1.35" fill="#97d897" transform="rotate(-4 666.2 744.2)"/>
<ellipse cx="680.00" cy="716.00" rx="3.40" ry="1.35" fill="#97d897" transform="rotate(-4 680.0 716.0)"/>
<ellipse cx="687.40" cy="699.20" rx="3.40" ry="1.35" fill="#97d897" transform="rotate(-4 687.4 699.2)"/>
<ellipse cx="660.10" cy="713.00" rx="3.40" ry="1.35" fill="#97d897" transform="rotate(-4 660.1 713.0)"/>
<ellipse cx="703.30" cy="736.30" rx="3.40" ry="1.35" fill="#97d897" transform="rotate(-4 703.3 736.3)"/>
<ellipse cx="728.40" cy="732.00" rx="3.40" ry="1.35" fill="#97d897" transform="rotate(-4 728.4 732.0)"/>
<ellipse cx="740.80" cy="722.30" rx="3.40" ry="1.35" fill="#97d897" transform="rotate(-4 740.8 722.3)"/>
<ellipse cx="729.80" cy="726.20" rx="3.40" ry="1.35" fill="#97d897" transform="rotate(-4 729.8 726.2)"/>
<ellipse cx="774.00" cy="709.10" rx="3.40" ry="1.35" fill="#97d897" transform="rotate(-4 774.0 709.1)"/>
<ellipse cx="739.60" cy="700.60" rx="3.40" ry="1.35" fill="#97d897" transform="rotate(-4 739.6 700.6)"/>
<ellipse cx="721.00" cy="717.90" rx="3.40" ry="1.35" fill="#97d897" transform="rotate(-4 721.0 717.9)"/>
<ellipse cx="709.50" cy="713.00" rx="3.40" ry="1.35" fill="#97d897" transform="rotate(-4 709.5 713.0)"/>
<ellipse cx="779.30" cy="703.20" rx="3.40" ry="1.35" fill="#97d897" transform="rotate(-4 779.3 703.2)"/>
<ellipse cx="603.50" cy="733.60" rx="3.40" ry="1.35" fill="#97d897" transform="rotate(-4 603.5 733.6)"/>
<ellipse cx="707.80" cy="703.20" rx="3.40" ry="1.35" fill="#97d897" transform="rotate(-4 707.8 703.2)"/>
<ellipse cx="487.10" cy="732.40" rx="3.40" ry="1.35" fill="#97d897" transform="rotate(-4 487.1 732.4)"/>
<ellipse cx="465.00" cy="748.30" rx="3.40" ry="1.35" fill="#97d897" transform="rotate(-4 465.0 748.3)"/>
<ellipse cx="504.30" cy="747.10" rx="3.40" ry="1.35" fill="#97d897" transform="rotate(-4 504.3 747.1)"/>
<ellipse cx="574.90" cy="746.90" rx="3.40" ry="1.35" fill="#97d897" transform="rotate(-4 574.9 746.9)"/>
<ellipse cx="567.50" cy="717.00" rx="3.40" ry="1.35" fill="#97d897" transform="rotate(-4 567.5 717.0)"/>
<ellipse cx="592.20" cy="717.00" rx="3.40" ry="1.35" fill="#97d897" transform="rotate(-4 592.2 717.0)"/>
<ellipse cx="497.40" cy="676.50" rx="3.40" ry="1.35" fill="#97d897" transform="rotate(-4 497.4 676.5)"/>
<ellipse cx="830.30" cy="689.70" rx="3.40" ry="1.35" fill="#97d897" transform="rotate(-4 830.3 689.7)"/>
<ellipse cx="781.80" cy="703.60" rx="3.40" ry="1.35" fill="#97d897" transform="rotate(-4 781.8 703.6)"/>
<ellipse cx="690.10" cy="709.80" rx="5.20" ry="2.10" fill="#ff7fe6" transform="rotate(-4 690.1 709.8)"/>
<ellipse cx="701.00" cy="713.80" rx="5.20" ry="2.10" fill="#ff7fe6" transform="rotate(-4 701.0 713.8)"/>
<ellipse cx="648.60" cy="716.50" rx="5.20" ry="2.10" fill="#ff7fe6" transform="rotate(-4 648.6 716.5)"/>
<ellipse cx="667.10" cy="719.10" rx="5.20" ry="2.10" fill="#ff7fe6" transform="rotate(-4 667.1 719.1)"/>
<ellipse cx="663.60" cy="721.80" rx="5.20" ry="2.10" fill="#ff7fe6" transform="rotate(-4 663.6 721.8)"/>
<ellipse cx="706.00" cy="721.40" rx="5.20" ry="2.10" fill="#ff7fe6" transform="rotate(-4 706.0 721.4)"/>
<ellipse cx="724.20" cy="726.70" rx="5.20" ry="2.10" fill="#ff7fe6" transform="rotate(-4 724.2 726.7)"/>
<ellipse cx="710.40" cy="733.80" rx="5.20" ry="2.10" fill="#ff7fe6" transform="rotate(-4 710.4 733.8)"/>
<ellipse cx="662.20" cy="737.70" rx="5.20" ry="2.10" fill="#ff7fe6" transform="rotate(-4 662.2 737.7)"/>
<ellipse cx="604.40" cy="736.50" rx="5.20" ry="2.10" fill="#ff7fe6" transform="rotate(-4 604.4 736.5)"/>
<ellipse cx="744.00" cy="704.70" rx="5.20" ry="2.10" fill="#ff7fe6" transform="rotate(-4 744.0 704.7)"/>
<ellipse cx="759.90" cy="707.70" rx="5.20" ry="2.10" fill="#ff7fe6" transform="rotate(-4 759.9 707.7)"/>
<ellipse cx="733.40" cy="716.90" rx="5.20" ry="2.10" fill="#ff7fe6" transform="rotate(-4 733.4 716.9)"/>
<ellipse cx="600.50" cy="736.80" rx="5.20" ry="2.10" fill="#ff7fe6" transform="rotate(-4 600.5 736.8)"/>
<ellipse cx="619.10" cy="712.10" rx="4.70" ry="1.90" fill="#1496ff" transform="rotate(-4 619.1 712.1)"/>
<ellipse cx="655.60" cy="707.30" rx="4.70" ry="1.90" fill="#1496ff" transform="rotate(-4 655.6 707.3)"/>
<ellipse cx="652.50" cy="706.00" rx="4.70" ry="1.90" fill="#1496ff" transform="rotate(-4 652.5 706.0)"/>
<ellipse cx="671.50" cy="711.60" rx="4.70" ry="1.90" fill="#1496ff" transform="rotate(-4 671.5 711.6)"/>
<ellipse cx="643.80" cy="719.70" rx="4.70" ry="1.90" fill="#1496ff" transform="rotate(-4 643.8 719.7)"/>
<ellipse cx="668.00" cy="724.40" rx="4.70" ry="1.90" fill="#1496ff" transform="rotate(-4 668.0 724.4)"/>
<ellipse cx="672.40" cy="723.20" rx="4.70" ry="1.90" fill="#1496ff" transform="rotate(-4 672.4 723.2)"/>
<ellipse cx="682.10" cy="726.20" rx="4.70" ry="1.90" fill="#1496ff" transform="rotate(-4 682.1 726.2)"/>
<ellipse cx="691.90" cy="720.00" rx="4.70" ry="1.90" fill="#1496ff" transform="rotate(-4 691.9 720.0)"/>
<ellipse cx="696.30" cy="722.30" rx="4.70" ry="1.90" fill="#1496ff" transform="rotate(-4 696.3 722.3)"/>
<ellipse cx="702.50" cy="727.10" rx="4.70" ry="1.90" fill="#1496ff" transform="rotate(-4 702.5 727.1)"/>
<ellipse cx="690.10" cy="734.20" rx="4.70" ry="1.90" fill="#1496ff" transform="rotate(-4 690.1 734.2)"/>
<ellipse cx="639.20" cy="735.90" rx="4.70" ry="1.90" fill="#1496ff" transform="rotate(-4 639.2 735.9)"/>
<ellipse cx="638.00" cy="727.60" rx="4.70" ry="1.90" fill="#1496ff" transform="rotate(-4 638.0 727.6)"/>
<ellipse cx="606.20" cy="741.20" rx="4.70" ry="1.90" fill="#1496ff" transform="rotate(-4 606.2 741.2)"/>
<ellipse cx="698.90" cy="697.40" rx="4.70" ry="1.90" fill="#1496ff" transform="rotate(-4 698.9 697.4)"/>
<ellipse cx="775.80" cy="699.20" rx="4.70" ry="1.90" fill="#1496ff" transform="rotate(-4 775.8 699.2)"/>
<ellipse cx="760.70" cy="722.20" rx="4.70" ry="1.90" fill="#1496ff" transform="rotate(-4 760.7 722.2)"/>
<ellipse cx="713.90" cy="714.70" rx="4.70" ry="1.90" fill="#1496ff" transform="rotate(-4 713.9 714.7)"/>
<ellipse cx="726.30" cy="709.80" rx="4.70" ry="1.90" fill="#1496ff" transform="rotate(-4 726.3 709.8)"/>
<ellipse cx="721.90" cy="708.50" rx="4.70" ry="1.90" fill="#1496ff" transform="rotate(-4 721.9 708.5)"/>
<ellipse cx="618.50" cy="689.90" rx="4.70" ry="1.90" fill="#1496ff" transform="rotate(-4 618.5 689.9)"/>
<ellipse cx="533.10" cy="731.50" rx="4.70" ry="1.90" fill="#1496ff" transform="rotate(-4 533.1 731.5)"/>
<ellipse cx="582.20" cy="690.90" rx="4.70" ry="1.90" fill="#1496ff" transform="rotate(-4 582.2 690.9)"/>
<ellipse cx="813.60" cy="694.40" rx="4.70" ry="1.90" fill="#1496ff" transform="rotate(-4 813.6 694.4)"/>
<ellipse cx="640.30" cy="725.00" rx="6.20" ry="2.70" fill="#8a10f0" transform="rotate(-4 640.3 725.0)"/>
<ellipse cx="644.70" cy="732.40" rx="6.20" ry="2.70" fill="#8a10f0" transform="rotate(-4 644.7 732.4)"/>
<ellipse cx="719.80" cy="713.00" rx="6.20" ry="2.70" fill="#8a10f0" transform="rotate(-4 719.8 713.0)"/>
<ellipse cx="583.40" cy="719.10" rx="6.20" ry="2.70" fill="#8a10f0" transform="rotate(-4 583.4 719.1)"/>
<ellipse cx="759.30" cy="712.60" rx="6.40" ry="2.70" fill="#ff0000" transform="rotate(-4 759.3 712.6)"/>
<ellipse cx="728.10" cy="713.30" rx="4.20" ry="1.80" fill="#ff0000" transform="rotate(-4 728.1 713.3)"/>
<circle cx="496.30" cy="652.10" r="3.35" fill="url(#ggreen)" stroke="none" stroke-width="0" />
<circle cx="727.70" cy="612.50" r="5.25" fill="url(#gpink)" stroke="none" stroke-width="0" />
<circle cx="619.40" cy="639.20" r="4.65" fill="url(#gblue)" stroke="none" stroke-width="0" />
<circle cx="832.60" cy="665.20" r="3.40" fill="url(#ggreen)" stroke="none" stroke-width="0" />
<circle cx="581.60" cy="641.00" r="4.75" fill="url(#gblue)" stroke="none" stroke-width="0" />
<circle cx="818.10" cy="643.80" r="4.65" fill="url(#gblue)" stroke="none" stroke-width="0" />
<circle cx="701.60" cy="645.90" r="4.60" fill="url(#gblue)" stroke="none" stroke-width="0" />
<circle cx="688.50" cy="671.50" r="3.50" fill="url(#ggreen)" stroke="none" stroke-width="0" />
<circle cx="779.80" cy="647.50" r="4.65" fill="url(#gblue)" stroke="none" stroke-width="0" />
<circle cx="768.80" cy="573.50" r="8.50" fill="url(#gred)" stroke="none" stroke-width="0" />
<circle cx="736.90" cy="574.00" r="6.90" fill="url(#gred)" stroke="none" stroke-width="0" />
<circle cx="674.20" cy="674.50" r="3.60" fill="url(#ggreen)" stroke="none" stroke-width="0" />
<circle cx="741.30" cy="675.00" r="3.60" fill="url(#ggreen)" stroke="none" stroke-width="0" />
<circle cx="748.70" cy="625.40" r="5.60" fill="url(#gpink)" stroke="none" stroke-width="0" />
<circle cx="654.80" cy="652.40" r="4.70" fill="url(#gblue)" stroke="none" stroke-width="0" />
<circle cx="724.80" cy="602.50" r="6.30" fill="url(#gpurple)" stroke="none" stroke-width="0" />
<circle cx="708.10" cy="677.50" r="3.60" fill="url(#ggreen)" stroke="none" stroke-width="0" />
<circle cx="765.40" cy="627.70" r="5.60" fill="url(#gpink)" stroke="none" stroke-width="0" />
<circle cx="782.60" cy="677.70" r="3.60" fill="url(#ggreen)" stroke="none" stroke-width="0" />
<circle cx="656.50" cy="653.80" r="4.80" fill="url(#gblue)" stroke="none" stroke-width="0" />
<circle cx="693.30" cy="628.90" r="5.75" fill="url(#gpink)" stroke="none" stroke-width="0" />
<circle cx="581.60" cy="605.60" r="6.50" fill="url(#gpurple)" stroke="none" stroke-width="0" />
<circle cx="724.90" cy="656.00" r="4.80" fill="url(#gblue)" stroke="none" stroke-width="0" />
<circle cx="732.10" cy="656.50" r="4.80" fill="url(#gblue)" stroke="none" stroke-width="0" />
<circle cx="722.20" cy="681.60" r="3.65" fill="url(#ggreen)" stroke="none" stroke-width="0" />
<circle cx="704.60" cy="631.80" r="5.75" fill="url(#gpink)" stroke="none" stroke-width="0" />
<circle cx="775.40" cy="682.60" r="3.65" fill="url(#ggreen)" stroke="none" stroke-width="0" />
<circle cx="619.40" cy="657.70" r="4.80" fill="url(#gblue)" stroke="none" stroke-width="0" />
<circle cx="673.30" cy="657.70" r="4.80" fill="url(#gblue)" stroke="none" stroke-width="0" />
<circle cx="715.20" cy="683.00" r="3.65" fill="url(#ggreen)" stroke="none" stroke-width="0" />
<circle cx="649.90" cy="633.50" r="5.90" fill="url(#gpink)" stroke="none" stroke-width="0" />
<circle cx="737.80" cy="634.40" r="5.75" fill="url(#gpink)" stroke="none" stroke-width="0" />
<circle cx="641.40" cy="609.80" r="6.50" fill="url(#gpurple)" stroke="none" stroke-width="0" />
<circle cx="670.30" cy="635.10" r="5.75" fill="url(#gpink)" stroke="none" stroke-width="0" />
<circle cx="672.40" cy="685.10" r="3.70" fill="url(#ggreen)" stroke="none" stroke-width="0" />
<circle cx="716.60" cy="660.40" r="4.90" fill="url(#gblue)" stroke="none" stroke-width="0" />
<circle cx="660.10" cy="686.00" r="3.70" fill="url(#ggreen)" stroke="none" stroke-width="0" />
<circle cx="708.60" cy="636.20" r="5.75" fill="url(#gpink)" stroke="none" stroke-width="0" />
<circle cx="581.60" cy="636.20" r="6.10" fill="url(#gpink)" stroke="none" stroke-width="0" />
<circle cx="712.20" cy="686.30" r="3.70" fill="url(#ggreen)" stroke="none" stroke-width="0" />
<circle cx="626.50" cy="686.90" r="3.75" fill="url(#ggreen)" stroke="none" stroke-width="0" />
<circle cx="727.20" cy="686.90" r="3.70" fill="url(#ggreen)" stroke="none" stroke-width="0" />
<circle cx="734.30" cy="686.90" r="3.70" fill="url(#ggreen)" stroke="none" stroke-width="0" />
<circle cx="711.30" cy="637.90" r="5.90" fill="url(#gpink)" stroke="none" stroke-width="0" />
<circle cx="661.80" cy="688.10" r="3.70" fill="url(#ggreen)" stroke="none" stroke-width="0" />
<circle cx="668.00" cy="638.30" r="5.90" fill="url(#gpink)" stroke="none" stroke-width="0" />
<circle cx="655.60" cy="688.60" r="3.70" fill="url(#ggreen)" stroke="none" stroke-width="0" />
<circle cx="680.90" cy="688.60" r="3.75" fill="url(#ggreen)" stroke="none" stroke-width="0" />
<circle cx="644.50" cy="663.90" r="4.80" fill="url(#gblue)" stroke="none" stroke-width="0" />
<circle cx="649.50" cy="689.20" r="3.70" fill="url(#ggreen)" stroke="none" stroke-width="0" />
<circle cx="693.30" cy="664.40" r="4.90" fill="url(#gblue)" stroke="none" stroke-width="0" />
<circle cx="700.30" cy="664.80" r="4.80" fill="url(#gblue)" stroke="none" stroke-width="0" />
<circle cx="646.60" cy="615.40" r="6.50" fill="url(#gpurple)" stroke="none" stroke-width="0" />
<circle cx="566.60" cy="690.40" r="4.00" fill="url(#ggreen)" stroke="none" stroke-width="0" />
<circle cx="591.70" cy="690.40" r="4.00" fill="url(#ggreen)" stroke="none" stroke-width="0" />
<circle cx="721.90" cy="690.90" r="3.75" fill="url(#ggreen)" stroke="none" stroke-width="0" />
<circle cx="623.00" cy="691.30" r="3.75" fill="url(#ggreen)" stroke="none" stroke-width="0" />
<circle cx="650.90" cy="691.30" r="3.70" fill="url(#ggreen)" stroke="none" stroke-width="0" />
<circle cx="704.20" cy="691.30" r="3.75" fill="url(#ggreen)" stroke="none" stroke-width="0" />
<circle cx="673.80" cy="666.60" r="4.90" fill="url(#gblue)" stroke="none" stroke-width="0" />
<circle cx="728.60" cy="641.80" r="5.90" fill="url(#gpink)" stroke="none" stroke-width="0" />
<circle cx="696.30" cy="666.90" r="5.00" fill="url(#gblue)" stroke="none" stroke-width="0" />
<circle cx="764.30" cy="666.90" r="5.00" fill="url(#gblue)" stroke="none" stroke-width="0" />
<circle cx="644.20" cy="668.30" r="4.90" fill="url(#gblue)" stroke="none" stroke-width="0" />
<circle cx="668.00" cy="668.90" r="5.00" fill="url(#gblue)" stroke="none" stroke-width="0" />
<circle cx="632.70" cy="694.50" r="3.75" fill="url(#ggreen)" stroke="none" stroke-width="0" />
<circle cx="683.90" cy="670.10" r="5.00" fill="url(#gblue)" stroke="none" stroke-width="0" />
<circle cx="607.10" cy="695.20" r="3.75" fill="url(#ggreen)" stroke="none" stroke-width="0" />
<circle cx="611.50" cy="695.20" r="3.75" fill="url(#ggreen)" stroke="none" stroke-width="0" />
<circle cx="742.20" cy="695.20" r="3.80" fill="url(#ggreen)" stroke="none" stroke-width="0" />
<circle cx="705.10" cy="695.90" r="3.80" fill="url(#ggreen)" stroke="none" stroke-width="0" />
<circle cx="639.20" cy="671.00" r="5.00" fill="url(#gblue)" stroke="none" stroke-width="0" />
<circle cx="704.60" cy="671.00" r="5.10" fill="url(#gblue)" stroke="none" stroke-width="0" />
<circle cx="714.50" cy="647.10" r="5.90" fill="url(#gpink)" stroke="none" stroke-width="0" />
<circle cx="730.60" cy="698.10" r="3.90" fill="url(#ggreen)" stroke="none" stroke-width="0" />
<circle cx="604.40" cy="648.90" r="5.90" fill="url(#gpink)" stroke="none" stroke-width="0" />
<circle cx="530.90" cy="674.20" r="5.30" fill="url(#gblue)" stroke="none" stroke-width="0" />
<circle cx="642.00" cy="699.80" r="3.90" fill="url(#ggreen)" stroke="none" stroke-width="0" />
<circle cx="664.50" cy="650.10" r="5.90" fill="url(#gpink)" stroke="none" stroke-width="0" />
<circle cx="656.50" cy="700.70" r="3.90" fill="url(#ggreen)" stroke="none" stroke-width="0" />
<circle cx="648.60" cy="701.00" r="3.90" fill="url(#ggreen)" stroke="none" stroke-width="0" />
<circle cx="670.70" cy="701.00" r="3.90" fill="url(#ggreen)" stroke="none" stroke-width="0" />
<circle cx="691.90" cy="677.20" r="5.20" fill="url(#gblue)" stroke="none" stroke-width="0" />
<circle cx="640.30" cy="678.00" r="5.20" fill="url(#gblue)" stroke="none" stroke-width="0" />
<circle cx="729.80" cy="703.80" r="3.90" fill="url(#ggreen)" stroke="none" stroke-width="0" />
<circle cx="485.40" cy="703.90" r="4.25" fill="url(#ggreen)" stroke="none" stroke-width="0" />
<circle cx="602.60" cy="705.80" r="4.00" fill="url(#ggreen)" stroke="none" stroke-width="0" />
<circle cx="600.50" cy="705.90" r="4.00" fill="url(#ggreen)" stroke="none" stroke-width="0" />
<circle cx="629.70" cy="707.20" r="4.00" fill="url(#ggreen)" stroke="none" stroke-width="0" />
<circle cx="606.20" cy="682.50" r="5.40" fill="url(#gblue)" stroke="none" stroke-width="0" />
<circle cx="704.60" cy="707.60" r="4.00" fill="url(#ggreen)" stroke="none" stroke-width="0" />
<circle cx="667.10" cy="715.20" r="4.10" fill="url(#ggreen)" stroke="none" stroke-width="0" />
<circle cx="574.00" cy="717.20" r="4.10" fill="url(#ggreen)" stroke="none" stroke-width="0" />
<circle cx="502.70" cy="717.60" r="4.50" fill="url(#ggreen)" stroke="none" stroke-width="0" />
<circle cx="462.90" cy="718.20" r="4.50" fill="url(#ggreen)" stroke="none" stroke-width="0" />
<line x1="413.60" y1="549.00" x2="424.40" y2="678.60" stroke="#000" stroke-width="1.5" />
<line x1="424.40" y1="678.60" x2="418.50" y2="788.00" stroke="#000" stroke-width="1.7" />
<line x1="418.50" y1="788.00" x2="941.70" y2="727.20" stroke="#000" stroke-width="1.7" />
<line x1="424.40" y1="678.60" x2="420.80" y2="678.85" stroke="#000" stroke-width="1.2" />
<text font-size="9.4" text-anchor="end" fill="#111" transform="translate(417.2 682.0) scale(1.15 1)">0</text>
<line x1="423.37" y1="666.30" x2="421.17" y2="666.45" stroke="#000" stroke-width="1.0" />
<line x1="422.34" y1="653.86" x2="418.74" y2="654.11" stroke="#000" stroke-width="1.2" />
<text font-size="9.4" text-anchor="end" fill="#111" transform="translate(415.1 657.3) scale(1.15 1)">1</text>
<line x1="421.29" y1="641.27" x2="419.09" y2="641.42" stroke="#000" stroke-width="1.0" />
<line x1="420.23" y1="628.54" x2="416.63" y2="628.79" stroke="#000" stroke-width="1.2" />
<text font-size="9.4" text-anchor="end" fill="#111" transform="translate(413.0 631.9) scale(1.15 1)">2</text>
<line x1="419.16" y1="615.67" x2="416.96" y2="615.82" stroke="#000" stroke-width="1.0" />
<line x1="418.07" y1="602.64" x2="414.47" y2="602.89" stroke="#000" stroke-width="1.2" />
<text font-size="9.4" text-anchor="end" fill="#111" transform="translate(410.9 606.0) scale(1.15 1)">3</text>
<line x1="416.97" y1="589.47" x2="414.77" y2="589.62" stroke="#000" stroke-width="1.0" />
<line x1="415.86" y1="576.14" x2="412.26" y2="576.39" stroke="#000" stroke-width="1.2" />
<text font-size="9.4" text-anchor="end" fill="#111" transform="translate(408.7 579.5) scale(1.15 1)">4</text>
<line x1="414.74" y1="562.65" x2="412.54" y2="562.80" stroke="#000" stroke-width="1.0" />
<line x1="413.60" y1="549.00" x2="410.00" y2="549.25" stroke="#000" stroke-width="1.2" />
<text font-size="9.4" text-anchor="end" fill="#111" transform="translate(406.4 552.4) scale(1.15 1)">5</text>
<line x1="423.62" y1="693.00" x2="420.22" y2="693.60" stroke="#000" stroke-width="1.2" />
<text font-size="6.60" text-anchor="end" fill="#222" transform="translate(416.6 695.9) rotate(-7) skewX(-18) scale(1.324 1)">0.64</text>
<line x1="422.69" y1="710.25" x2="419.29" y2="710.85" stroke="#000" stroke-width="1.2" />
<text font-size="6.84" text-anchor="end" fill="#222" transform="translate(415.7 713.1) rotate(-7) skewX(-18) scale(1.427 1)">0.72</text>
<line x1="421.65" y1="729.57" x2="418.25" y2="730.17" stroke="#000" stroke-width="1.2" />
<text font-size="7.08" text-anchor="end" fill="#222" transform="translate(414.7 732.5) rotate(-7) skewX(-18) scale(1.524 1)">0.80</text>
<line x1="420.47" y1="751.38" x2="417.07" y2="751.98" stroke="#000" stroke-width="1.2" />
<text font-size="7.36" text-anchor="end" fill="#222" transform="translate(413.5 754.3) rotate(-7) skewX(-18) scale(1.628 1)">0.88</text>
<line x1="419.14" y1="776.20" x2="415.74" y2="776.80" stroke="#000" stroke-width="1.2" />
<text font-size="7.63" text-anchor="end" fill="#222" transform="translate(412.1 779.1) rotate(-7) skewX(-18) scale(1.724 1)">0.96</text>
<line x1="424.05" y1="685.06" x2="421.85" y2="685.46" stroke="#000" stroke-width="1.0" />
<line x1="423.17" y1="701.39" x2="420.97" y2="701.79" stroke="#000" stroke-width="1.0" />
<line x1="422.19" y1="719.63" x2="419.99" y2="720.03" stroke="#000" stroke-width="1.0" />
<line x1="421.08" y1="740.14" x2="418.88" y2="740.54" stroke="#000" stroke-width="1.0" />
<line x1="419.83" y1="763.38" x2="417.63" y2="763.78" stroke="#000" stroke-width="1.0" />
<line x1="493.65" y1="779.27" x2="494.01" y2="781.84" stroke="#000" stroke-width="1.2" />
<text font-size="10" fill="#222" transform="matrix(0.0994 0.7194 -1.3007 0.1511 490.00 784.88)">1.68</text>
<line x1="602.36" y1="766.63" x2="603.39" y2="769.02" stroke="#000" stroke-width="1.2" />
<text font-size="10" fill="#222" transform="matrix(0.2890 0.6694 -1.2031 0.1398 600.38 771.85)">1.61</text>
<line x1="703.06" y1="754.93" x2="704.58" y2="757.04" stroke="#000" stroke-width="1.2" />
<text font-size="10" fill="#222" transform="matrix(0.4509 0.6246 -1.1161 0.1297 702.53 759.80)">1.54</text>
<line x1="796.61" y1="744.06" x2="798.46" y2="745.89" stroke="#000" stroke-width="1.2" />
<text font-size="10" fill="#222" transform="matrix(0.5895 0.5845 -1.0382 0.1207 797.32 748.61)">1.47</text>
<line x1="883.74" y1="733.94" x2="885.79" y2="735.53" stroke="#000" stroke-width="1.2" />
<text font-size="10" fill="#222" transform="matrix(0.7084 0.5483 -0.9682 0.1125 885.52 738.20)">1.40</text>
<line x1="435.99" y1="785.97" x2="435.97" y2="787.77" stroke="#000" stroke-width="1.0" />
<line x1="549.07" y1="772.83" x2="549.56" y2="774.56" stroke="#000" stroke-width="1.0" />
<line x1="653.66" y1="760.67" x2="654.56" y2="762.23" stroke="#000" stroke-width="1.0" />
<line x1="750.68" y1="749.40" x2="751.86" y2="750.76" stroke="#000" stroke-width="1.0" />
<line x1="840.93" y1="738.91" x2="842.29" y2="740.09" stroke="#000" stroke-width="1.0" />
<line x1="925.10" y1="729.13" x2="926.57" y2="730.16" stroke="#000" stroke-width="1.0" />
<text font-size="11" fill="#111" transform="translate(409.2 683.6) rotate(-94.8) scale(0.925 1)">Stability Implementation Level</text>
<text font-size="23" fill="#111" transform="translate(370.8 797.6) rotate(-78.1) skewX(4) scale(0.362 1)">ORR Activity (E<tspan font-size="13" dy="5">1/2</tspan><tspan dy="-5">,</tspan><tspan dx="3">V vs. RHE)</tspan></text>
<text font-size="13.3" fill="#111" transform="translate(579.1 793.8) rotate(-6.3) scale(1.33 1)">OER Activity (E</text>
<text font-size="7.6" fill="#111" transform="translate(701.3 782.4) rotate(-8.2) scale(1.45 1)">J=10 mA cm²,</text>
<text font-size="10" fill="#111" transform="translate(772.5 770.9) rotate(-6.6) skewX(-8) scale(1.58 1)">V vs. RHE)</text>
<text x="777.50" y="573.70" font-size="14.6" text-anchor="start" font-weight="normal" fill="#111" >This work</text>
<text x="326.30" y="562.70" font-size="24.7" text-anchor="start" font-weight="bold" fill="#000" >h</text>
</svg>
</body></html>
